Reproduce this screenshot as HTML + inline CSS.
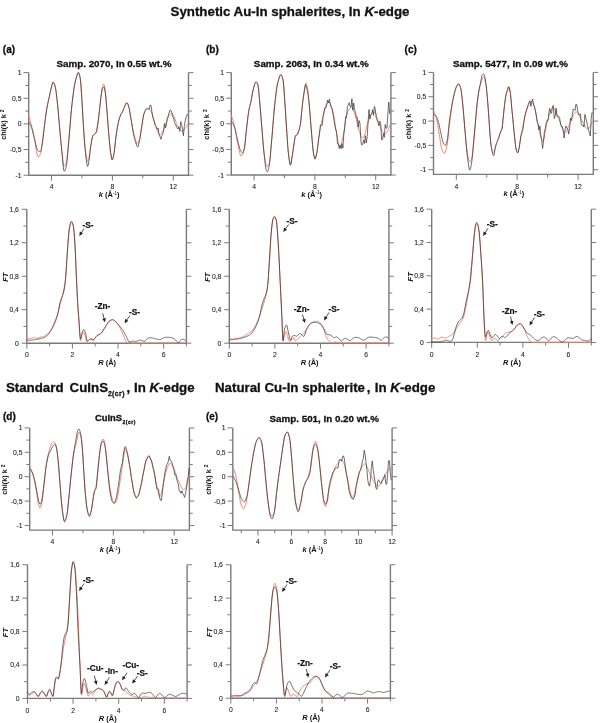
<!DOCTYPE html>
<html><head><meta charset="utf-8"><style>
html,body{margin:0;padding:0;background:#fff;}
svg{display:block;will-change:transform;font-family:'Liberation Sans', sans-serif;}
</style></head><body>
<svg width="600" height="723" viewBox="0 0 600 723">
<rect width="600" height="723" fill="#fff"/>
<line x1="28.70" y1="72.60" x2="28.70" y2="175.20" stroke="#7a7a7a" stroke-width="1.4"/>
<line x1="188.50" y1="72.60" x2="188.50" y2="175.20" stroke="#7a7a7a" stroke-width="1.4"/>
<line x1="28.10" y1="175.20" x2="189.10" y2="175.20" stroke="#7a7a7a" stroke-width="1.4"/>
<line x1="23.60" y1="175.20" x2="28.70" y2="175.20" stroke="#7a7a7a" stroke-width="1.0"/>
<text x="21.50" y="177.70" font-size="6.8" text-anchor="end" font-weight="normal" font-style="normal" fill="#222" stroke="#222" stroke-width="0.08" >-1</text>
<line x1="23.60" y1="149.55" x2="28.70" y2="149.55" stroke="#7a7a7a" stroke-width="1.0"/>
<text x="21.50" y="152.05" font-size="6.8" text-anchor="end" font-weight="normal" font-style="normal" fill="#222" stroke="#222" stroke-width="0.08" >-0,5</text>
<line x1="23.60" y1="123.90" x2="28.70" y2="123.90" stroke="#7a7a7a" stroke-width="1.0"/>
<text x="21.50" y="126.40" font-size="6.8" text-anchor="end" font-weight="normal" font-style="normal" fill="#222" stroke="#222" stroke-width="0.08" >0</text>
<line x1="23.60" y1="98.25" x2="28.70" y2="98.25" stroke="#7a7a7a" stroke-width="1.0"/>
<text x="21.50" y="100.75" font-size="6.8" text-anchor="end" font-weight="normal" font-style="normal" fill="#222" stroke="#222" stroke-width="0.08" >0,5</text>
<line x1="23.60" y1="72.60" x2="28.70" y2="72.60" stroke="#7a7a7a" stroke-width="1.0"/>
<text x="21.50" y="75.10" font-size="6.8" text-anchor="end" font-weight="normal" font-style="normal" fill="#222" stroke="#222" stroke-width="0.08" >1</text>
<line x1="25.30" y1="162.38" x2="28.70" y2="162.38" stroke="#7a7a7a" stroke-width="1.0"/>
<line x1="25.30" y1="136.72" x2="28.70" y2="136.72" stroke="#7a7a7a" stroke-width="1.0"/>
<line x1="25.30" y1="111.07" x2="28.70" y2="111.07" stroke="#7a7a7a" stroke-width="1.0"/>
<line x1="25.30" y1="85.42" x2="28.70" y2="85.42" stroke="#7a7a7a" stroke-width="1.0"/>
<line x1="188.50" y1="175.20" x2="193.40" y2="175.20" stroke="#7a7a7a" stroke-width="1.0"/>
<line x1="188.50" y1="149.55" x2="193.40" y2="149.55" stroke="#7a7a7a" stroke-width="1.0"/>
<line x1="188.50" y1="123.90" x2="193.40" y2="123.90" stroke="#7a7a7a" stroke-width="1.0"/>
<line x1="188.50" y1="98.25" x2="193.40" y2="98.25" stroke="#7a7a7a" stroke-width="1.0"/>
<line x1="188.50" y1="72.60" x2="193.40" y2="72.60" stroke="#7a7a7a" stroke-width="1.0"/>
<line x1="188.50" y1="162.38" x2="191.80" y2="162.38" stroke="#7a7a7a" stroke-width="1.0"/>
<line x1="188.50" y1="136.72" x2="191.80" y2="136.72" stroke="#7a7a7a" stroke-width="1.0"/>
<line x1="188.50" y1="111.07" x2="191.80" y2="111.07" stroke="#7a7a7a" stroke-width="1.0"/>
<line x1="188.50" y1="85.42" x2="191.80" y2="85.42" stroke="#7a7a7a" stroke-width="1.0"/>
<line x1="51.53" y1="175.20" x2="51.53" y2="180.60" stroke="#7a7a7a" stroke-width="1.0"/>
<text x="51.53" y="189.40" font-size="6.8" text-anchor="middle" font-weight="normal" font-style="normal" fill="#222" stroke="#222" stroke-width="0.08" >4</text>
<line x1="112.40" y1="175.20" x2="112.40" y2="180.60" stroke="#7a7a7a" stroke-width="1.0"/>
<text x="112.40" y="189.40" font-size="6.8" text-anchor="middle" font-weight="normal" font-style="normal" fill="#222" stroke="#222" stroke-width="0.08" >8</text>
<line x1="173.28" y1="175.20" x2="173.28" y2="180.60" stroke="#7a7a7a" stroke-width="1.0"/>
<text x="173.28" y="189.40" font-size="6.8" text-anchor="middle" font-weight="normal" font-style="normal" fill="#222" stroke="#222" stroke-width="0.08" >12</text>
<line x1="81.97" y1="175.20" x2="81.97" y2="178.40" stroke="#7a7a7a" stroke-width="1.0"/>
<line x1="142.84" y1="175.20" x2="142.84" y2="178.40" stroke="#7a7a7a" stroke-width="1.0"/>
<text transform="translate(6.40,124.60) rotate(-90)" font-size="7.3" font-weight="bold" text-anchor="middle" fill="#111">chi(k) k <tspan font-size="4.8" dy="-2.1">2</tspan></text>
<text x="109.10" y="197.00" font-size="7.5" font-weight="bold" text-anchor="middle" fill="#111"><tspan font-style="italic">k</tspan> (Å<tspan font-size="4.6" font-weight="normal" dy="-2.4">-1</tspan><tspan dy="2.4">)</tspan></text>
<line x1="26.80" y1="209.30" x2="26.80" y2="343.20" stroke="#7a7a7a" stroke-width="1.4"/>
<line x1="186.40" y1="209.30" x2="186.40" y2="343.20" stroke="#7a7a7a" stroke-width="1.4"/>
<line x1="26.20" y1="343.20" x2="187.00" y2="343.20" stroke="#7a7a7a" stroke-width="1.4"/>
<line x1="21.70" y1="343.20" x2="26.80" y2="343.20" stroke="#7a7a7a" stroke-width="1.0"/>
<text x="18.90" y="345.70" font-size="6.8" text-anchor="end" font-weight="normal" font-style="normal" fill="#222" stroke="#222" stroke-width="0.08" >0</text>
<line x1="21.70" y1="309.73" x2="26.80" y2="309.73" stroke="#7a7a7a" stroke-width="1.0"/>
<text x="18.90" y="312.23" font-size="6.8" text-anchor="end" font-weight="normal" font-style="normal" fill="#222" stroke="#222" stroke-width="0.08" >0,4</text>
<line x1="21.70" y1="276.25" x2="26.80" y2="276.25" stroke="#7a7a7a" stroke-width="1.0"/>
<text x="18.90" y="278.75" font-size="6.8" text-anchor="end" font-weight="normal" font-style="normal" fill="#222" stroke="#222" stroke-width="0.08" >0,8</text>
<line x1="21.70" y1="242.78" x2="26.80" y2="242.78" stroke="#7a7a7a" stroke-width="1.0"/>
<text x="18.90" y="245.28" font-size="6.8" text-anchor="end" font-weight="normal" font-style="normal" fill="#222" stroke="#222" stroke-width="0.08" >1,2</text>
<line x1="21.70" y1="209.30" x2="26.80" y2="209.30" stroke="#7a7a7a" stroke-width="1.0"/>
<text x="18.90" y="211.80" font-size="6.8" text-anchor="end" font-weight="normal" font-style="normal" fill="#222" stroke="#222" stroke-width="0.08" >1,6</text>
<line x1="23.40" y1="326.46" x2="26.80" y2="326.46" stroke="#7a7a7a" stroke-width="1.0"/>
<line x1="23.40" y1="292.99" x2="26.80" y2="292.99" stroke="#7a7a7a" stroke-width="1.0"/>
<line x1="23.40" y1="259.51" x2="26.80" y2="259.51" stroke="#7a7a7a" stroke-width="1.0"/>
<line x1="23.40" y1="226.04" x2="26.80" y2="226.04" stroke="#7a7a7a" stroke-width="1.0"/>
<line x1="186.40" y1="343.20" x2="191.30" y2="343.20" stroke="#7a7a7a" stroke-width="1.0"/>
<line x1="186.40" y1="309.73" x2="191.30" y2="309.73" stroke="#7a7a7a" stroke-width="1.0"/>
<line x1="186.40" y1="276.25" x2="191.30" y2="276.25" stroke="#7a7a7a" stroke-width="1.0"/>
<line x1="186.40" y1="242.78" x2="191.30" y2="242.78" stroke="#7a7a7a" stroke-width="1.0"/>
<line x1="186.40" y1="209.30" x2="191.30" y2="209.30" stroke="#7a7a7a" stroke-width="1.0"/>
<line x1="186.40" y1="326.46" x2="189.70" y2="326.46" stroke="#7a7a7a" stroke-width="1.0"/>
<line x1="186.40" y1="292.99" x2="189.70" y2="292.99" stroke="#7a7a7a" stroke-width="1.0"/>
<line x1="186.40" y1="259.51" x2="189.70" y2="259.51" stroke="#7a7a7a" stroke-width="1.0"/>
<line x1="186.40" y1="226.04" x2="189.70" y2="226.04" stroke="#7a7a7a" stroke-width="1.0"/>
<line x1="26.80" y1="343.20" x2="26.80" y2="348.60" stroke="#7a7a7a" stroke-width="1.0"/>
<text x="26.80" y="357.40" font-size="6.8" text-anchor="middle" font-weight="normal" font-style="normal" fill="#222" stroke="#222" stroke-width="0.08" >0</text>
<line x1="72.40" y1="343.20" x2="72.40" y2="348.60" stroke="#7a7a7a" stroke-width="1.0"/>
<text x="72.40" y="357.40" font-size="6.8" text-anchor="middle" font-weight="normal" font-style="normal" fill="#222" stroke="#222" stroke-width="0.08" >2</text>
<line x1="118.00" y1="343.20" x2="118.00" y2="348.60" stroke="#7a7a7a" stroke-width="1.0"/>
<text x="118.00" y="357.40" font-size="6.8" text-anchor="middle" font-weight="normal" font-style="normal" fill="#222" stroke="#222" stroke-width="0.08" >4</text>
<line x1="163.60" y1="343.20" x2="163.60" y2="348.60" stroke="#7a7a7a" stroke-width="1.0"/>
<text x="163.60" y="357.40" font-size="6.8" text-anchor="middle" font-weight="normal" font-style="normal" fill="#222" stroke="#222" stroke-width="0.08" >6</text>
<line x1="49.60" y1="343.20" x2="49.60" y2="346.40" stroke="#7a7a7a" stroke-width="1.0"/>
<line x1="95.20" y1="343.20" x2="95.20" y2="346.40" stroke="#7a7a7a" stroke-width="1.0"/>
<line x1="140.80" y1="343.20" x2="140.80" y2="346.40" stroke="#7a7a7a" stroke-width="1.0"/>
<line x1="186.40" y1="343.20" x2="186.40" y2="346.40" stroke="#7a7a7a" stroke-width="1.0"/>
<text transform="translate(7.60,277.25) rotate(-90)" font-size="7.5" font-weight="bold" font-style="italic" text-anchor="middle" fill="#111">FT</text>
<text x="107.10" y="365.40" font-size="7.5" font-weight="bold" text-anchor="middle" fill="#111"><tspan font-style="italic">R</tspan> (Å)</text>
<line x1="231.30" y1="72.60" x2="231.30" y2="175.00" stroke="#7a7a7a" stroke-width="1.4"/>
<line x1="390.90" y1="72.60" x2="390.90" y2="175.00" stroke="#7a7a7a" stroke-width="1.4"/>
<line x1="230.70" y1="175.00" x2="391.50" y2="175.00" stroke="#7a7a7a" stroke-width="1.4"/>
<line x1="226.20" y1="175.00" x2="231.30" y2="175.00" stroke="#7a7a7a" stroke-width="1.0"/>
<text x="224.10" y="177.50" font-size="6.8" text-anchor="end" font-weight="normal" font-style="normal" fill="#222" stroke="#222" stroke-width="0.08" >-1</text>
<line x1="226.20" y1="149.40" x2="231.30" y2="149.40" stroke="#7a7a7a" stroke-width="1.0"/>
<text x="224.10" y="151.90" font-size="6.8" text-anchor="end" font-weight="normal" font-style="normal" fill="#222" stroke="#222" stroke-width="0.08" >-0,5</text>
<line x1="226.20" y1="123.80" x2="231.30" y2="123.80" stroke="#7a7a7a" stroke-width="1.0"/>
<text x="224.10" y="126.30" font-size="6.8" text-anchor="end" font-weight="normal" font-style="normal" fill="#222" stroke="#222" stroke-width="0.08" >0</text>
<line x1="226.20" y1="98.20" x2="231.30" y2="98.20" stroke="#7a7a7a" stroke-width="1.0"/>
<text x="224.10" y="100.70" font-size="6.8" text-anchor="end" font-weight="normal" font-style="normal" fill="#222" stroke="#222" stroke-width="0.08" >0,5</text>
<line x1="226.20" y1="72.60" x2="231.30" y2="72.60" stroke="#7a7a7a" stroke-width="1.0"/>
<text x="224.10" y="75.10" font-size="6.8" text-anchor="end" font-weight="normal" font-style="normal" fill="#222" stroke="#222" stroke-width="0.08" >1</text>
<line x1="227.90" y1="162.20" x2="231.30" y2="162.20" stroke="#7a7a7a" stroke-width="1.0"/>
<line x1="227.90" y1="136.60" x2="231.30" y2="136.60" stroke="#7a7a7a" stroke-width="1.0"/>
<line x1="227.90" y1="111.00" x2="231.30" y2="111.00" stroke="#7a7a7a" stroke-width="1.0"/>
<line x1="227.90" y1="85.40" x2="231.30" y2="85.40" stroke="#7a7a7a" stroke-width="1.0"/>
<line x1="390.90" y1="175.00" x2="395.80" y2="175.00" stroke="#7a7a7a" stroke-width="1.0"/>
<line x1="390.90" y1="149.40" x2="395.80" y2="149.40" stroke="#7a7a7a" stroke-width="1.0"/>
<line x1="390.90" y1="123.80" x2="395.80" y2="123.80" stroke="#7a7a7a" stroke-width="1.0"/>
<line x1="390.90" y1="98.20" x2="395.80" y2="98.20" stroke="#7a7a7a" stroke-width="1.0"/>
<line x1="390.90" y1="72.60" x2="395.80" y2="72.60" stroke="#7a7a7a" stroke-width="1.0"/>
<line x1="390.90" y1="162.20" x2="394.20" y2="162.20" stroke="#7a7a7a" stroke-width="1.0"/>
<line x1="390.90" y1="136.60" x2="394.20" y2="136.60" stroke="#7a7a7a" stroke-width="1.0"/>
<line x1="390.90" y1="111.00" x2="394.20" y2="111.00" stroke="#7a7a7a" stroke-width="1.0"/>
<line x1="390.90" y1="85.40" x2="394.20" y2="85.40" stroke="#7a7a7a" stroke-width="1.0"/>
<line x1="254.10" y1="175.00" x2="254.10" y2="180.40" stroke="#7a7a7a" stroke-width="1.0"/>
<text x="254.10" y="189.20" font-size="6.8" text-anchor="middle" font-weight="normal" font-style="normal" fill="#222" stroke="#222" stroke-width="0.08" >4</text>
<line x1="314.90" y1="175.00" x2="314.90" y2="180.40" stroke="#7a7a7a" stroke-width="1.0"/>
<text x="314.90" y="189.20" font-size="6.8" text-anchor="middle" font-weight="normal" font-style="normal" fill="#222" stroke="#222" stroke-width="0.08" >8</text>
<line x1="375.70" y1="175.00" x2="375.70" y2="180.40" stroke="#7a7a7a" stroke-width="1.0"/>
<text x="375.70" y="189.20" font-size="6.8" text-anchor="middle" font-weight="normal" font-style="normal" fill="#222" stroke="#222" stroke-width="0.08" >12</text>
<line x1="284.50" y1="175.00" x2="284.50" y2="178.20" stroke="#7a7a7a" stroke-width="1.0"/>
<line x1="345.30" y1="175.00" x2="345.30" y2="178.20" stroke="#7a7a7a" stroke-width="1.0"/>
<text transform="translate(209.00,124.50) rotate(-90)" font-size="7.3" font-weight="bold" text-anchor="middle" fill="#111">chi(k) k <tspan font-size="4.8" dy="-2.1">2</tspan></text>
<text x="311.60" y="196.80" font-size="7.5" font-weight="bold" text-anchor="middle" fill="#111"><tspan font-style="italic">k</tspan> (Å<tspan font-size="4.6" font-weight="normal" dy="-2.4">-1</tspan><tspan dy="2.4">)</tspan></text>
<line x1="229.30" y1="209.30" x2="229.30" y2="343.20" stroke="#7a7a7a" stroke-width="1.4"/>
<line x1="388.90" y1="209.30" x2="388.90" y2="343.20" stroke="#7a7a7a" stroke-width="1.4"/>
<line x1="228.70" y1="343.20" x2="389.50" y2="343.20" stroke="#7a7a7a" stroke-width="1.4"/>
<line x1="224.20" y1="343.20" x2="229.30" y2="343.20" stroke="#7a7a7a" stroke-width="1.0"/>
<text x="221.40" y="345.70" font-size="6.8" text-anchor="end" font-weight="normal" font-style="normal" fill="#222" stroke="#222" stroke-width="0.08" >0</text>
<line x1="224.20" y1="309.73" x2="229.30" y2="309.73" stroke="#7a7a7a" stroke-width="1.0"/>
<text x="221.40" y="312.23" font-size="6.8" text-anchor="end" font-weight="normal" font-style="normal" fill="#222" stroke="#222" stroke-width="0.08" >0,4</text>
<line x1="224.20" y1="276.25" x2="229.30" y2="276.25" stroke="#7a7a7a" stroke-width="1.0"/>
<text x="221.40" y="278.75" font-size="6.8" text-anchor="end" font-weight="normal" font-style="normal" fill="#222" stroke="#222" stroke-width="0.08" >0,8</text>
<line x1="224.20" y1="242.78" x2="229.30" y2="242.78" stroke="#7a7a7a" stroke-width="1.0"/>
<text x="221.40" y="245.28" font-size="6.8" text-anchor="end" font-weight="normal" font-style="normal" fill="#222" stroke="#222" stroke-width="0.08" >1,2</text>
<line x1="224.20" y1="209.30" x2="229.30" y2="209.30" stroke="#7a7a7a" stroke-width="1.0"/>
<text x="221.40" y="211.80" font-size="6.8" text-anchor="end" font-weight="normal" font-style="normal" fill="#222" stroke="#222" stroke-width="0.08" >1,6</text>
<line x1="225.90" y1="326.46" x2="229.30" y2="326.46" stroke="#7a7a7a" stroke-width="1.0"/>
<line x1="225.90" y1="292.99" x2="229.30" y2="292.99" stroke="#7a7a7a" stroke-width="1.0"/>
<line x1="225.90" y1="259.51" x2="229.30" y2="259.51" stroke="#7a7a7a" stroke-width="1.0"/>
<line x1="225.90" y1="226.04" x2="229.30" y2="226.04" stroke="#7a7a7a" stroke-width="1.0"/>
<line x1="388.90" y1="343.20" x2="393.80" y2="343.20" stroke="#7a7a7a" stroke-width="1.0"/>
<line x1="388.90" y1="309.73" x2="393.80" y2="309.73" stroke="#7a7a7a" stroke-width="1.0"/>
<line x1="388.90" y1="276.25" x2="393.80" y2="276.25" stroke="#7a7a7a" stroke-width="1.0"/>
<line x1="388.90" y1="242.78" x2="393.80" y2="242.78" stroke="#7a7a7a" stroke-width="1.0"/>
<line x1="388.90" y1="209.30" x2="393.80" y2="209.30" stroke="#7a7a7a" stroke-width="1.0"/>
<line x1="388.90" y1="326.46" x2="392.20" y2="326.46" stroke="#7a7a7a" stroke-width="1.0"/>
<line x1="388.90" y1="292.99" x2="392.20" y2="292.99" stroke="#7a7a7a" stroke-width="1.0"/>
<line x1="388.90" y1="259.51" x2="392.20" y2="259.51" stroke="#7a7a7a" stroke-width="1.0"/>
<line x1="388.90" y1="226.04" x2="392.20" y2="226.04" stroke="#7a7a7a" stroke-width="1.0"/>
<line x1="229.30" y1="343.20" x2="229.30" y2="348.60" stroke="#7a7a7a" stroke-width="1.0"/>
<text x="229.30" y="357.40" font-size="6.8" text-anchor="middle" font-weight="normal" font-style="normal" fill="#222" stroke="#222" stroke-width="0.08" >0</text>
<line x1="274.90" y1="343.20" x2="274.90" y2="348.60" stroke="#7a7a7a" stroke-width="1.0"/>
<text x="274.90" y="357.40" font-size="6.8" text-anchor="middle" font-weight="normal" font-style="normal" fill="#222" stroke="#222" stroke-width="0.08" >2</text>
<line x1="320.50" y1="343.20" x2="320.50" y2="348.60" stroke="#7a7a7a" stroke-width="1.0"/>
<text x="320.50" y="357.40" font-size="6.8" text-anchor="middle" font-weight="normal" font-style="normal" fill="#222" stroke="#222" stroke-width="0.08" >4</text>
<line x1="366.10" y1="343.20" x2="366.10" y2="348.60" stroke="#7a7a7a" stroke-width="1.0"/>
<text x="366.10" y="357.40" font-size="6.8" text-anchor="middle" font-weight="normal" font-style="normal" fill="#222" stroke="#222" stroke-width="0.08" >6</text>
<line x1="252.10" y1="343.20" x2="252.10" y2="346.40" stroke="#7a7a7a" stroke-width="1.0"/>
<line x1="297.70" y1="343.20" x2="297.70" y2="346.40" stroke="#7a7a7a" stroke-width="1.0"/>
<line x1="343.30" y1="343.20" x2="343.30" y2="346.40" stroke="#7a7a7a" stroke-width="1.0"/>
<line x1="388.90" y1="343.20" x2="388.90" y2="346.40" stroke="#7a7a7a" stroke-width="1.0"/>
<text transform="translate(210.10,277.25) rotate(-90)" font-size="7.5" font-weight="bold" font-style="italic" text-anchor="middle" fill="#111">FT</text>
<text x="309.60" y="365.40" font-size="7.5" font-weight="bold" text-anchor="middle" fill="#111"><tspan font-style="italic">R</tspan> (Å)</text>
<line x1="433.50" y1="72.40" x2="433.50" y2="174.40" stroke="#7a7a7a" stroke-width="1.4"/>
<line x1="593.30" y1="72.40" x2="593.30" y2="174.40" stroke="#7a7a7a" stroke-width="1.4"/>
<line x1="432.90" y1="174.40" x2="593.90" y2="174.40" stroke="#7a7a7a" stroke-width="1.4"/>
<line x1="428.40" y1="169.70" x2="433.50" y2="169.70" stroke="#7a7a7a" stroke-width="1.0"/>
<text x="426.30" y="172.20" font-size="6.8" text-anchor="end" font-weight="normal" font-style="normal" fill="#222" stroke="#222" stroke-width="0.08" >-1</text>
<line x1="428.40" y1="145.38" x2="433.50" y2="145.38" stroke="#7a7a7a" stroke-width="1.0"/>
<text x="426.30" y="147.88" font-size="6.8" text-anchor="end" font-weight="normal" font-style="normal" fill="#222" stroke="#222" stroke-width="0.08" >-0,5</text>
<line x1="428.40" y1="121.05" x2="433.50" y2="121.05" stroke="#7a7a7a" stroke-width="1.0"/>
<text x="426.30" y="123.55" font-size="6.8" text-anchor="end" font-weight="normal" font-style="normal" fill="#222" stroke="#222" stroke-width="0.08" >0</text>
<line x1="428.40" y1="96.72" x2="433.50" y2="96.72" stroke="#7a7a7a" stroke-width="1.0"/>
<text x="426.30" y="99.22" font-size="6.8" text-anchor="end" font-weight="normal" font-style="normal" fill="#222" stroke="#222" stroke-width="0.08" >0,5</text>
<line x1="428.40" y1="72.40" x2="433.50" y2="72.40" stroke="#7a7a7a" stroke-width="1.0"/>
<text x="426.30" y="74.90" font-size="6.8" text-anchor="end" font-weight="normal" font-style="normal" fill="#222" stroke="#222" stroke-width="0.08" >1</text>
<line x1="430.10" y1="157.54" x2="433.50" y2="157.54" stroke="#7a7a7a" stroke-width="1.0"/>
<line x1="430.10" y1="133.21" x2="433.50" y2="133.21" stroke="#7a7a7a" stroke-width="1.0"/>
<line x1="430.10" y1="108.89" x2="433.50" y2="108.89" stroke="#7a7a7a" stroke-width="1.0"/>
<line x1="430.10" y1="84.56" x2="433.50" y2="84.56" stroke="#7a7a7a" stroke-width="1.0"/>
<line x1="593.30" y1="169.70" x2="598.20" y2="169.70" stroke="#7a7a7a" stroke-width="1.0"/>
<line x1="593.30" y1="145.38" x2="598.20" y2="145.38" stroke="#7a7a7a" stroke-width="1.0"/>
<line x1="593.30" y1="121.05" x2="598.20" y2="121.05" stroke="#7a7a7a" stroke-width="1.0"/>
<line x1="593.30" y1="96.72" x2="598.20" y2="96.72" stroke="#7a7a7a" stroke-width="1.0"/>
<line x1="593.30" y1="72.40" x2="598.20" y2="72.40" stroke="#7a7a7a" stroke-width="1.0"/>
<line x1="593.30" y1="157.54" x2="596.60" y2="157.54" stroke="#7a7a7a" stroke-width="1.0"/>
<line x1="593.30" y1="133.21" x2="596.60" y2="133.21" stroke="#7a7a7a" stroke-width="1.0"/>
<line x1="593.30" y1="108.89" x2="596.60" y2="108.89" stroke="#7a7a7a" stroke-width="1.0"/>
<line x1="593.30" y1="84.56" x2="596.60" y2="84.56" stroke="#7a7a7a" stroke-width="1.0"/>
<line x1="456.33" y1="174.40" x2="456.33" y2="179.80" stroke="#7a7a7a" stroke-width="1.0"/>
<text x="456.33" y="188.60" font-size="6.8" text-anchor="middle" font-weight="normal" font-style="normal" fill="#222" stroke="#222" stroke-width="0.08" >4</text>
<line x1="517.20" y1="174.40" x2="517.20" y2="179.80" stroke="#7a7a7a" stroke-width="1.0"/>
<text x="517.20" y="188.60" font-size="6.8" text-anchor="middle" font-weight="normal" font-style="normal" fill="#222" stroke="#222" stroke-width="0.08" >8</text>
<line x1="578.08" y1="174.40" x2="578.08" y2="179.80" stroke="#7a7a7a" stroke-width="1.0"/>
<text x="578.08" y="188.60" font-size="6.8" text-anchor="middle" font-weight="normal" font-style="normal" fill="#222" stroke="#222" stroke-width="0.08" >12</text>
<line x1="486.77" y1="174.40" x2="486.77" y2="177.60" stroke="#7a7a7a" stroke-width="1.0"/>
<line x1="547.64" y1="174.40" x2="547.64" y2="177.60" stroke="#7a7a7a" stroke-width="1.0"/>
<text transform="translate(411.20,124.10) rotate(-90)" font-size="7.3" font-weight="bold" text-anchor="middle" fill="#111">chi(k) k <tspan font-size="4.8" dy="-2.1">2</tspan></text>
<text x="513.90" y="196.20" font-size="7.5" font-weight="bold" text-anchor="middle" fill="#111"><tspan font-style="italic">k</tspan> (Å<tspan font-size="4.6" font-weight="normal" dy="-2.4">-1</tspan><tspan dy="2.4">)</tspan></text>
<line x1="431.70" y1="209.20" x2="431.70" y2="342.40" stroke="#7a7a7a" stroke-width="1.4"/>
<line x1="591.30" y1="209.20" x2="591.30" y2="342.40" stroke="#7a7a7a" stroke-width="1.4"/>
<line x1="431.10" y1="342.40" x2="591.90" y2="342.40" stroke="#7a7a7a" stroke-width="1.4"/>
<line x1="426.60" y1="342.40" x2="431.70" y2="342.40" stroke="#7a7a7a" stroke-width="1.0"/>
<text x="423.80" y="344.90" font-size="6.8" text-anchor="end" font-weight="normal" font-style="normal" fill="#222" stroke="#222" stroke-width="0.08" >0</text>
<line x1="426.60" y1="309.10" x2="431.70" y2="309.10" stroke="#7a7a7a" stroke-width="1.0"/>
<text x="423.80" y="311.60" font-size="6.8" text-anchor="end" font-weight="normal" font-style="normal" fill="#222" stroke="#222" stroke-width="0.08" >0,4</text>
<line x1="426.60" y1="275.80" x2="431.70" y2="275.80" stroke="#7a7a7a" stroke-width="1.0"/>
<text x="423.80" y="278.30" font-size="6.8" text-anchor="end" font-weight="normal" font-style="normal" fill="#222" stroke="#222" stroke-width="0.08" >0,8</text>
<line x1="426.60" y1="242.50" x2="431.70" y2="242.50" stroke="#7a7a7a" stroke-width="1.0"/>
<text x="423.80" y="245.00" font-size="6.8" text-anchor="end" font-weight="normal" font-style="normal" fill="#222" stroke="#222" stroke-width="0.08" >1,2</text>
<line x1="426.60" y1="209.20" x2="431.70" y2="209.20" stroke="#7a7a7a" stroke-width="1.0"/>
<text x="423.80" y="211.70" font-size="6.8" text-anchor="end" font-weight="normal" font-style="normal" fill="#222" stroke="#222" stroke-width="0.08" >1,6</text>
<line x1="428.30" y1="325.75" x2="431.70" y2="325.75" stroke="#7a7a7a" stroke-width="1.0"/>
<line x1="428.30" y1="292.45" x2="431.70" y2="292.45" stroke="#7a7a7a" stroke-width="1.0"/>
<line x1="428.30" y1="259.15" x2="431.70" y2="259.15" stroke="#7a7a7a" stroke-width="1.0"/>
<line x1="428.30" y1="225.85" x2="431.70" y2="225.85" stroke="#7a7a7a" stroke-width="1.0"/>
<line x1="591.30" y1="342.40" x2="596.20" y2="342.40" stroke="#7a7a7a" stroke-width="1.0"/>
<line x1="591.30" y1="309.10" x2="596.20" y2="309.10" stroke="#7a7a7a" stroke-width="1.0"/>
<line x1="591.30" y1="275.80" x2="596.20" y2="275.80" stroke="#7a7a7a" stroke-width="1.0"/>
<line x1="591.30" y1="242.50" x2="596.20" y2="242.50" stroke="#7a7a7a" stroke-width="1.0"/>
<line x1="591.30" y1="209.20" x2="596.20" y2="209.20" stroke="#7a7a7a" stroke-width="1.0"/>
<line x1="591.30" y1="325.75" x2="594.60" y2="325.75" stroke="#7a7a7a" stroke-width="1.0"/>
<line x1="591.30" y1="292.45" x2="594.60" y2="292.45" stroke="#7a7a7a" stroke-width="1.0"/>
<line x1="591.30" y1="259.15" x2="594.60" y2="259.15" stroke="#7a7a7a" stroke-width="1.0"/>
<line x1="591.30" y1="225.85" x2="594.60" y2="225.85" stroke="#7a7a7a" stroke-width="1.0"/>
<line x1="431.70" y1="342.40" x2="431.70" y2="347.80" stroke="#7a7a7a" stroke-width="1.0"/>
<text x="431.70" y="356.60" font-size="6.8" text-anchor="middle" font-weight="normal" font-style="normal" fill="#222" stroke="#222" stroke-width="0.08" >0</text>
<line x1="477.30" y1="342.40" x2="477.30" y2="347.80" stroke="#7a7a7a" stroke-width="1.0"/>
<text x="477.30" y="356.60" font-size="6.8" text-anchor="middle" font-weight="normal" font-style="normal" fill="#222" stroke="#222" stroke-width="0.08" >2</text>
<line x1="522.90" y1="342.40" x2="522.90" y2="347.80" stroke="#7a7a7a" stroke-width="1.0"/>
<text x="522.90" y="356.60" font-size="6.8" text-anchor="middle" font-weight="normal" font-style="normal" fill="#222" stroke="#222" stroke-width="0.08" >4</text>
<line x1="568.50" y1="342.40" x2="568.50" y2="347.80" stroke="#7a7a7a" stroke-width="1.0"/>
<text x="568.50" y="356.60" font-size="6.8" text-anchor="middle" font-weight="normal" font-style="normal" fill="#222" stroke="#222" stroke-width="0.08" >6</text>
<line x1="454.50" y1="342.40" x2="454.50" y2="345.60" stroke="#7a7a7a" stroke-width="1.0"/>
<line x1="500.10" y1="342.40" x2="500.10" y2="345.60" stroke="#7a7a7a" stroke-width="1.0"/>
<line x1="545.70" y1="342.40" x2="545.70" y2="345.60" stroke="#7a7a7a" stroke-width="1.0"/>
<line x1="591.30" y1="342.40" x2="591.30" y2="345.60" stroke="#7a7a7a" stroke-width="1.0"/>
<text transform="translate(412.50,276.80) rotate(-90)" font-size="7.5" font-weight="bold" font-style="italic" text-anchor="middle" fill="#111">FT</text>
<text x="512.00" y="364.60" font-size="7.5" font-weight="bold" text-anchor="middle" fill="#111"><tspan font-style="italic">R</tspan> (Å)</text>
<line x1="29.70" y1="427.90" x2="29.70" y2="530.10" stroke="#7a7a7a" stroke-width="1.4"/>
<line x1="189.40" y1="427.90" x2="189.40" y2="530.10" stroke="#7a7a7a" stroke-width="1.4"/>
<line x1="29.10" y1="530.10" x2="190.00" y2="530.10" stroke="#7a7a7a" stroke-width="1.4"/>
<line x1="24.60" y1="525.50" x2="29.70" y2="525.50" stroke="#7a7a7a" stroke-width="1.0"/>
<text x="22.50" y="528.00" font-size="6.8" text-anchor="end" font-weight="normal" font-style="normal" fill="#222" stroke="#222" stroke-width="0.08" >-1</text>
<line x1="24.60" y1="501.10" x2="29.70" y2="501.10" stroke="#7a7a7a" stroke-width="1.0"/>
<text x="22.50" y="503.60" font-size="6.8" text-anchor="end" font-weight="normal" font-style="normal" fill="#222" stroke="#222" stroke-width="0.08" >-0,5</text>
<line x1="24.60" y1="476.70" x2="29.70" y2="476.70" stroke="#7a7a7a" stroke-width="1.0"/>
<text x="22.50" y="479.20" font-size="6.8" text-anchor="end" font-weight="normal" font-style="normal" fill="#222" stroke="#222" stroke-width="0.08" >0</text>
<line x1="24.60" y1="452.30" x2="29.70" y2="452.30" stroke="#7a7a7a" stroke-width="1.0"/>
<text x="22.50" y="454.80" font-size="6.8" text-anchor="end" font-weight="normal" font-style="normal" fill="#222" stroke="#222" stroke-width="0.08" >0,5</text>
<line x1="24.60" y1="427.90" x2="29.70" y2="427.90" stroke="#7a7a7a" stroke-width="1.0"/>
<text x="22.50" y="430.40" font-size="6.8" text-anchor="end" font-weight="normal" font-style="normal" fill="#222" stroke="#222" stroke-width="0.08" >1</text>
<line x1="26.30" y1="513.30" x2="29.70" y2="513.30" stroke="#7a7a7a" stroke-width="1.0"/>
<line x1="26.30" y1="488.90" x2="29.70" y2="488.90" stroke="#7a7a7a" stroke-width="1.0"/>
<line x1="26.30" y1="464.50" x2="29.70" y2="464.50" stroke="#7a7a7a" stroke-width="1.0"/>
<line x1="26.30" y1="440.10" x2="29.70" y2="440.10" stroke="#7a7a7a" stroke-width="1.0"/>
<line x1="189.40" y1="525.50" x2="194.30" y2="525.50" stroke="#7a7a7a" stroke-width="1.0"/>
<line x1="189.40" y1="501.10" x2="194.30" y2="501.10" stroke="#7a7a7a" stroke-width="1.0"/>
<line x1="189.40" y1="476.70" x2="194.30" y2="476.70" stroke="#7a7a7a" stroke-width="1.0"/>
<line x1="189.40" y1="452.30" x2="194.30" y2="452.30" stroke="#7a7a7a" stroke-width="1.0"/>
<line x1="189.40" y1="427.90" x2="194.30" y2="427.90" stroke="#7a7a7a" stroke-width="1.0"/>
<line x1="189.40" y1="513.30" x2="192.70" y2="513.30" stroke="#7a7a7a" stroke-width="1.0"/>
<line x1="189.40" y1="488.90" x2="192.70" y2="488.90" stroke="#7a7a7a" stroke-width="1.0"/>
<line x1="189.40" y1="464.50" x2="192.70" y2="464.50" stroke="#7a7a7a" stroke-width="1.0"/>
<line x1="189.40" y1="440.10" x2="192.70" y2="440.10" stroke="#7a7a7a" stroke-width="1.0"/>
<line x1="52.51" y1="530.10" x2="52.51" y2="535.50" stroke="#7a7a7a" stroke-width="1.0"/>
<text x="52.51" y="544.30" font-size="6.8" text-anchor="middle" font-weight="normal" font-style="normal" fill="#222" stroke="#222" stroke-width="0.08" >4</text>
<line x1="113.35" y1="530.10" x2="113.35" y2="535.50" stroke="#7a7a7a" stroke-width="1.0"/>
<text x="113.35" y="544.30" font-size="6.8" text-anchor="middle" font-weight="normal" font-style="normal" fill="#222" stroke="#222" stroke-width="0.08" >8</text>
<line x1="174.19" y1="530.10" x2="174.19" y2="535.50" stroke="#7a7a7a" stroke-width="1.0"/>
<text x="174.19" y="544.30" font-size="6.8" text-anchor="middle" font-weight="normal" font-style="normal" fill="#222" stroke="#222" stroke-width="0.08" >12</text>
<line x1="82.93" y1="530.10" x2="82.93" y2="533.30" stroke="#7a7a7a" stroke-width="1.0"/>
<line x1="143.77" y1="530.10" x2="143.77" y2="533.30" stroke="#7a7a7a" stroke-width="1.0"/>
<text transform="translate(7.40,479.70) rotate(-90)" font-size="7.3" font-weight="bold" text-anchor="middle" fill="#111">chi(k) k <tspan font-size="4.8" dy="-2.1">2</tspan></text>
<text x="110.05" y="551.90" font-size="7.5" font-weight="bold" text-anchor="middle" fill="#111"><tspan font-style="italic">k</tspan> (Å<tspan font-size="4.6" font-weight="normal" dy="-2.4">-1</tspan><tspan dy="2.4">)</tspan></text>
<line x1="27.50" y1="564.75" x2="27.50" y2="698.40" stroke="#7a7a7a" stroke-width="1.4"/>
<line x1="187.10" y1="564.75" x2="187.10" y2="698.40" stroke="#7a7a7a" stroke-width="1.4"/>
<line x1="26.90" y1="698.40" x2="187.70" y2="698.40" stroke="#7a7a7a" stroke-width="1.4"/>
<line x1="22.40" y1="698.40" x2="27.50" y2="698.40" stroke="#7a7a7a" stroke-width="1.0"/>
<text x="19.60" y="700.90" font-size="6.8" text-anchor="end" font-weight="normal" font-style="normal" fill="#222" stroke="#222" stroke-width="0.08" >0</text>
<line x1="22.40" y1="664.99" x2="27.50" y2="664.99" stroke="#7a7a7a" stroke-width="1.0"/>
<text x="19.60" y="667.49" font-size="6.8" text-anchor="end" font-weight="normal" font-style="normal" fill="#222" stroke="#222" stroke-width="0.08" >0,4</text>
<line x1="22.40" y1="631.58" x2="27.50" y2="631.58" stroke="#7a7a7a" stroke-width="1.0"/>
<text x="19.60" y="634.08" font-size="6.8" text-anchor="end" font-weight="normal" font-style="normal" fill="#222" stroke="#222" stroke-width="0.08" >0,8</text>
<line x1="22.40" y1="598.16" x2="27.50" y2="598.16" stroke="#7a7a7a" stroke-width="1.0"/>
<text x="19.60" y="600.66" font-size="6.8" text-anchor="end" font-weight="normal" font-style="normal" fill="#222" stroke="#222" stroke-width="0.08" >1,2</text>
<line x1="22.40" y1="564.75" x2="27.50" y2="564.75" stroke="#7a7a7a" stroke-width="1.0"/>
<text x="19.60" y="567.25" font-size="6.8" text-anchor="end" font-weight="normal" font-style="normal" fill="#222" stroke="#222" stroke-width="0.08" >1,6</text>
<line x1="24.10" y1="681.69" x2="27.50" y2="681.69" stroke="#7a7a7a" stroke-width="1.0"/>
<line x1="24.10" y1="648.28" x2="27.50" y2="648.28" stroke="#7a7a7a" stroke-width="1.0"/>
<line x1="24.10" y1="614.87" x2="27.50" y2="614.87" stroke="#7a7a7a" stroke-width="1.0"/>
<line x1="24.10" y1="581.46" x2="27.50" y2="581.46" stroke="#7a7a7a" stroke-width="1.0"/>
<line x1="187.10" y1="698.40" x2="192.00" y2="698.40" stroke="#7a7a7a" stroke-width="1.0"/>
<line x1="187.10" y1="664.99" x2="192.00" y2="664.99" stroke="#7a7a7a" stroke-width="1.0"/>
<line x1="187.10" y1="631.58" x2="192.00" y2="631.58" stroke="#7a7a7a" stroke-width="1.0"/>
<line x1="187.10" y1="598.16" x2="192.00" y2="598.16" stroke="#7a7a7a" stroke-width="1.0"/>
<line x1="187.10" y1="564.75" x2="192.00" y2="564.75" stroke="#7a7a7a" stroke-width="1.0"/>
<line x1="187.10" y1="681.69" x2="190.40" y2="681.69" stroke="#7a7a7a" stroke-width="1.0"/>
<line x1="187.10" y1="648.28" x2="190.40" y2="648.28" stroke="#7a7a7a" stroke-width="1.0"/>
<line x1="187.10" y1="614.87" x2="190.40" y2="614.87" stroke="#7a7a7a" stroke-width="1.0"/>
<line x1="187.10" y1="581.46" x2="190.40" y2="581.46" stroke="#7a7a7a" stroke-width="1.0"/>
<line x1="27.50" y1="698.40" x2="27.50" y2="703.80" stroke="#7a7a7a" stroke-width="1.0"/>
<text x="27.50" y="712.60" font-size="6.8" text-anchor="middle" font-weight="normal" font-style="normal" fill="#222" stroke="#222" stroke-width="0.08" >0</text>
<line x1="73.10" y1="698.40" x2="73.10" y2="703.80" stroke="#7a7a7a" stroke-width="1.0"/>
<text x="73.10" y="712.60" font-size="6.8" text-anchor="middle" font-weight="normal" font-style="normal" fill="#222" stroke="#222" stroke-width="0.08" >2</text>
<line x1="118.70" y1="698.40" x2="118.70" y2="703.80" stroke="#7a7a7a" stroke-width="1.0"/>
<text x="118.70" y="712.60" font-size="6.8" text-anchor="middle" font-weight="normal" font-style="normal" fill="#222" stroke="#222" stroke-width="0.08" >4</text>
<line x1="164.30" y1="698.40" x2="164.30" y2="703.80" stroke="#7a7a7a" stroke-width="1.0"/>
<text x="164.30" y="712.60" font-size="6.8" text-anchor="middle" font-weight="normal" font-style="normal" fill="#222" stroke="#222" stroke-width="0.08" >6</text>
<line x1="50.30" y1="698.40" x2="50.30" y2="701.60" stroke="#7a7a7a" stroke-width="1.0"/>
<line x1="95.90" y1="698.40" x2="95.90" y2="701.60" stroke="#7a7a7a" stroke-width="1.0"/>
<line x1="141.50" y1="698.40" x2="141.50" y2="701.60" stroke="#7a7a7a" stroke-width="1.0"/>
<line x1="187.10" y1="698.40" x2="187.10" y2="701.60" stroke="#7a7a7a" stroke-width="1.0"/>
<text transform="translate(8.30,632.58) rotate(-90)" font-size="7.5" font-weight="bold" font-style="italic" text-anchor="middle" fill="#111">FT</text>
<text x="107.80" y="720.60" font-size="7.5" font-weight="bold" text-anchor="middle" fill="#111"><tspan font-style="italic">R</tspan> (Å)</text>
<line x1="232.80" y1="427.90" x2="232.80" y2="530.10" stroke="#7a7a7a" stroke-width="1.4"/>
<line x1="392.10" y1="427.90" x2="392.10" y2="530.10" stroke="#7a7a7a" stroke-width="1.4"/>
<line x1="232.20" y1="530.10" x2="392.70" y2="530.10" stroke="#7a7a7a" stroke-width="1.4"/>
<line x1="227.70" y1="525.50" x2="232.80" y2="525.50" stroke="#7a7a7a" stroke-width="1.0"/>
<text x="225.60" y="528.00" font-size="6.8" text-anchor="end" font-weight="normal" font-style="normal" fill="#222" stroke="#222" stroke-width="0.08" >-1</text>
<line x1="227.70" y1="501.10" x2="232.80" y2="501.10" stroke="#7a7a7a" stroke-width="1.0"/>
<text x="225.60" y="503.60" font-size="6.8" text-anchor="end" font-weight="normal" font-style="normal" fill="#222" stroke="#222" stroke-width="0.08" >-0,5</text>
<line x1="227.70" y1="476.70" x2="232.80" y2="476.70" stroke="#7a7a7a" stroke-width="1.0"/>
<text x="225.60" y="479.20" font-size="6.8" text-anchor="end" font-weight="normal" font-style="normal" fill="#222" stroke="#222" stroke-width="0.08" >0</text>
<line x1="227.70" y1="452.30" x2="232.80" y2="452.30" stroke="#7a7a7a" stroke-width="1.0"/>
<text x="225.60" y="454.80" font-size="6.8" text-anchor="end" font-weight="normal" font-style="normal" fill="#222" stroke="#222" stroke-width="0.08" >0,5</text>
<line x1="227.70" y1="427.90" x2="232.80" y2="427.90" stroke="#7a7a7a" stroke-width="1.0"/>
<text x="225.60" y="430.40" font-size="6.8" text-anchor="end" font-weight="normal" font-style="normal" fill="#222" stroke="#222" stroke-width="0.08" >1</text>
<line x1="229.40" y1="513.30" x2="232.80" y2="513.30" stroke="#7a7a7a" stroke-width="1.0"/>
<line x1="229.40" y1="488.90" x2="232.80" y2="488.90" stroke="#7a7a7a" stroke-width="1.0"/>
<line x1="229.40" y1="464.50" x2="232.80" y2="464.50" stroke="#7a7a7a" stroke-width="1.0"/>
<line x1="229.40" y1="440.10" x2="232.80" y2="440.10" stroke="#7a7a7a" stroke-width="1.0"/>
<line x1="392.10" y1="525.50" x2="397.00" y2="525.50" stroke="#7a7a7a" stroke-width="1.0"/>
<line x1="392.10" y1="501.10" x2="397.00" y2="501.10" stroke="#7a7a7a" stroke-width="1.0"/>
<line x1="392.10" y1="476.70" x2="397.00" y2="476.70" stroke="#7a7a7a" stroke-width="1.0"/>
<line x1="392.10" y1="452.30" x2="397.00" y2="452.30" stroke="#7a7a7a" stroke-width="1.0"/>
<line x1="392.10" y1="427.90" x2="397.00" y2="427.90" stroke="#7a7a7a" stroke-width="1.0"/>
<line x1="392.10" y1="513.30" x2="395.40" y2="513.30" stroke="#7a7a7a" stroke-width="1.0"/>
<line x1="392.10" y1="488.90" x2="395.40" y2="488.90" stroke="#7a7a7a" stroke-width="1.0"/>
<line x1="392.10" y1="464.50" x2="395.40" y2="464.50" stroke="#7a7a7a" stroke-width="1.0"/>
<line x1="392.10" y1="440.10" x2="395.40" y2="440.10" stroke="#7a7a7a" stroke-width="1.0"/>
<line x1="257.95" y1="530.10" x2="257.95" y2="535.50" stroke="#7a7a7a" stroke-width="1.0"/>
<text x="257.95" y="544.30" font-size="6.8" text-anchor="middle" font-weight="normal" font-style="normal" fill="#222" stroke="#222" stroke-width="0.08" >4</text>
<line x1="291.49" y1="530.10" x2="291.49" y2="535.50" stroke="#7a7a7a" stroke-width="1.0"/>
<text x="291.49" y="544.30" font-size="6.8" text-anchor="middle" font-weight="normal" font-style="normal" fill="#222" stroke="#222" stroke-width="0.08" >6</text>
<line x1="325.03" y1="530.10" x2="325.03" y2="535.50" stroke="#7a7a7a" stroke-width="1.0"/>
<text x="325.03" y="544.30" font-size="6.8" text-anchor="middle" font-weight="normal" font-style="normal" fill="#222" stroke="#222" stroke-width="0.08" >8</text>
<line x1="358.56" y1="530.10" x2="358.56" y2="535.50" stroke="#7a7a7a" stroke-width="1.0"/>
<text x="358.56" y="544.30" font-size="6.8" text-anchor="middle" font-weight="normal" font-style="normal" fill="#222" stroke="#222" stroke-width="0.08" >10</text>
<line x1="392.10" y1="530.10" x2="392.10" y2="535.50" stroke="#7a7a7a" stroke-width="1.0"/>
<text x="392.10" y="544.30" font-size="6.8" text-anchor="middle" font-weight="normal" font-style="normal" fill="#222" stroke="#222" stroke-width="0.08" >12</text>
<line x1="241.18" y1="530.10" x2="241.18" y2="533.30" stroke="#7a7a7a" stroke-width="1.0"/>
<line x1="274.72" y1="530.10" x2="274.72" y2="533.30" stroke="#7a7a7a" stroke-width="1.0"/>
<line x1="308.26" y1="530.10" x2="308.26" y2="533.30" stroke="#7a7a7a" stroke-width="1.0"/>
<line x1="341.79" y1="530.10" x2="341.79" y2="533.30" stroke="#7a7a7a" stroke-width="1.0"/>
<line x1="375.33" y1="530.10" x2="375.33" y2="533.30" stroke="#7a7a7a" stroke-width="1.0"/>
<text transform="translate(210.50,479.70) rotate(-90)" font-size="7.3" font-weight="bold" text-anchor="middle" fill="#111">chi(k) k <tspan font-size="4.8" dy="-2.1">2</tspan></text>
<text x="312.95" y="551.90" font-size="7.5" font-weight="bold" text-anchor="middle" fill="#111"><tspan font-style="italic">k</tspan> (Å<tspan font-size="4.6" font-weight="normal" dy="-2.4">-1</tspan><tspan dy="2.4">)</tspan></text>
<line x1="230.80" y1="564.75" x2="230.80" y2="698.20" stroke="#7a7a7a" stroke-width="1.4"/>
<line x1="390.40" y1="564.75" x2="390.40" y2="698.20" stroke="#7a7a7a" stroke-width="1.4"/>
<line x1="230.20" y1="698.20" x2="391.00" y2="698.20" stroke="#7a7a7a" stroke-width="1.4"/>
<line x1="225.70" y1="698.20" x2="230.80" y2="698.20" stroke="#7a7a7a" stroke-width="1.0"/>
<text x="222.90" y="700.70" font-size="6.8" text-anchor="end" font-weight="normal" font-style="normal" fill="#222" stroke="#222" stroke-width="0.08" >0</text>
<line x1="225.70" y1="664.84" x2="230.80" y2="664.84" stroke="#7a7a7a" stroke-width="1.0"/>
<text x="222.90" y="667.34" font-size="6.8" text-anchor="end" font-weight="normal" font-style="normal" fill="#222" stroke="#222" stroke-width="0.08" >0,4</text>
<line x1="225.70" y1="631.48" x2="230.80" y2="631.48" stroke="#7a7a7a" stroke-width="1.0"/>
<text x="222.90" y="633.98" font-size="6.8" text-anchor="end" font-weight="normal" font-style="normal" fill="#222" stroke="#222" stroke-width="0.08" >0,8</text>
<line x1="225.70" y1="598.11" x2="230.80" y2="598.11" stroke="#7a7a7a" stroke-width="1.0"/>
<text x="222.90" y="600.61" font-size="6.8" text-anchor="end" font-weight="normal" font-style="normal" fill="#222" stroke="#222" stroke-width="0.08" >1,2</text>
<line x1="225.70" y1="564.75" x2="230.80" y2="564.75" stroke="#7a7a7a" stroke-width="1.0"/>
<text x="222.90" y="567.25" font-size="6.8" text-anchor="end" font-weight="normal" font-style="normal" fill="#222" stroke="#222" stroke-width="0.08" >1,6</text>
<line x1="227.40" y1="681.52" x2="230.80" y2="681.52" stroke="#7a7a7a" stroke-width="1.0"/>
<line x1="227.40" y1="648.16" x2="230.80" y2="648.16" stroke="#7a7a7a" stroke-width="1.0"/>
<line x1="227.40" y1="614.79" x2="230.80" y2="614.79" stroke="#7a7a7a" stroke-width="1.0"/>
<line x1="227.40" y1="581.43" x2="230.80" y2="581.43" stroke="#7a7a7a" stroke-width="1.0"/>
<line x1="390.40" y1="698.20" x2="395.30" y2="698.20" stroke="#7a7a7a" stroke-width="1.0"/>
<line x1="390.40" y1="664.84" x2="395.30" y2="664.84" stroke="#7a7a7a" stroke-width="1.0"/>
<line x1="390.40" y1="631.48" x2="395.30" y2="631.48" stroke="#7a7a7a" stroke-width="1.0"/>
<line x1="390.40" y1="598.11" x2="395.30" y2="598.11" stroke="#7a7a7a" stroke-width="1.0"/>
<line x1="390.40" y1="564.75" x2="395.30" y2="564.75" stroke="#7a7a7a" stroke-width="1.0"/>
<line x1="390.40" y1="681.52" x2="393.70" y2="681.52" stroke="#7a7a7a" stroke-width="1.0"/>
<line x1="390.40" y1="648.16" x2="393.70" y2="648.16" stroke="#7a7a7a" stroke-width="1.0"/>
<line x1="390.40" y1="614.79" x2="393.70" y2="614.79" stroke="#7a7a7a" stroke-width="1.0"/>
<line x1="390.40" y1="581.43" x2="393.70" y2="581.43" stroke="#7a7a7a" stroke-width="1.0"/>
<line x1="230.80" y1="698.20" x2="230.80" y2="703.60" stroke="#7a7a7a" stroke-width="1.0"/>
<text x="230.80" y="712.40" font-size="6.8" text-anchor="middle" font-weight="normal" font-style="normal" fill="#222" stroke="#222" stroke-width="0.08" >0</text>
<line x1="276.40" y1="698.20" x2="276.40" y2="703.60" stroke="#7a7a7a" stroke-width="1.0"/>
<text x="276.40" y="712.40" font-size="6.8" text-anchor="middle" font-weight="normal" font-style="normal" fill="#222" stroke="#222" stroke-width="0.08" >2</text>
<line x1="322.00" y1="698.20" x2="322.00" y2="703.60" stroke="#7a7a7a" stroke-width="1.0"/>
<text x="322.00" y="712.40" font-size="6.8" text-anchor="middle" font-weight="normal" font-style="normal" fill="#222" stroke="#222" stroke-width="0.08" >4</text>
<line x1="367.60" y1="698.20" x2="367.60" y2="703.60" stroke="#7a7a7a" stroke-width="1.0"/>
<text x="367.60" y="712.40" font-size="6.8" text-anchor="middle" font-weight="normal" font-style="normal" fill="#222" stroke="#222" stroke-width="0.08" >6</text>
<line x1="253.60" y1="698.20" x2="253.60" y2="701.40" stroke="#7a7a7a" stroke-width="1.0"/>
<line x1="299.20" y1="698.20" x2="299.20" y2="701.40" stroke="#7a7a7a" stroke-width="1.0"/>
<line x1="344.80" y1="698.20" x2="344.80" y2="701.40" stroke="#7a7a7a" stroke-width="1.0"/>
<line x1="390.40" y1="698.20" x2="390.40" y2="701.40" stroke="#7a7a7a" stroke-width="1.0"/>
<text transform="translate(211.60,632.48) rotate(-90)" font-size="7.5" font-weight="bold" font-style="italic" text-anchor="middle" fill="#111">FT</text>
<text x="311.10" y="720.40" font-size="7.5" font-weight="bold" text-anchor="middle" fill="#111"><tspan font-style="italic">R</tspan> (Å)</text>
<text x="290.00" y="16.30" font-size="13.3" text-anchor="middle" font-weight="bold" font-style="normal" fill="#111" stroke="#111" stroke-width="0.3" >Synthetic Au-In sphalerites, In <tspan font-style="italic">K</tspan>-edge</text>
<text x="5.90" y="391.50" font-size="13.3" text-anchor="start" font-weight="bold" font-style="normal" fill="#111" stroke="#111" stroke-width="0.3" >Standard</text>
<text x="69.60" y="391.50" font-size="13.3" text-anchor="start" font-weight="bold" font-style="normal" fill="#111" stroke="#111" stroke-width="0.3" >CuInS</text>
<text x="107.90" y="396.40" font-size="6.8" text-anchor="start" font-weight="bold" font-style="normal" fill="#111" stroke="#111" stroke-width="0.3" letter-spacing="0.45">2(cr)</text>
<text x="126.60" y="391.50" font-size="13.3" text-anchor="start" font-weight="bold" font-style="normal" fill="#111" stroke="#111" stroke-width="0.3" >, In <tspan font-style="italic">K</tspan>-edge</text>
<text x="215.00" y="391.50" font-size="13.3" text-anchor="start" font-weight="bold" font-style="normal" fill="#111" stroke="#111" stroke-width="0.3" >Natural Cu-In sphalerite<tspan dx="1.8">,</tspan><tspan dx="0.6"> In </tspan><tspan font-style="italic">K</tspan>-edge</text>
<text x="2.80" y="52.80" font-size="10.0" text-anchor="start" font-weight="bold" font-style="normal" fill="#111" stroke="#111" stroke-width="0.3" >(a)</text>
<text x="206.00" y="52.60" font-size="10.0" text-anchor="start" font-weight="bold" font-style="normal" fill="#111" stroke="#111" stroke-width="0.3" >(b)</text>
<text x="404.60" y="52.60" font-size="10.0" text-anchor="start" font-weight="bold" font-style="normal" fill="#111" stroke="#111" stroke-width="0.3" >(c)</text>
<text x="3.00" y="420.00" font-size="10.0" text-anchor="start" font-weight="bold" font-style="normal" fill="#111" stroke="#111" stroke-width="0.3" >(d)</text>
<text x="205.90" y="420.20" font-size="10.0" text-anchor="start" font-weight="bold" font-style="normal" fill="#111" stroke="#111" stroke-width="0.3" >(e)</text>
<text x="114.00" y="67.30" font-size="9.8" text-anchor="middle" font-weight="bold" font-style="normal" fill="#111" stroke="#111" stroke-width="0.3" >Samp. 2070, In 0.55 wt.%</text>
<text x="311.30" y="67.30" font-size="9.8" text-anchor="middle" font-weight="bold" font-style="normal" fill="#111" stroke="#111" stroke-width="0.3" >Samp. 2063, In 0.34 wt.%</text>
<text x="510.50" y="67.30" font-size="9.8" text-anchor="middle" font-weight="bold" font-style="normal" fill="#111" stroke="#111" stroke-width="0.3" >Samp. 5477, In 0.09 wt.%</text>
<text x="324.30" y="421.80" font-size="9.8" text-anchor="middle" font-weight="bold" font-style="normal" fill="#111" stroke="#111" stroke-width="0.3" >Samp. 501, In 0.20 wt.%</text>
<text x="94.90" y="421.30" font-size="9.4" text-anchor="start" font-weight="bold" font-style="normal" fill="#111" stroke="#111" stroke-width="0.3" >CuInS</text>
<text x="122.60" y="424.00" font-size="5.0" text-anchor="start" font-weight="bold" font-style="normal" fill="#111" stroke="#111" stroke-width="0.3" letter-spacing="0.5">2(cr)</text>
<path d="M28.60,115.10 L29.00,116.36 L29.40,117.68 L29.80,119.05 L30.20,120.47 L30.60,121.94 L31.00,123.45 L31.40,125.01 L31.80,126.60 L32.20,128.25 L32.60,129.95 L33.00,131.71 L33.40,133.53 L33.80,135.41 L34.20,137.37 L34.60,139.40 L35.00,141.71 L35.40,144.35 L35.80,147.08 L36.20,149.66 L36.60,151.85 L37.00,153.45 L37.40,154.85 L37.80,156.06 L38.20,156.80 L38.60,156.86 L39.00,156.57 L39.40,156.03 L39.80,155.29 L40.20,154.39 L40.60,153.37 L41.00,151.96 L41.40,149.58 L41.80,146.51 L42.20,143.07 L42.60,139.59 L43.00,136.40 L43.40,133.38 L43.80,130.25 L44.20,127.04 L44.60,123.82 L45.00,120.63 L45.40,117.52 L45.80,114.54 L46.20,111.74 L46.60,109.18 L47.00,106.89 L47.40,104.81 L47.80,102.89 L48.20,101.07 L48.60,99.29 L49.00,97.50 L49.40,95.66 L49.80,93.81 L50.20,91.99 L50.60,90.25 L51.00,88.62 L51.40,87.13 L51.80,85.53 L52.20,83.95 L52.60,82.68 L53.00,82.03 L53.40,82.13 L53.80,82.67 L54.20,83.54 L54.60,84.64 L55.00,85.88 L55.40,87.41 L55.80,89.70 L56.20,92.59 L56.60,95.89 L57.00,99.42 L57.40,103.00 L57.80,106.87 L58.20,111.28 L58.60,115.99 L59.00,120.80 L59.40,125.49 L59.80,129.86 L60.20,134.13 L60.60,138.36 L61.00,142.50 L61.40,146.48 L61.80,150.23 L62.20,153.83 L62.60,157.85 L63.00,161.76 L63.40,164.85 L63.80,166.43 L64.20,166.42 L64.60,166.10 L65.00,165.57 L65.40,164.85 L65.80,163.98 L66.20,163.00 L66.60,161.32 L67.00,158.51 L67.40,154.89 L67.80,150.74 L68.20,146.35 L68.60,142.04 L69.00,137.95 L69.40,133.52 L69.80,128.77 L70.20,123.86 L70.60,118.97 L71.00,114.26 L71.40,109.88 L71.80,106.00 L72.20,102.48 L72.60,99.06 L73.00,95.80 L73.40,92.71 L73.80,89.83 L74.20,87.18 L74.60,84.79 L75.00,82.70 L75.40,80.86 L75.80,79.23 L76.20,77.78 L76.60,76.48 L77.00,75.12 L77.40,73.80 L77.80,72.75 L78.20,72.22 L78.60,72.39 L79.00,73.16 L79.40,74.43 L79.80,76.11 L80.20,78.07 L80.60,80.96 L81.00,85.97 L81.40,92.14 L81.80,98.40 L82.20,104.93 L82.60,112.15 L83.00,119.34 L83.40,125.80 L83.80,131.54 L84.20,136.95 L84.60,141.81 L85.00,145.98 L85.40,149.74 L85.80,153.11 L86.20,155.89 L86.60,158.03 L87.00,160.01 L87.40,161.31 L87.80,161.39 L88.20,160.64 L88.60,159.41 L89.00,158.00 L89.40,156.10 L89.80,153.46 L90.20,150.48 L90.60,147.53 L91.00,145.00 L91.40,142.74 L91.80,140.49 L92.20,138.45 L92.60,136.82 L93.00,135.80 L93.40,135.16 L93.80,134.67 L94.20,134.24 L94.60,133.78 L95.00,133.22 L95.40,132.67 L95.80,132.05 L96.20,131.24 L96.60,129.98 L97.00,127.99 L97.40,125.56 L97.80,123.00 L98.20,120.28 L98.60,117.23 L99.00,113.98 L99.40,110.65 L99.80,106.98 L100.20,103.16 L100.60,99.57 L101.00,96.53 L101.40,93.71 L101.80,91.13 L102.20,88.92 L102.60,87.11 L103.00,85.36 L103.40,84.18 L103.80,84.14 L104.20,85.17 L104.60,86.97 L105.00,89.27 L105.40,91.80 L105.80,95.23 L106.20,99.92 L106.60,105.16 L107.00,110.25 L107.40,115.59 L107.80,121.19 L108.20,126.72 L108.60,131.83 L109.00,136.47 L109.40,141.08 L109.80,145.43 L110.20,149.28 L110.60,152.37 L111.00,154.82 L111.40,157.11 L111.80,158.82 L112.20,159.50 L112.60,159.06 L113.00,157.92 L113.40,156.35 L113.80,154.60 L114.20,152.26 L114.60,149.00 L115.00,145.24 L115.40,141.40 L115.80,137.90 L116.20,135.02 L116.60,132.31 L117.00,129.71 L117.40,127.28 L117.80,125.07 L118.20,123.14 L118.60,121.47 L119.00,119.95 L119.40,118.56 L119.80,117.30 L120.20,116.15 L120.60,115.10 L121.00,114.16 L121.40,113.33 L121.80,112.56 L122.20,111.82 L122.60,111.08 L123.00,110.30 L123.40,109.41 L123.80,108.42 L124.20,107.39 L124.60,106.36 L125.00,105.37 L125.40,104.47 L125.80,103.71 L126.20,103.13 L126.60,102.78 L127.00,102.72 L127.40,103.10 L127.80,103.90 L128.20,104.97 L128.60,106.18 L129.00,107.50 L129.40,109.35 L129.80,111.63 L130.20,114.15 L130.60,116.72 L131.00,119.14 L131.40,121.37 L131.80,123.63 L132.20,125.89 L132.60,128.08 L133.00,130.13 L133.40,132.00 L133.80,133.71 L134.20,135.35 L134.60,136.88 L135.00,138.31 L135.40,139.61 L135.80,140.79 L136.20,142.03 L136.60,143.17 L137.00,143.90 L137.40,143.95 L137.80,143.58 L138.20,142.91 L138.60,142.01 L139.00,140.95 L139.40,139.79 L139.80,138.39 L140.20,136.30 L140.60,133.76 L141.00,131.00 L141.40,128.27 L141.80,125.80 L142.20,123.43 L142.60,120.96 L143.00,118.55 L143.40,116.40 L143.80,114.66 L144.20,113.44 L144.60,112.38 L145.00,111.45 L145.40,110.66 L145.80,110.03 L146.20,109.58 L146.60,109.28 L147.00,109.03 L147.40,108.83 L147.80,108.72 L148.20,108.71 L148.60,108.82 L149.00,109.02 L149.40,109.30 L149.80,109.65 L150.20,110.06 L150.60,110.52 L151.00,111.00 L151.40,111.70 L151.80,112.75 L152.20,114.06 L152.60,115.55 L153.00,117.13 L153.40,118.70 L153.80,120.19 L154.20,121.52 L154.60,122.82 L155.00,124.15 L155.40,125.47 L155.80,126.75 L156.20,127.95 L156.60,129.05 L157.00,130.00 L157.40,130.90 L157.80,131.82 L158.20,132.72 L158.60,133.53 L159.00,134.20 L159.40,134.67 L159.80,134.89 L160.20,134.84 L160.60,134.60 L161.00,134.20 L161.40,133.67 L161.80,133.05 L162.20,132.38 L162.60,131.69 L163.00,131.00 L163.40,130.26 L163.80,129.39 L164.20,128.41 L164.60,127.36 L165.00,126.27 L165.40,125.15 L165.80,124.04 L166.20,122.96 L166.60,121.88 L167.00,120.70 L167.40,119.48 L167.80,118.29 L168.20,117.18 L168.60,116.23 L169.00,115.50 L169.40,114.90 L169.80,114.32 L170.20,113.79 L170.60,113.34 L171.00,113.01 L171.40,112.82 L171.80,112.84 L172.20,113.16 L172.60,113.72 L173.00,114.45 L173.40,115.27 L173.80,116.10 L174.20,116.91 L174.60,117.87 L175.00,118.96 L175.40,120.12 L175.80,121.30 L176.20,122.44 L176.60,123.50 L177.00,124.42 L177.40,125.29 L177.80,126.14 L178.20,126.95 L178.60,127.69 L179.00,128.35 L179.40,128.89 L179.80,129.33 L180.20,129.77 L180.60,130.19 L181.00,130.55 L181.40,130.84 L181.80,131.03 L182.20,131.10 L182.60,131.01 L183.00,130.77 L183.40,130.41 L183.80,129.97 L184.20,129.48 L184.60,128.98 L185.00,128.50 L185.40,128.02 L185.80,127.50 L186.20,126.95 L186.60,126.36 L187.00,125.74 L187.40,125.08 L187.80,124.40 L188.20,123.68" fill="none" stroke="#f08670" stroke-width="1.0" stroke-linejoin="round" stroke-opacity="1"/>
<path d="M28.60,122.00 L29.00,122.50 L29.40,123.12 L29.80,123.83 L30.20,124.64 L30.60,125.52 L31.00,126.48 L31.40,127.48 L31.80,128.56 L32.20,129.84 L32.60,131.30 L33.00,132.89 L33.40,134.55 L33.80,136.23 L34.20,137.86 L34.60,139.40 L35.00,140.96 L35.40,142.64 L35.80,144.35 L36.20,146.01 L36.60,147.52 L37.00,148.80 L37.40,149.77 L37.80,150.38 L38.20,150.90 L38.60,151.32 L39.00,151.57 L39.40,151.59 L39.80,151.54 L40.20,151.44 L40.60,151.30 L41.00,150.50 L41.40,148.71 L41.80,146.39 L42.20,144.00 L42.60,141.42 L43.00,138.37 L43.40,135.02 L43.80,131.56 L44.20,128.18 L44.60,125.04 L45.00,121.93 L45.40,118.81 L45.80,115.75 L46.20,112.85 L46.60,110.20 L47.00,107.87 L47.40,105.79 L47.80,103.86 L48.20,102.04 L48.60,100.24 L49.00,98.40 L49.40,96.47 L49.80,94.50 L50.20,92.54 L50.60,90.67 L51.00,88.95 L51.40,87.43 L51.80,85.84 L52.20,84.29 L52.60,83.06 L53.00,82.43 L53.40,82.52 L53.80,83.00 L54.20,83.77 L54.60,84.77 L55.00,85.90 L55.40,87.36 L55.80,89.62 L56.20,92.51 L56.60,95.85 L57.00,99.41 L57.40,103.00 L57.80,106.86 L58.20,111.23 L58.60,115.91 L59.00,120.71 L59.40,125.43 L59.80,129.89 L60.20,134.29 L60.60,138.69 L61.00,143.03 L61.40,147.22 L61.80,151.21 L62.20,155.06 L62.60,159.37 L63.00,163.72 L63.40,167.55 L63.80,170.27 L64.20,171.30 L64.60,171.06 L65.00,170.40 L65.40,169.41 L65.80,168.18 L66.20,166.80 L66.60,164.69 L67.00,161.43 L67.40,157.34 L67.80,152.72 L68.20,147.91 L68.60,143.21 L69.00,138.80 L69.40,134.12 L69.80,129.18 L70.20,124.13 L70.60,119.14 L71.00,114.35 L71.40,109.92 L71.80,106.00 L72.20,102.44 L72.60,98.99 L73.00,95.71 L73.40,92.61 L73.80,89.72 L74.20,87.10 L74.60,84.75 L75.00,82.72 L75.40,80.96 L75.80,79.42 L76.20,78.04 L76.60,76.79 L77.00,75.46 L77.40,74.17 L77.80,73.14 L78.20,72.62 L78.60,72.77 L79.00,73.49 L79.40,74.68 L79.80,76.24 L80.20,78.10 L80.60,80.91 L81.00,85.92 L81.40,92.12 L81.80,98.40 L82.20,104.87 L82.60,111.98 L83.00,119.15 L83.40,125.80 L83.80,131.98 L84.20,137.94 L84.60,143.41 L85.00,148.10 L85.40,152.32 L85.80,156.13 L86.20,159.35 L86.60,162.00 L87.00,164.54 L87.40,166.24 L87.80,166.31 L88.20,165.02 L88.60,162.96 L89.00,160.70 L89.40,157.94 L89.80,154.36 L90.20,150.50 L90.60,146.87 L91.00,144.00 L91.40,141.69 L91.80,139.50 L92.20,137.62 L92.60,136.22 L93.00,135.47 L93.40,135.07 L93.80,134.77 L94.20,134.53 L94.60,134.26 L95.00,133.93 L95.40,133.62 L95.80,133.27 L96.20,132.76 L96.60,131.72 L97.00,129.63 L97.40,126.96 L97.80,124.20 L98.20,121.33 L98.60,118.10 L99.00,114.69 L99.40,111.23 L99.80,107.47 L100.20,103.59 L100.60,99.98 L101.00,96.88 L101.40,93.78 L101.80,90.99 L102.20,89.03 L102.60,88.17 L103.00,87.60 L103.40,87.20 L103.80,87.01 L104.20,87.40 L104.60,88.94 L105.00,91.22 L105.40,93.80 L105.80,97.21 L106.20,101.81 L106.60,106.89 L107.00,111.80 L107.40,116.86 L107.80,122.11 L108.20,127.31 L108.60,132.17 L109.00,136.68 L109.40,141.18 L109.80,145.48 L110.20,149.31 L110.60,152.45 L111.00,155.00 L111.40,157.43 L111.80,159.27 L112.20,160.00 L112.60,159.51 L113.00,158.24 L113.40,156.50 L113.80,154.60 L114.20,152.17 L114.60,148.89 L115.00,145.16 L115.40,141.37 L115.80,137.89 L116.20,135.02 L116.60,132.31 L117.00,129.71 L117.40,127.28 L117.80,125.07 L118.20,123.14 L118.60,121.46 L119.00,119.90 L119.40,118.48 L119.80,117.20 L120.20,116.07 L120.60,115.10 L121.00,114.31 L121.40,113.67 L121.80,113.10 L122.20,112.53 L122.60,111.88 L123.00,111.08 L123.40,110.02 L123.80,108.83 L124.20,107.73 L124.60,106.80 L125.00,105.81 L125.40,104.83 L125.80,103.95 L126.20,103.25 L126.60,102.81 L127.00,102.72 L127.40,103.10 L127.80,103.90 L128.20,104.97 L128.60,106.18 L129.00,107.50 L129.40,109.32 L129.80,111.56 L130.20,114.06 L130.60,116.63 L131.00,119.12 L131.40,121.48 L131.80,123.96 L132.20,126.47 L132.60,128.93 L133.00,131.24 L133.40,133.30 L133.80,135.18 L134.20,136.97 L134.60,138.65 L135.00,140.20 L135.40,141.58 L135.80,142.79 L136.20,144.01 L136.60,145.19 L137.00,146.19 L137.40,146.84 L137.80,146.97 L138.20,146.31 L138.60,144.98 L139.00,143.27 L139.40,141.44 L139.80,139.50 L140.20,137.01 L141.10,130.66 L142.00,124.74 L142.90,118.90 L143.80,113.88 L144.70,111.97 L145.60,109.49 L146.50,108.89 L147.40,108.39 L148.30,109.37 L149.20,109.26 L150.10,105.07 L151.00,105.24 L151.90,111.93 L152.80,117.25 L153.70,119.32 L154.60,123.04 L155.50,125.68 L156.40,126.54 L157.30,129.40 L158.20,128.06 L159.10,134.88 L160.00,136.61 L160.90,139.33 L161.80,135.63 L162.70,134.22 L163.60,130.29 L164.50,123.40 L165.40,127.94 L166.30,125.24 L167.20,118.81 L168.10,116.30 L169.00,112.97 L169.90,110.12 L170.80,110.44 L171.70,112.25 L172.60,116.88 L173.50,117.40 L174.40,122.31 L175.30,123.95 L176.20,125.69 L177.10,127.76 L178.00,128.99 L178.90,126.88 L179.80,131.34 L180.70,121.53 L181.60,124.39 L182.50,129.16 L183.40,135.77 L184.30,126.36 L185.20,121.09 L186.10,117.16 L187.00,114.52 L187.90,115.16" fill="none" stroke="#333333" stroke-width="0.9" stroke-linejoin="round" stroke-opacity="0.8"/>
<path d="M231.30,115.10 L231.70,116.16 L232.10,117.33 L232.50,118.60 L232.90,119.97 L233.30,121.42 L233.70,122.94 L234.10,124.54 L234.50,126.21 L234.90,127.92 L235.30,129.73 L235.70,131.82 L236.10,134.15 L236.50,136.60 L236.90,139.06 L237.30,141.44 L237.70,143.62 L238.10,145.50 L238.50,147.27 L238.90,149.12 L239.30,150.95 L239.70,152.65 L240.10,154.11 L240.50,155.24 L240.90,155.93 L241.30,156.09 L241.70,155.88 L242.10,155.42 L242.50,154.74 L242.90,153.86 L243.30,152.81 L243.70,151.63 L244.10,150.34 L244.50,148.59 L244.90,145.68 L245.30,141.96 L245.70,137.84 L246.10,133.72 L246.50,130.00 L246.90,126.50 L247.30,122.88 L247.70,119.31 L248.10,115.94 L248.50,112.92 L248.90,110.43 L249.30,108.36 L249.70,106.57 L250.10,104.90 L250.50,103.25 L250.90,101.48 L251.30,99.47 L251.70,97.25 L252.10,94.95 L252.50,92.72 L252.90,90.69 L253.30,89.00 L253.70,87.46 L254.10,85.90 L254.50,84.47 L254.90,83.31 L255.30,82.58 L255.70,82.41 L256.10,82.53 L256.50,82.83 L256.90,83.27 L257.30,83.87 L257.70,84.59 L258.10,85.74 L258.50,88.72 L258.90,92.92 L259.30,97.36 L259.70,101.57 L260.10,106.17 L260.50,111.04 L260.90,116.03 L261.30,121.00 L261.70,125.80 L262.10,130.68 L262.50,135.80 L262.90,140.85 L263.30,145.55 L263.70,149.59 L264.10,152.70 L264.50,155.53 L264.90,158.29 L265.30,160.85 L265.70,163.11 L266.10,164.93 L266.50,166.19 L266.90,166.77 L267.30,166.72 L267.70,166.38 L268.10,165.80 L268.50,165.02 L268.90,164.07 L269.30,163.00 L269.70,161.07 L270.10,157.81 L270.50,153.64 L270.90,149.00 L271.30,144.30 L271.70,139.94 L272.10,135.41 L272.50,130.56 L272.90,125.55 L273.30,120.52 L273.70,115.64 L274.10,111.06 L274.50,106.94 L274.90,103.23 L275.30,99.57 L275.70,96.02 L276.10,92.66 L276.50,89.57 L276.90,86.85 L277.30,84.57 L277.70,82.80 L278.10,81.20 L278.50,79.65 L278.90,78.21 L279.30,76.94 L279.70,75.88 L280.10,75.09 L280.50,74.61 L280.90,74.51 L281.30,74.82 L281.70,75.51 L282.10,76.53 L282.50,77.82 L282.90,79.36 L283.30,81.42 L283.70,85.60 L284.10,91.17 L284.50,97.02 L284.90,102.63 L285.30,108.73 L285.70,115.06 L286.10,121.33 L286.50,127.26 L286.90,133.36 L287.30,139.54 L287.70,145.32 L288.10,150.25 L288.50,153.91 L288.90,157.14 L289.30,160.14 L289.70,162.57 L290.10,164.12 L290.50,164.45 L290.90,163.47 L291.30,161.54 L291.70,159.12 L292.10,156.67 L292.50,154.30 L292.90,151.58 L293.30,148.70 L293.70,145.90 L294.10,143.39 L294.50,140.84 L294.90,138.40 L295.30,136.56 L295.70,135.64 L296.10,135.11 L296.50,134.71 L296.90,134.28 L297.30,133.68 L297.70,133.00 L298.10,132.22 L298.50,131.32 L298.90,130.29 L299.30,129.04 L299.70,127.47 L300.10,125.57 L300.50,123.32 L300.90,120.33 L301.30,116.12 L301.70,111.55 L302.10,107.50 L302.50,104.07 L302.90,100.79 L303.30,97.71 L303.70,94.87 L304.10,92.30 L304.50,89.69 L304.90,87.01 L305.30,84.75 L305.70,83.39 L306.10,83.31 L306.50,84.08 L306.90,85.41 L307.30,87.06 L307.70,89.29 L308.10,92.83 L308.50,97.08 L308.90,101.40 L309.30,105.78 L309.70,110.52 L310.10,115.48 L310.50,120.47 L310.90,125.33 L311.30,129.94 L311.70,134.73 L312.10,139.67 L312.50,144.41 L312.90,148.60 L313.30,151.89 L313.70,154.14 L314.10,156.12 L314.50,157.68 L314.90,158.46 L315.30,158.28 L315.70,157.40 L316.10,156.03 L316.50,154.39 L316.90,152.64 L317.30,150.15 L317.70,146.97 L318.10,143.48 L318.50,140.11 L318.90,137.23 L319.30,134.61 L319.70,132.08 L320.10,129.66 L320.50,127.37 L320.90,125.22 L321.30,123.23 L321.70,121.42 L322.10,119.73 L322.50,118.08 L322.90,116.43 L323.30,114.65 L323.70,112.71 L324.10,110.80 L324.50,109.09 L324.90,107.75 L325.30,106.80 L325.70,105.88 L326.10,105.01 L326.50,104.20 L326.90,103.48 L327.30,102.85 L327.70,102.34 L328.10,101.97 L328.50,101.75 L328.90,101.71 L329.30,101.93 L329.70,102.42 L330.10,103.15 L330.50,104.06 L330.90,105.14 L331.30,106.33 L331.70,107.61 L332.10,108.93 L332.50,110.27 L332.90,111.71 L333.30,113.52 L333.70,115.63 L334.10,117.97 L334.50,120.45 L334.90,123.00 L335.30,125.54 L335.70,127.98 L336.10,130.26 L336.50,132.30 L336.90,134.43 L337.30,136.72 L337.70,139.04 L338.10,141.27 L338.50,143.29 L338.90,144.98 L339.30,146.23 L339.70,146.91 L340.10,146.93 L340.50,146.38 L340.90,145.38 L341.30,144.01 L341.70,142.36 L342.10,140.54 L342.50,138.62 L342.90,136.71 L343.30,134.90 L343.70,132.95 L344.10,130.63 L344.50,128.07 L344.90,125.38 L345.30,122.68 L345.70,120.09 L346.10,117.73 L346.50,115.72 L346.90,114.17 L347.30,113.12 L347.70,112.17 L348.10,111.26 L348.50,110.40 L348.90,109.62 L349.30,108.91 L349.70,108.29 L350.10,107.78 L350.50,107.38 L350.90,107.12 L351.30,107.01 L351.70,107.08 L352.10,107.43 L352.50,108.01 L352.90,108.79 L353.30,109.74 L353.70,110.82 L354.10,111.99 L354.50,113.22 L354.90,114.47 L355.30,115.70 L355.70,116.90 L356.10,118.28 L356.50,119.88 L356.90,121.63 L357.30,123.47 L357.70,125.33 L358.10,127.13 L358.50,128.81 L358.90,130.31 L359.30,131.54 L359.70,132.56 L360.10,133.58 L360.50,134.59 L360.90,135.54 L361.30,136.40 L361.70,137.13 L362.10,137.70 L362.50,138.07 L362.90,138.20 L363.30,138.00 L363.70,137.42 L364.10,136.52 L364.50,135.35 L364.90,133.98 L365.30,132.45 L365.70,130.81 L366.10,129.13 L366.50,127.45 L366.90,125.84 L367.30,124.33 L367.70,123.00 L368.10,121.78 L368.50,120.47 L368.90,119.14 L369.30,117.83 L369.70,116.63 L370.10,115.60 L370.50,114.80 L370.90,114.30 L371.30,113.91 L371.70,113.54 L372.10,113.20 L372.50,112.90 L372.90,112.64 L373.30,112.43 L373.70,112.26 L374.10,112.15 L374.50,112.10 L374.90,112.21 L375.30,112.66 L375.70,113.40 L376.10,114.39 L376.50,115.57 L376.90,116.88 L377.30,118.26 L377.70,119.67 L378.10,121.05 L378.50,122.33 L378.90,123.47 L379.30,124.42 L379.70,125.36 L380.10,126.35 L380.50,127.37 L380.90,128.39 L381.30,129.38 L381.70,130.33 L382.10,131.21 L382.50,132.00 L382.90,132.66 L383.30,133.18 L383.70,133.53 L384.10,133.69 L384.50,133.68 L384.90,133.60 L385.30,133.45 L385.70,133.22 L386.10,132.92 L386.50,132.53 L386.90,132.07 L387.30,131.51 L387.70,130.87 L388.10,130.12 L388.50,129.29 L388.90,128.35 L389.30,127.30 L389.70,126.14 L390.10,124.88" fill="none" stroke="#f08670" stroke-width="1.0" stroke-linejoin="round" stroke-opacity="1"/>
<path d="M231.30,121.20 L231.70,121.52 L232.10,122.00 L232.50,122.61 L232.90,123.33 L233.30,124.16 L233.70,125.05 L234.10,126.01 L234.50,127.04 L234.90,128.37 L235.30,129.96 L235.70,131.73 L236.10,133.60 L236.50,135.49 L236.90,137.32 L237.30,139.01 L237.70,140.58 L238.10,142.22 L238.50,143.87 L238.90,145.48 L239.30,146.98 L239.70,148.32 L240.10,149.44 L240.50,150.29 L240.90,151.06 L241.30,151.77 L241.70,152.34 L242.10,152.71 L242.50,152.78 L242.90,152.36 L243.30,151.47 L243.70,150.26 L244.10,148.86 L244.50,147.03 L244.90,144.12 L245.30,140.46 L245.70,136.43 L246.10,132.42 L246.50,128.80 L246.90,125.41 L247.30,121.92 L247.70,118.48 L248.10,115.26 L248.50,112.41 L248.90,110.07 L249.30,108.17 L249.70,106.54 L250.10,105.03 L250.50,103.52 L250.90,101.86 L251.30,99.90 L251.70,97.68 L252.10,95.34 L252.50,93.06 L252.90,90.99 L253.30,89.30 L253.70,87.82 L254.10,86.32 L254.50,84.89 L254.90,83.63 L255.30,82.62 L255.70,81.94 L256.10,81.70 L256.50,81.88 L256.90,82.38 L257.30,83.15 L257.70,84.14 L258.10,85.56 L258.50,88.67 L258.90,92.89 L259.30,97.35 L259.70,101.60 L260.10,106.18 L260.50,111.01 L260.90,115.97 L261.30,120.94 L261.70,125.80 L262.10,130.70 L262.50,135.78 L262.90,140.84 L263.30,145.68 L263.70,150.14 L264.10,154.03 L264.50,157.83 L264.90,161.54 L265.30,164.91 L265.70,167.65 L266.10,169.51 L266.50,170.55 L266.90,171.36 L267.30,171.78 L267.70,171.57 L268.10,170.63 L268.50,169.15 L268.90,167.31 L269.30,165.30 L269.70,162.60 L270.10,158.80 L270.50,154.28 L270.90,149.38 L271.30,144.47 L271.70,139.88 L272.10,135.20 L272.50,130.30 L272.90,125.30 L273.30,120.33 L273.70,115.53 L274.10,111.02 L274.50,106.94 L274.90,103.24 L275.30,99.61 L275.70,96.10 L276.10,92.77 L276.50,89.71 L276.90,86.97 L277.30,84.64 L277.70,82.78 L278.10,81.37 L278.50,80.20 L278.90,79.00 L279.30,77.73 L279.70,76.55 L280.10,75.58 L280.50,74.96 L280.90,74.81 L281.30,75.10 L281.70,75.75 L282.10,76.71 L282.50,77.94 L282.90,79.40 L283.30,81.39 L283.70,85.56 L284.10,91.15 L284.50,97.02 L284.90,102.63 L285.30,108.73 L285.70,115.06 L286.10,121.33 L286.50,127.26 L286.90,133.33 L287.30,139.45 L287.70,145.21 L288.10,150.16 L288.50,153.95 L288.90,157.38 L289.30,160.58 L289.70,163.21 L290.10,164.88 L290.50,165.25 L290.90,164.15 L291.30,162.01 L291.70,159.35 L292.10,156.70 L292.50,154.25 L292.90,151.53 L293.30,148.69 L293.70,145.92 L294.10,143.37 L294.50,140.56 L294.90,137.86 L295.30,135.99 L295.70,135.46 L296.10,135.29 L296.50,135.18 L296.90,135.02 L297.30,134.70 L297.70,134.03 L298.10,133.06 L298.50,131.90 L298.90,130.62 L299.30,129.25 L299.70,127.61 L300.10,125.65 L300.50,123.34 L300.90,120.29 L301.30,116.09 L301.70,111.54 L302.10,107.50 L302.50,104.07 L302.90,100.81 L303.30,97.73 L303.70,94.89 L304.10,92.30 L304.50,89.62 L304.90,86.94 L305.30,85.02 L305.70,84.58 L306.10,86.08 L306.50,88.12 L306.90,89.34 L307.30,90.44 L307.70,92.24 L308.10,94.83 L308.50,97.97 L308.90,101.40 L309.30,105.33 L309.70,109.97 L310.10,115.03 L310.50,120.23 L310.90,125.28 L311.30,129.93 L311.70,134.69 L312.10,139.56 L312.50,144.25 L312.90,148.43 L313.30,151.81 L313.70,154.25 L314.10,156.48 L314.50,158.25 L314.90,159.16 L315.00,159.20 L315.90,157.05 L316.80,153.27 L317.70,146.89 L318.60,139.18 L319.50,133.15 L320.40,125.17 L321.30,125.11 L322.20,125.47 L323.10,116.54 L324.00,112.79 L324.90,107.91 L325.80,108.07 L326.70,104.94 L327.60,100.17 L328.50,102.98 L329.40,99.22 L330.30,104.68 L331.20,107.31 L332.10,108.98 L333.00,113.94 L333.90,119.61 L334.80,124.87 L335.70,129.35 L336.60,132.31 L337.50,144.01 L338.40,144.06 L339.30,148.50 L340.20,145.19 L341.10,148.80 L342.00,143.62 L342.90,148.16 L343.80,134.51 L344.70,127.71 L345.60,116.77 L346.50,117.59 L347.40,106.38 L348.30,104.88 L349.20,102.69 L350.10,106.40 L351.00,107.26 L351.90,98.69 L352.80,110.20 L353.70,103.07 L354.60,109.51 L355.50,112.60 L356.40,117.88 L357.30,117.34 L358.20,127.16 L359.10,120.55 L360.00,123.50 L360.90,141.26 L361.80,145.05 L362.70,144.39 L363.60,139.91 L364.50,143.41 L365.40,135.71 L366.30,143.05 L367.20,136.60 L368.10,121.95 L369.00,109.50 L369.90,119.09 L370.80,114.96 L371.70,113.97 L372.60,109.68 L373.50,115.35 L374.40,106.38 L375.30,109.12 L376.20,117.93 L377.10,119.88 L378.00,122.50 L378.90,125.84 L379.80,121.22 L380.70,123.71 L381.60,139.73 L382.50,139.57 L383.40,133.46 L384.30,137.41 L385.20,124.52 L386.10,128.19 L387.00,128.09 L387.90,113.16 L388.80,102.09 L389.70,113.99" fill="none" stroke="#333333" stroke-width="0.9" stroke-linejoin="round" stroke-opacity="0.8"/>
<path d="M433.70,111.30 L434.10,111.96 L434.50,112.80 L434.90,113.79 L435.30,114.92 L435.70,116.17 L436.10,117.50 L436.50,118.95 L436.90,120.67 L437.30,122.64 L437.70,124.82 L438.10,127.13 L438.50,129.53 L438.90,131.94 L439.30,134.32 L439.70,136.78 L440.10,139.61 L440.50,142.52 L440.90,145.22 L441.30,147.39 L441.70,148.78 L442.10,149.85 L442.50,150.85 L442.90,151.73 L443.30,152.46 L443.70,153.00 L444.10,153.32 L444.50,153.38 L444.90,152.99 L445.30,152.13 L445.70,150.91 L446.10,149.42 L446.50,147.73 L446.90,145.95 L447.30,143.85 L447.70,140.90 L448.10,137.38 L448.50,133.59 L448.90,129.87 L449.30,126.49 L449.70,123.16 L450.10,119.76 L450.50,116.35 L450.90,113.02 L451.30,109.84 L451.70,106.87 L452.10,104.20 L452.50,101.85 L452.90,99.61 L453.30,97.46 L453.70,95.44 L454.10,93.58 L454.50,91.92 L454.90,90.48 L455.30,89.30 L455.70,88.26 L456.10,87.23 L456.50,86.26 L456.90,85.39 L457.30,84.66 L457.70,84.11 L458.10,83.78 L458.50,83.71 L458.90,83.98 L459.30,84.54 L459.70,85.36 L460.10,86.36 L460.50,87.50 L460.90,89.01 L461.30,91.45 L461.70,94.61 L462.10,98.25 L462.50,102.13 L462.90,106.00 L463.30,110.16 L463.70,114.88 L464.10,119.90 L464.50,124.94 L464.90,129.73 L465.30,134.03 L465.70,138.26 L466.10,142.46 L466.50,146.43 L466.90,149.97 L467.30,152.86 L467.70,155.03 L468.10,157.06 L468.50,158.94 L468.90,160.52 L469.30,161.64 L469.70,162.18 L470.10,162.06 L470.50,161.47 L470.90,160.53 L471.30,159.34 L471.70,158.00 L472.10,156.05 L472.50,153.13 L472.90,149.49 L473.30,145.39 L473.70,141.11 L474.10,136.90 L474.50,132.89 L474.90,128.52 L475.30,123.84 L475.70,119.04 L476.10,114.29 L476.50,109.78 L476.90,105.67 L477.30,102.16 L477.70,99.22 L478.10,96.43 L478.50,93.80 L478.90,91.36 L479.30,89.14 L479.70,87.15 L480.10,85.43 L480.50,84.00 L480.90,82.72 L481.30,81.45 L481.70,80.26 L482.10,79.19 L482.50,78.29 L482.90,77.61 L483.30,77.20 L483.70,77.12 L484.10,77.51 L484.50,78.37 L484.90,79.58 L485.30,81.08 L485.70,82.76 L486.10,84.97 L486.50,88.45 L486.90,92.73 L487.30,97.28 L487.70,101.93 L488.10,107.14 L488.50,112.66 L488.90,118.20 L489.30,124.14 L489.70,130.42 L490.10,136.10 L490.50,140.30 L490.90,143.65 L491.30,146.49 L491.70,148.69 L492.10,150.21 L492.50,151.53 L492.90,152.56 L493.30,153.08 L493.70,152.85 L494.10,151.86 L494.50,150.42 L494.90,148.80 L495.30,147.32 L495.70,146.09 L496.10,144.89 L496.50,143.69 L496.90,142.50 L497.30,141.33 L497.70,140.17 L498.10,139.02 L498.50,137.87 L498.90,136.71 L499.30,135.57 L499.70,134.43 L500.10,133.28 L500.50,132.10 L500.90,130.95 L501.30,129.86 L501.70,128.63 L502.10,127.00 L502.50,124.25 L502.90,120.45 L503.30,116.60 L503.70,112.89 L504.10,109.05 L504.50,105.40 L504.90,102.27 L505.30,99.42 L505.70,96.80 L506.10,94.52 L506.50,92.67 L506.90,90.93 L507.30,89.25 L507.70,87.80 L508.10,86.74 L508.50,86.22 L508.90,86.46 L509.30,87.48 L509.70,89.07 L510.10,90.99 L510.50,93.64 L510.90,97.90 L511.30,102.86 L511.70,107.50 L512.10,111.61 L512.50,115.65 L512.90,119.67 L513.30,123.72 L513.70,127.92 L514.10,132.11 L514.50,136.08 L514.90,139.71 L515.30,143.44 L515.70,146.79 L516.10,149.14 L516.50,150.38 L516.90,151.39 L517.30,152.13 L517.70,152.48 L518.10,152.16 L518.50,150.87 L518.90,149.00 L519.30,147.00 L519.70,144.56 L520.10,141.49 L520.50,138.39 L520.90,135.83 L521.30,133.72 L521.70,131.80 L522.10,129.94 L522.50,128.04 L522.90,126.12 L523.30,124.20 L523.70,122.31 L524.10,120.46 L524.50,118.69 L524.90,117.00 L525.30,115.38 L525.70,113.72 L526.10,112.07 L526.50,110.49 L526.90,109.02 L527.30,107.72 L527.70,106.64 L528.10,105.82 L528.50,105.09 L528.90,104.38 L529.30,103.72 L529.70,103.11 L530.10,102.57 L530.50,102.11 L530.90,101.75 L531.30,101.51 L531.70,101.40 L532.10,101.51 L532.50,101.97 L532.90,102.75 L533.30,103.78 L533.70,105.02 L534.10,106.41 L534.50,107.90 L534.90,109.44 L535.30,110.98 L535.70,112.48 L536.10,114.21 L536.50,116.24 L536.90,118.48 L537.30,120.84 L537.70,123.23 L538.10,125.57 L538.50,127.78 L538.90,129.77 L539.30,131.44 L539.70,132.86 L540.10,134.31 L540.50,135.75 L540.90,137.12 L541.30,138.37 L541.70,139.44 L542.10,140.27 L542.50,140.81 L542.90,141.00 L543.30,140.62 L543.70,139.58 L544.10,138.01 L544.50,136.03 L544.90,133.78 L545.30,131.39 L545.70,128.99 L546.10,126.71 L546.50,124.68 L546.90,123.04 L547.30,121.73 L547.70,120.42 L548.10,119.09 L548.50,117.76 L548.90,116.44 L549.30,115.17 L549.70,113.94 L550.10,112.78 L550.50,111.70 L550.90,110.72 L551.30,109.85 L551.70,109.12 L552.10,108.53 L552.50,108.10 L552.90,107.86 L553.30,107.81 L553.70,107.97 L554.10,108.33 L554.50,108.87 L554.90,109.55 L555.30,110.35 L555.70,111.26 L556.10,112.23 L556.50,113.25 L556.90,114.30 L557.30,115.34 L557.70,116.35 L558.10,117.32 L558.50,118.20 L558.90,119.10 L559.30,120.10 L559.70,121.19 L560.10,122.33 L560.50,123.52 L560.90,124.72 L561.30,125.91 L561.70,127.07 L562.10,128.18 L562.50,129.22 L562.90,130.16 L563.30,130.98 L563.70,131.65 L564.10,132.16 L564.50,132.49 L564.90,132.60 L565.30,132.49 L565.70,132.18 L566.10,131.70 L566.50,131.07 L566.90,130.30 L567.30,129.43 L567.70,128.48 L568.10,127.48 L568.50,126.44 L568.90,125.39 L569.30,124.36 L569.70,123.36 L570.10,122.43 L570.50,121.58 L570.90,120.82 L571.30,120.00 L571.70,119.13 L572.10,118.21 L572.50,117.29 L572.90,116.37 L573.30,115.47 L573.70,114.63 L574.10,113.85 L574.50,113.17 L574.90,112.60 L575.30,112.17 L575.70,111.90 L576.10,111.80 L576.50,111.89 L576.90,112.14 L577.30,112.52 L577.70,113.03 L578.10,113.64 L578.50,114.32 L578.90,115.06 L579.30,115.84 L579.70,116.63 L580.10,117.42 L580.50,118.18 L580.90,118.90 L581.30,119.55 L581.70,120.16 L582.10,120.83 L582.50,121.54 L582.90,122.29 L583.30,123.05 L583.70,123.82 L584.10,124.58 L584.50,125.31 L584.90,126.00 L585.30,126.64 L585.70,127.20 L586.10,127.69 L586.50,128.07 L586.90,128.34 L587.30,128.48 L587.70,128.49 L588.10,128.39 L588.50,128.20 L588.90,127.92 L589.30,127.54 L589.70,127.08 L590.10,126.52 L590.50,125.88 L590.90,125.16 L591.30,124.36 L591.70,123.47 L592.10,122.51 L592.50,121.47" fill="none" stroke="#f08670" stroke-width="1.0" stroke-linejoin="round" stroke-opacity="1"/>
<path d="M433.70,114.40 L434.10,114.47 L434.50,114.68 L434.90,114.99 L435.30,115.38 L435.70,115.84 L436.10,116.34 L436.50,116.89 L436.90,117.66 L437.30,118.64 L437.70,119.78 L438.10,121.04 L438.50,122.36 L438.90,123.81 L439.30,125.55 L439.70,127.49 L440.10,129.50 L440.50,131.47 L440.90,133.30 L441.30,135.09 L441.70,136.95 L442.10,138.77 L442.50,140.41 L442.90,141.76 L443.30,142.70 L443.70,143.50 L444.10,144.23 L444.50,144.85 L444.90,145.28 L445.30,145.49 L445.70,145.31 L446.10,144.52 L446.50,143.26 L446.90,141.66 L447.30,139.86 L447.70,137.52 L448.10,133.87 L448.50,129.57 L448.90,125.36 L449.30,121.93 L449.70,118.96 L450.10,116.16 L450.50,113.52 L450.90,111.02 L451.30,108.65 L451.70,106.38 L452.10,104.20 L452.50,102.13 L452.90,100.15 L453.30,98.28 L453.70,96.52 L454.10,94.84 L454.50,93.16 L454.90,91.55 L455.30,90.07 L455.70,88.80 L456.10,87.80 L456.50,86.96 L456.90,86.14 L457.30,85.39 L457.70,84.76 L458.10,84.29 L458.50,84.03 L458.90,84.06 L459.30,84.49 L459.70,85.27 L460.10,86.30 L460.50,87.49 L460.90,89.04 L461.30,91.49 L461.70,94.64 L462.10,98.26 L462.50,102.13 L462.90,106.00 L463.30,110.14 L463.70,114.81 L464.10,119.79 L464.50,124.87 L464.90,129.81 L465.30,134.43 L465.70,139.08 L466.10,143.79 L466.50,148.34 L466.90,152.54 L467.30,156.16 L467.70,159.16 L468.10,162.13 L468.50,164.98 L468.90,167.42 L469.30,169.20 L469.70,170.06 L470.10,169.80 L470.50,168.62 L470.90,166.78 L471.30,164.56 L471.70,162.20 L472.10,159.35 L472.50,155.62 L472.90,151.27 L473.30,146.56 L473.70,141.75 L474.10,137.09 L474.50,132.74 L474.90,128.25 L475.30,123.64 L475.70,119.01 L476.10,114.45 L476.50,110.07 L476.90,105.97 L477.30,102.26 L477.70,98.94 L478.10,95.85 L478.50,93.05 L478.90,90.56 L479.30,88.45 L479.70,86.64 L480.10,84.95 L480.50,83.20 L480.90,81.08 L481.30,78.72 L481.70,76.57 L482.10,75.12 L482.50,74.65 L482.90,74.39 L483.30,74.21 L483.70,74.11 L484.10,74.26 L484.50,75.42 L484.90,77.41 L485.30,79.90 L485.70,82.55 L486.10,85.37 L486.50,88.90 L486.90,92.95 L487.30,97.29 L487.70,101.93 L488.10,107.14 L488.50,112.66 L488.90,118.20 L489.30,124.08 L489.70,130.27 L490.10,135.95 L490.50,140.38 L490.90,144.09 L491.30,147.32 L491.70,149.85 L492.10,151.62 L492.50,153.20 L492.90,154.53 L493.30,155.45 L493.70,155.80 L494.10,154.84 L494.50,152.54 L494.90,149.78 L495.30,147.42 L495.70,145.94 L496.10,144.69 L496.50,143.57 L496.90,142.50 L497.30,141.49 L497.70,140.57 L498.10,139.66 L498.50,138.70 L498.90,137.61 L499.30,136.26 L499.70,134.78 L500.10,133.32 L500.50,132.06 L500.90,131.17 L501.30,130.55 L501.70,129.87 L502.10,128.80 L502.50,125.88 L502.90,121.17 L503.30,116.60 L503.70,112.72 L504.10,108.92 L504.50,105.37 L504.90,102.26 L505.30,99.27 L505.70,96.49 L506.10,94.24 L506.50,92.83 L506.90,92.04 L507.30,91.40 L507.70,90.52 L508.10,88.96 L508.50,87.46 L508.90,87.04 L509.30,87.92 L509.70,89.62 L510.10,91.75 L510.50,94.45 L510.90,98.47 L511.30,103.08 L511.70,107.50 L512.10,111.55 L512.50,115.61 L512.90,119.66 L513.30,123.72 L513.70,127.89 L514.10,132.06 L514.50,136.04 L514.90,139.78 L515.60,146.44 L516.50,150.89 L517.40,152.99 L518.30,151.95 L519.20,147.49 L520.10,141.44 L521.00,135.24 L521.90,132.85 L522.80,130.26 L523.70,123.69 L524.60,116.85 L525.50,113.26 L526.40,110.33 L527.30,108.14 L528.20,104.71 L529.10,102.12 L530.00,100.72 L530.90,106.47 L531.80,101.58 L532.70,99.02 L533.60,104.88 L534.50,106.13 L535.40,110.85 L536.30,115.95 L537.20,122.34 L538.10,123.66 L539.00,130.02 L539.90,125.89 L540.80,135.11 L541.70,139.99 L542.60,148.33 L543.50,141.07 L544.40,131.67 L545.30,128.53 L546.20,122.83 L547.10,120.26 L548.00,120.64 L548.90,112.60 L549.80,108.43 L550.70,112.73 L551.60,113.32 L552.50,106.16 L553.40,105.53 L554.30,118.55 L555.20,116.07 L556.10,108.15 L557.00,116.05 L557.90,116.66 L558.80,116.38 L559.70,118.42 L560.60,124.24 L561.50,126.47 L562.40,126.56 L563.30,131.02 L564.20,138.02 L565.10,129.28 L566.00,125.90 L566.90,127.96 L567.80,128.98 L568.70,134.10 L569.60,128.19 L570.50,118.03 L571.40,120.48 L572.30,114.76 L573.20,109.46 L574.10,109.51 L575.00,110.44 L575.90,104.18 L576.80,104.76 L577.70,110.69 L578.60,114.03 L579.50,115.14 L580.40,113.81 L581.30,124.47 L582.20,125.61 L583.10,124.94 L584.00,127.13 L584.90,114.45 L585.80,117.95 L586.70,121.64 L587.60,125.66 L588.50,130.12 L589.40,132.67 L590.30,136.01 L591.20,118.70 L592.10,112.19" fill="none" stroke="#333333" stroke-width="0.9" stroke-linejoin="round" stroke-opacity="0.8"/>
<path d="M29.80,467.80 L30.20,468.31 L30.60,468.97 L31.00,469.76 L31.40,470.68 L31.80,471.70 L32.20,472.81 L32.60,473.99 L33.00,475.24 L33.40,476.53 L33.80,478.02 L34.20,479.73 L34.60,481.63 L35.00,483.67 L35.40,485.82 L35.80,488.03 L36.20,490.28 L36.60,492.60 L37.00,495.32 L37.40,498.21 L37.80,500.91 L38.20,503.08 L38.60,504.70 L39.00,506.24 L39.40,507.45 L39.80,508.07 L40.20,507.92 L40.60,507.18 L41.00,506.04 L41.40,504.63 L41.80,503.09 L42.20,500.85 L42.60,497.86 L43.00,494.38 L43.40,490.69 L43.80,487.03 L44.20,483.56 L44.60,479.80 L45.00,475.89 L45.40,472.05 L45.80,468.54 L46.20,465.60 L46.60,463.10 L47.00,460.76 L47.40,458.58 L47.80,456.55 L48.20,454.69 L48.60,452.99 L49.00,451.45 L49.40,450.07 L49.80,448.73 L50.20,447.42 L50.60,446.19 L51.00,445.08 L51.40,444.13 L51.80,443.38 L52.20,442.88 L52.60,442.59 L53.00,442.34 L53.40,442.15 L53.80,442.03 L54.20,442.01 L54.60,442.32 L55.00,442.95 L55.40,443.85 L55.80,444.93 L56.20,446.12 L56.60,447.93 L57.00,450.44 L57.40,453.49 L57.80,456.93 L58.20,460.62 L58.60,464.56 L59.00,469.50 L59.40,475.08 L59.80,480.76 L60.20,486.00 L60.60,490.97 L61.00,495.99 L61.40,500.78 L61.80,505.04 L62.20,508.50 L62.60,511.52 L63.00,514.50 L63.40,517.19 L63.80,519.33 L64.20,520.67 L64.60,520.98 L65.00,520.61 L65.40,519.83 L65.80,518.70 L66.20,517.33 L66.60,515.80 L67.00,514.05 L67.40,511.35 L67.80,507.88 L68.20,503.95 L68.60,499.89 L69.00,496.00 L69.40,492.17 L69.80,488.15 L70.20,484.04 L70.60,479.95 L71.00,476.00 L71.40,472.29 L71.80,468.56 L72.20,464.83 L72.60,461.25 L73.00,457.98 L73.40,455.18 L73.80,452.95 L74.20,451.10 L74.60,449.48 L75.00,448.00 L75.40,446.57 L75.80,445.09 L76.20,443.44 L76.60,441.47 L77.00,439.34 L77.40,437.19 L77.80,435.23 L78.20,433.61 L78.60,432.51 L79.00,432.10 L79.40,432.35 L79.80,433.05 L80.20,434.10 L80.60,435.41 L81.00,436.92 L81.40,439.46 L81.80,443.04 L82.20,447.27 L82.60,451.99 L83.00,458.11 L83.40,464.98 L83.80,471.67 L84.20,477.78 L84.60,483.94 L85.00,489.66 L85.40,494.40 L85.80,498.39 L86.20,502.10 L86.60,505.38 L87.00,508.06 L87.40,510.00 L87.80,511.49 L88.20,512.85 L88.60,513.97 L89.00,514.72 L89.40,515.00 L89.80,514.67 L90.20,513.81 L90.60,512.60 L91.00,511.21 L91.40,509.70 L91.80,507.59 L92.20,505.06 L92.60,502.43 L93.00,500.00 L93.40,497.74 L93.80,495.51 L94.20,493.41 L94.60,491.58 L95.00,490.13 L95.40,488.84 L95.80,487.39 L96.20,485.44 L96.60,482.52 L97.00,478.96 L97.40,475.28 L97.80,471.30 L98.20,467.07 L98.60,462.93 L99.00,459.10 L99.40,455.24 L99.80,451.62 L100.20,448.61 L100.60,446.34 L101.00,444.38 L101.40,442.76 L101.80,441.50 L102.20,440.43 L102.60,439.51 L103.00,439.02 L103.40,439.17 L103.80,439.86 L104.20,440.97 L104.60,442.35 L105.00,443.94 L105.40,446.58 L105.80,450.16 L106.20,454.09 L106.60,457.95 L107.00,462.28 L107.40,466.84 L107.80,471.21 L108.20,475.00 L108.60,478.31 L109.00,481.51 L109.40,484.54 L109.80,487.35 L110.20,489.90 L110.60,492.13 L111.00,494.00 L111.40,495.69 L111.80,497.38 L112.20,498.97 L112.60,500.41 L113.00,501.60 L113.40,502.47 L113.80,502.94 L114.20,502.98 L114.60,502.81 L115.00,502.49 L115.40,502.05 L115.80,501.50 L116.20,500.87 L116.60,500.18 L117.00,499.27 L117.40,497.79 L117.80,495.83 L118.20,493.49 L118.60,490.90 L119.00,488.16 L119.40,485.39 L119.80,482.70 L120.20,480.19 L120.60,477.63 L121.00,474.97 L121.40,472.24 L121.80,469.49 L122.20,466.77 L122.60,464.13 L123.00,461.61 L123.40,459.04 L123.80,456.13 L124.20,453.25 L124.60,450.81 L125.00,449.21 L125.40,448.82 L125.80,449.17 L126.20,449.92 L126.60,450.93 L127.00,452.09 L127.40,453.32 L127.80,454.94 L128.20,457.00 L128.60,459.35 L129.00,461.86 L129.40,464.38 L129.80,466.83 L130.20,469.45 L130.60,472.20 L131.00,474.97 L131.40,477.67 L131.80,480.21 L132.20,482.58 L132.60,484.98 L133.00,487.31 L133.40,489.47 L133.80,491.37 L134.20,492.90 L134.60,494.24 L135.00,495.56 L135.40,496.73 L135.80,497.62 L136.20,498.13 L136.60,498.16 L137.00,497.83 L137.40,497.24 L137.80,496.47 L138.20,495.57 L138.60,494.63 L139.00,493.60 L139.40,492.26 L139.80,490.69 L140.20,488.95 L140.60,487.13 L141.00,485.30 L141.40,483.38 L141.80,481.29 L142.20,479.09 L142.60,476.88 L143.00,474.73 L143.40,472.70 L143.80,470.63 L144.20,468.53 L144.60,466.51 L145.00,464.67 L145.40,463.13 L145.80,461.93 L146.20,460.78 L146.60,459.66 L147.00,458.63 L147.40,457.72 L147.80,456.97 L148.20,456.43 L148.60,456.14 L149.00,456.14 L149.40,456.47 L149.80,457.09 L150.20,457.95 L150.60,459.00 L151.00,460.20 L151.40,461.51 L151.80,462.88 L152.20,464.25 L152.60,465.60 L153.00,467.06 L153.40,468.77 L153.80,470.67 L154.20,472.70 L154.60,474.82 L155.00,476.96 L155.40,479.06 L155.80,481.07 L156.20,482.94 L156.60,484.66 L157.00,486.52 L157.40,488.48 L157.80,490.44 L158.20,492.29 L158.60,493.95 L159.00,495.29 L159.40,496.24 L159.80,496.68 L160.20,496.54 L160.60,495.86 L161.00,494.74 L161.40,493.26 L161.80,491.50 L162.20,489.55 L162.60,487.51 L163.00,485.45 L163.40,483.46 L163.80,481.63 L164.20,479.98 L164.60,478.24 L165.00,476.41 L165.40,474.57 L165.80,472.79 L166.20,471.16 L166.60,469.73 L167.00,468.60 L167.40,467.63 L167.80,466.66 L168.20,465.74 L168.60,464.92 L169.00,464.22 L169.40,463.69 L169.80,463.38 L170.20,463.31 L170.60,463.45 L171.00,463.75 L171.40,464.20 L171.80,464.77 L172.20,465.42 L172.60,466.14 L173.00,466.89 L173.40,467.66 L173.80,468.42 L174.20,469.19 L174.60,470.12 L175.00,471.16 L175.40,472.30 L175.80,473.50 L176.20,474.73 L176.60,475.97 L177.00,477.18 L177.40,478.34 L177.80,479.41 L178.20,480.37 L178.60,481.22 L179.00,482.07 L179.40,482.96 L179.80,483.84 L180.20,484.72 L180.60,485.58 L181.00,486.39 L181.40,487.15 L181.80,487.83 L182.20,488.42 L182.60,488.91 L183.00,489.28 L183.40,489.52 L183.80,489.60 L184.20,489.49 L184.60,489.18 L185.00,488.70 L185.40,488.09 L185.80,487.37 L186.20,486.57 L186.60,485.73 L187.00,484.83 L187.40,483.67 L187.80,482.25 L188.20,480.60 L188.60,478.76 L189.00,476.78 L189.40,474.70" fill="none" stroke="#f08670" stroke-width="1.0" stroke-linejoin="round" stroke-opacity="1"/>
<path d="M29.80,468.60 L30.20,468.93 L30.60,469.40 L31.00,469.99 L31.40,470.69 L31.80,471.47 L32.20,472.31 L32.60,473.20 L33.00,474.22 L33.40,475.44 L33.80,476.84 L34.20,478.36 L34.60,479.97 L35.00,481.67 L35.40,483.61 L35.80,485.74 L36.20,487.97 L36.60,490.21 L37.00,492.38 L37.40,494.54 L37.80,496.88 L38.20,499.13 L38.60,501.01 L39.00,502.26 L39.40,503.24 L39.80,504.00 L40.20,504.30 L40.60,503.92 L41.00,502.93 L41.40,501.59 L41.80,500.11 L42.20,498.02 L42.60,495.28 L43.00,492.10 L43.40,488.73 L43.80,485.39 L44.20,482.20 L44.60,478.73 L45.00,475.12 L45.40,471.57 L45.80,468.32 L46.20,465.60 L46.60,463.27 L47.00,461.09 L47.40,459.09 L47.80,457.32 L48.20,455.82 L48.60,454.63 L49.00,453.68 L49.40,452.88 L49.80,452.17 L50.20,451.49 L50.60,450.78 L51.00,449.99 L51.40,449.10 L51.80,448.18 L52.20,447.30 L52.60,446.52 L53.00,445.92 L53.40,445.47 L53.80,445.06 L54.20,444.70 L54.60,444.43 L55.00,444.31 L55.40,444.54 L55.80,445.52 L56.20,447.04 L56.60,448.91 L57.00,450.94 L57.40,453.87 L57.80,457.66 L58.20,461.88 L58.60,466.21 L59.00,471.11 L59.40,476.40 L59.80,481.74 L60.20,486.80 L60.60,491.78 L61.00,496.88 L61.40,501.78 L61.80,506.13 L62.20,509.60 L62.60,512.57 L63.00,515.49 L63.40,518.10 L63.80,520.18 L64.20,521.48 L64.60,521.78 L65.00,521.41 L65.40,520.61 L65.80,519.47 L66.20,518.08 L66.60,516.52 L67.00,514.72 L67.40,511.92 L67.80,508.30 L68.20,504.21 L68.60,499.99 L69.00,496.00 L69.40,492.13 L69.80,488.12 L70.20,484.03 L70.60,479.98 L71.00,476.03 L71.40,472.28 L71.80,468.58 L72.20,464.91 L72.60,461.36 L73.00,457.98 L73.40,454.85 L73.80,452.02 L74.20,449.42 L74.60,446.99 L75.00,444.68 L75.40,442.45 L75.80,440.25 L76.20,437.95 L76.60,435.51 L77.00,433.29 L77.40,431.67 L77.80,430.71 L78.20,429.90 L78.60,429.32 L79.00,429.10 L79.40,429.48 L79.80,430.49 L80.20,431.98 L80.60,433.76 L81.00,435.72 L81.40,438.51 L81.80,442.19 L82.20,446.50 L82.60,451.39 L83.00,457.73 L83.40,464.81 L83.80,471.64 L84.20,477.80 L84.60,483.90 L85.00,489.58 L85.40,494.40 L85.80,498.60 L86.20,502.56 L86.60,506.09 L87.00,509.00 L87.40,511.10 L87.80,512.71 L88.20,514.18 L88.60,515.38 L89.00,516.20 L89.40,516.50 L89.80,516.11 L90.20,515.07 L90.60,513.61 L91.00,511.94 L91.40,510.15 L91.80,507.67 L92.20,504.73 L92.60,501.71 L93.00,499.00 L93.40,496.40 L93.80,493.78 L94.20,491.62 L94.60,490.39 L95.00,489.80 L95.40,489.42 L95.80,488.92 L96.20,487.92 L96.60,484.53 L97.00,479.65 L97.40,475.18 L97.80,471.02 L98.20,466.84 L98.60,462.86 L99.00,459.19 L99.40,455.59 L99.80,452.25 L100.20,449.41 L100.60,447.03 L101.00,444.77 L101.40,442.97 L101.80,442.00 L102.20,441.62 L102.60,441.34 L103.00,441.21 L103.40,441.38 L103.80,442.09 L104.20,443.22 L104.60,444.64 L105.00,446.24 L105.40,448.84 L105.80,452.33 L106.20,456.15 L106.60,459.86 L107.00,463.89 L107.40,468.12 L107.80,472.31 L108.20,476.20 L108.60,479.94 L109.00,483.68 L109.40,487.22 L109.80,490.36 L110.20,492.90 L110.60,495.04 L111.00,497.08 L111.40,498.90 L111.80,500.41 L112.20,501.51 L112.60,502.11 L113.00,502.52 L113.40,502.85 L113.80,503.08 L114.20,503.20 L114.60,503.00 L115.00,502.20 L115.40,500.97 L115.80,499.47 L116.20,497.89 L116.60,496.21 L117.00,494.12 L117.40,491.71 L117.80,489.10 L118.20,486.43 L118.60,483.80 L119.00,481.05 L119.40,478.05 L119.80,475.02 L120.20,472.15 L120.60,469.65 L121.00,467.71 L121.40,466.29 L121.80,465.00 L122.20,463.47 L122.60,461.15 L123.00,457.46 L123.40,454.01 L123.80,451.78 L124.20,449.72 L124.60,448.00 L125.00,446.88 L125.40,446.63 L125.80,447.28 L126.20,448.57 L126.60,450.26 L127.00,452.09 L127.40,453.82 L127.80,455.64 L128.20,457.66 L128.60,459.82 L129.00,462.09 L129.40,464.42 L129.80,466.81 L130.60,472.12 L131.50,478.34 L132.40,483.66 L133.30,489.17 L134.20,493.11 L135.10,495.32 L136.00,497.46 L136.90,497.17 L137.80,496.13 L138.70,495.00 L139.60,491.43 L140.50,487.06 L141.40,483.79 L142.30,478.62 L143.20,473.85 L144.10,469.79 L145.00,464.68 L145.90,460.04 L146.80,459.30 L147.70,456.85 L148.60,456.11 L149.50,456.15 L150.40,459.37 L151.30,459.78 L152.20,463.07 L153.10,468.06 L154.00,471.04 L154.90,476.04 L155.80,482.83 L156.70,488.76 L157.60,488.30 L158.50,489.05 L159.40,496.38 L160.30,500.11 L161.20,500.67 L162.10,495.62 L163.00,486.52 L163.90,479.24 L164.80,472.72 L165.70,469.23 L166.60,464.79 L167.50,464.11 L168.40,460.79 L169.30,456.25 L170.20,460.50 L171.10,460.83 L172.00,462.88 L172.90,466.11 L173.80,469.30 L174.70,474.63 L175.60,474.38 L176.50,478.29 L177.40,481.55 L178.30,484.19 L179.20,490.90 L180.10,491.12 L181.00,493.33 L181.90,490.71 L182.80,493.66 L183.70,494.83 L184.60,497.37 L185.50,493.47 L186.40,489.02 L187.30,479.91 L188.20,476.38 L189.10,467.98" fill="none" stroke="#333333" stroke-width="0.9" stroke-linejoin="round" stroke-opacity="0.8"/>
<path d="M232.80,467.10 L233.20,467.74 L233.60,468.56 L234.00,469.55 L234.40,470.68 L234.80,471.93 L235.20,473.28 L235.60,474.70 L236.00,476.36 L236.40,478.36 L236.80,480.62 L237.20,483.04 L237.60,485.52 L238.00,487.98 L238.40,490.31 L238.80,492.49 L239.20,494.79 L239.60,497.16 L240.00,499.47 L240.40,501.60 L240.80,503.42 L241.20,504.83 L241.60,505.86 L242.00,506.83 L242.40,507.70 L242.80,508.38 L243.20,508.80 L243.60,508.89 L244.00,508.57 L244.40,507.89 L244.80,506.93 L245.20,505.77 L245.60,504.49 L246.00,503.15 L246.40,501.33 L246.80,498.98 L247.20,496.26 L247.60,493.33 L248.00,490.35 L248.40,487.48 L248.80,484.75 L249.20,481.92 L249.60,479.02 L250.00,476.09 L250.40,473.18 L250.80,470.33 L251.20,467.58 L251.60,464.96 L252.00,462.39 L252.40,459.87 L252.80,457.43 L253.20,455.10 L253.60,452.92 L254.00,450.89 L254.40,448.82 L254.80,446.81 L255.20,444.96 L255.60,443.39 L256.00,442.22 L256.40,441.41 L256.80,440.65 L257.20,439.96 L257.60,439.35 L258.00,438.85 L258.40,438.47 L258.80,438.25 L259.20,438.21 L259.60,438.43 L260.00,438.92 L260.40,439.62 L260.80,440.48 L261.20,441.47 L261.60,442.65 L262.00,444.60 L262.40,447.24 L262.80,450.34 L263.20,453.72 L263.60,457.16 L264.00,460.70 L264.40,464.77 L264.80,469.17 L265.20,473.71 L265.60,478.15 L266.00,482.30 L266.40,486.28 L266.80,490.28 L267.20,494.17 L267.60,497.81 L268.00,501.06 L268.40,503.87 L268.80,506.57 L269.20,509.08 L269.60,511.24 L270.00,512.90 L270.40,514.00 L270.80,514.95 L271.20,515.75 L271.60,516.30 L272.00,516.50 L272.40,516.27 L272.80,515.63 L273.20,514.67 L273.60,513.46 L274.00,512.09 L274.40,510.60 L274.80,508.35 L275.20,505.32 L275.60,501.81 L276.00,498.11 L276.40,494.54 L276.80,491.31 L277.20,488.10 L277.60,484.87 L278.00,481.66 L278.40,478.51 L278.80,475.45 L279.20,472.51 L279.60,469.67 L280.00,466.90 L280.40,464.16 L280.80,461.40 L281.20,458.57 L281.60,455.64 L282.00,452.70 L282.40,449.88 L282.80,447.30 L283.20,444.80 L283.60,442.25 L284.00,439.83 L284.40,437.71 L284.80,436.04 L285.20,434.99 L285.60,434.17 L286.00,433.43 L286.40,432.82 L286.80,432.37 L287.20,432.13 L287.60,432.17 L288.00,432.69 L288.40,433.65 L288.80,434.95 L289.20,436.50 L289.60,438.20 L290.00,440.64 L290.40,444.19 L290.80,448.46 L291.20,453.02 L291.60,457.53 L292.00,462.50 L292.40,467.92 L292.80,473.39 L293.20,478.50 L293.60,483.02 L294.00,487.55 L294.40,491.98 L294.80,496.05 L295.20,499.49 L295.60,502.03 L296.00,503.77 L296.40,505.37 L296.80,506.81 L297.20,508.01 L297.60,508.92 L298.00,509.47 L298.40,509.58 L298.80,509.17 L299.20,508.30 L299.60,507.11 L300.00,505.71 L300.40,504.23 L300.80,502.69 L301.20,500.63 L301.60,498.17 L302.00,495.56 L302.40,493.05 L302.80,490.88 L303.20,489.22 L303.60,487.77 L304.00,486.44 L304.40,485.22 L304.80,484.09 L305.20,483.02 L305.60,482.00 L306.00,481.07 L306.40,480.26 L306.80,479.51 L307.20,478.76 L307.60,477.95 L308.00,477.02 L308.40,475.94 L308.80,474.73 L309.20,473.36 L309.60,471.80 L310.00,470.00 L310.40,467.80 L310.80,464.65 L311.20,461.07 L311.60,457.72 L312.00,454.89 L312.40,452.04 L312.80,449.36 L313.20,447.05 L313.60,445.32 L314.00,444.13 L314.40,443.06 L314.80,442.19 L315.20,441.64 L315.60,441.52 L316.00,442.00 L316.40,443.02 L316.80,444.46 L317.20,446.17 L317.60,448.04 L318.00,450.09 L318.40,452.94 L318.80,456.43 L319.20,460.25 L319.60,464.08 L320.00,467.84 L320.40,471.89 L320.80,476.03 L321.20,480.07 L321.60,483.80 L322.00,487.36 L322.40,490.93 L322.80,494.33 L323.20,497.40 L323.60,499.96 L324.00,501.97 L324.40,503.88 L324.80,505.49 L325.20,506.46 L325.60,506.46 L326.00,505.43 L326.40,503.65 L326.80,501.38 L327.20,498.89 L327.60,496.48 L328.00,494.40 L328.40,492.58 L328.80,490.75 L329.20,488.94 L329.60,487.14 L330.00,485.38 L330.40,483.66 L330.80,482.00 L331.20,480.41 L331.60,478.81 L332.00,477.21 L332.40,475.64 L332.80,474.14 L333.20,472.73 L333.60,471.46 L334.00,470.35 L334.40,469.39 L334.80,468.49 L335.20,467.63 L335.60,466.83 L336.00,466.09 L336.40,465.39 L336.80,464.76 L337.20,464.18 L337.60,463.65 L338.00,463.19 L338.40,462.73 L338.80,462.27 L339.20,461.83 L339.60,461.41 L340.00,461.04 L340.40,460.71 L340.80,460.46 L341.20,460.28 L341.60,460.20 L342.00,460.27 L342.40,460.58 L342.80,461.10 L343.20,461.80 L343.60,462.63 L344.00,463.56 L344.40,464.56 L344.80,465.60 L345.20,466.92 L345.60,468.72 L346.00,470.84 L346.40,473.16 L346.80,475.53 L347.20,477.83 L347.60,479.89 L348.00,481.68 L348.40,483.52 L348.80,485.45 L349.20,487.40 L349.60,489.32 L350.00,491.17 L350.40,492.88 L350.80,494.40 L351.20,495.67 L351.60,496.65 L352.00,497.28 L352.40,497.50 L352.80,497.31 L353.20,496.76 L353.60,495.91 L354.00,494.81 L354.40,493.50 L354.80,492.04 L355.20,490.47 L355.60,488.85 L356.00,487.22 L356.40,485.64 L356.80,484.15 L357.20,482.69 L357.60,481.02 L358.00,479.22 L358.40,477.33 L358.80,475.45 L359.20,473.63 L359.60,471.95 L360.00,470.47 L360.40,469.27 L360.80,468.41 L361.20,467.67 L361.60,466.95 L362.00,466.27 L362.40,465.64 L362.80,465.08 L363.20,464.60 L363.60,464.23 L364.00,463.96 L364.40,463.82 L364.80,463.83 L365.20,464.03 L365.60,464.41 L366.00,464.95 L366.40,465.62 L366.80,466.40 L367.20,467.26 L367.60,468.18 L368.00,469.13 L368.40,470.09 L368.80,471.04 L369.20,471.96 L369.60,472.81 L370.00,473.59 L370.40,474.41 L370.80,475.28 L371.20,476.17 L371.60,477.07 L372.00,477.97 L372.40,478.85 L372.80,479.69 L373.20,480.49 L373.60,481.22 L374.00,481.87 L374.40,482.43 L374.80,482.98 L375.20,483.53 L375.60,484.08 L376.00,484.59 L376.40,485.06 L376.80,485.46 L377.20,485.78 L377.60,486.00 L378.00,486.10 L378.40,486.06 L378.80,485.90 L379.20,485.63 L379.60,485.26 L380.00,484.81 L380.40,484.30 L380.80,483.73 L381.20,483.13 L381.60,482.50 L382.00,481.87 L382.40,481.25 L382.80,480.65 L383.20,479.96 L383.60,479.17 L384.00,478.30 L384.40,477.37 L384.80,476.42 L385.20,475.47 L385.60,474.54 L386.00,473.66 L386.40,472.86 L386.80,472.17 L387.20,471.60 L387.60,471.11 L388.00,470.64 L388.40,470.19 L388.80,469.76 L389.20,469.35 L389.60,468.98 L390.00,468.65 L390.40,468.35 L390.80,468.11 L391.20,467.91" fill="none" stroke="#f08670" stroke-width="1.0" stroke-linejoin="round" stroke-opacity="1"/>
<path d="M232.80,476.20 L233.20,476.64 L233.60,477.16 L234.00,477.77 L234.40,478.44 L234.80,479.18 L235.20,479.97 L235.60,480.80 L236.00,481.74 L236.40,482.84 L236.80,484.05 L237.20,485.34 L237.60,486.66 L238.00,487.99 L238.40,489.28 L238.80,490.53 L239.20,491.87 L239.60,493.28 L240.00,494.70 L240.40,496.04 L240.80,497.25 L241.20,498.26 L241.60,499.00 L242.00,499.58 L242.40,500.13 L242.80,500.63 L243.20,501.06 L243.60,501.40 L244.00,501.62 L244.40,501.70 L244.80,501.51 L245.20,500.97 L245.60,500.16 L246.00,499.13 L246.40,497.94 L246.80,496.66 L247.20,495.25 L247.60,493.25 L248.00,490.76 L248.40,487.98 L248.80,485.09 L249.20,482.30 L249.60,479.51 L250.00,476.55 L250.40,473.53 L250.80,470.52 L251.20,467.63 L251.60,464.95 L252.00,462.36 L252.40,459.84 L252.80,457.41 L253.20,455.09 L253.60,452.92 L254.00,450.89 L254.40,448.86 L254.80,446.88 L255.20,445.06 L255.60,443.48 L256.00,442.25 L256.40,441.31 L256.80,440.42 L257.20,439.58 L257.60,438.83 L258.00,438.21 L258.40,437.75 L258.80,437.47 L259.20,437.41 L259.60,437.63 L260.00,438.11 L260.40,438.81 L260.80,439.68 L261.20,440.67 L261.60,441.87 L262.00,443.92 L262.40,446.70 L262.80,449.99 L263.20,453.55 L263.60,457.13 L264.00,460.75 L264.40,464.82 L264.80,469.18 L265.20,473.66 L265.60,478.10 L266.00,482.30 L266.40,486.40 L266.80,490.56 L267.20,494.62 L267.60,498.47 L268.00,501.94 L268.40,505.00 L268.80,507.97 L269.20,510.76 L269.60,513.18 L270.00,515.04 L270.40,516.25 L270.80,517.30 L271.20,518.18 L271.60,518.78 L272.00,519.00 L272.40,518.73 L272.80,518.00 L273.20,516.89 L273.60,515.50 L274.00,513.94 L274.40,512.25 L274.80,509.73 L275.20,506.36 L275.60,502.49 L276.00,498.46 L276.40,494.63 L276.80,491.25 L277.20,487.99 L277.60,484.76 L278.00,481.59 L278.40,478.48 L278.80,475.44 L279.20,472.51 L279.60,469.67 L280.00,466.90 L280.40,464.16 L280.80,461.40 L281.20,458.57 L281.60,455.64 L282.00,452.70 L282.40,449.88 L282.80,447.30 L283.20,444.80 L283.60,442.25 L284.00,439.83 L284.40,437.71 L284.80,436.04 L285.20,434.99 L285.60,434.17 L286.00,433.43 L286.40,432.82 L286.80,432.37 L287.20,432.13 L287.60,432.17 L288.00,432.69 L288.40,433.65 L288.80,434.95 L289.20,436.50 L289.60,438.20 L290.00,440.64 L290.40,444.19 L290.80,448.46 L291.20,453.02 L291.60,457.52 L292.00,462.47 L292.40,467.86 L292.80,473.31 L293.20,478.46 L293.60,483.08 L294.00,487.73 L294.40,492.31 L294.80,496.56 L295.20,500.20 L295.60,502.97 L296.00,504.96 L296.40,506.84 L296.80,508.54 L297.20,509.98 L297.60,511.08 L298.00,511.74 L298.40,511.87 L298.80,511.26 L299.20,510.00 L299.60,508.30 L300.00,506.37 L300.40,504.42 L300.80,502.55 L301.20,500.31 L301.60,497.82 L302.00,495.26 L302.40,492.83 L302.80,490.75 L303.20,489.14 L303.60,487.73 L304.00,486.45 L304.40,485.27 L304.80,484.20 L305.20,483.21 L305.60,482.30 L306.00,481.49 L306.40,480.80 L306.80,480.17 L307.20,479.55 L307.60,478.89 L308.00,478.13 L308.40,477.24 L308.80,476.29 L309.20,475.21 L309.60,473.96 L310.00,472.46 L310.40,470.49 L310.80,467.37 L311.20,463.69 L311.60,460.24 L312.00,457.35 L312.40,454.44 L312.80,451.69 L313.20,449.34 L313.60,447.61 L314.00,446.47 L314.40,445.46 L314.80,444.64 L315.20,444.13 L315.60,444.02 L316.00,444.42 L316.40,445.27 L316.80,446.48 L317.20,447.95 L317.60,449.56 L318.00,451.38 L318.40,454.04 L318.80,457.37 L319.20,461.04 L319.60,464.72 L320.00,468.33 L320.40,472.24 L320.80,476.26 L321.20,480.18 L321.60,483.80 L322.00,487.36 L322.40,491.05 L322.80,494.55 L323.20,497.57 L323.60,499.79 L324.00,501.05 L324.40,502.08 L324.80,502.95 L325.20,503.60 L325.60,503.95 L326.00,503.94 L326.40,503.47 L326.80,502.60 L327.20,501.42 L327.60,500.00 L328.00,496.87 L328.40,492.15 L328.80,488.30 L329.20,485.87 L329.60,483.74 L330.00,481.88 L330.90,478.43 L331.80,475.47 L332.70,472.96 L333.60,471.44 L334.50,469.87 L335.40,468.23 L336.30,467.92 L337.20,467.78 L338.10,467.68 L339.00,460.80 L339.90,459.24 L340.80,459.79 L341.70,461.21 L342.60,456.42 L343.50,455.92 L344.40,459.09 L345.30,467.00 L346.20,473.35 L347.10,476.88 L348.00,482.80 L348.90,490.25 L349.80,493.21 L350.70,496.05 L351.60,498.26 L352.50,498.12 L353.40,499.51 L354.30,497.14 L355.20,494.17 L356.10,486.52 L357.00,481.51 L357.90,477.51 L358.80,473.78 L359.70,471.43 L360.60,470.51 L361.50,466.14 L362.40,460.82 L363.30,458.74 L364.20,450.16 L365.10,454.52 L366.00,462.24 L366.90,469.88 L367.80,480.34 L368.70,484.85 L369.60,486.18 L370.50,479.21 L371.40,467.47 L372.30,460.94 L373.20,469.70 L374.10,475.66 L375.00,481.48 L375.90,487.96 L376.80,489.38 L377.70,481.60 L378.60,479.72 L379.50,482.13 L380.40,482.82 L381.30,483.61 L382.20,479.84 L383.10,479.21 L384.00,476.67 L384.90,474.68 L385.80,483.73 L386.70,484.45 L387.60,474.85 L388.50,460.96 L389.40,460.49 L390.30,472.82 L391.20,480.26" fill="none" stroke="#333333" stroke-width="0.9" stroke-linejoin="round" stroke-opacity="0.8"/>
<path d="M26.90,339.40 L27.30,339.18 L27.70,338.97 L28.10,338.80 L28.50,338.67 L28.90,338.58 L29.30,338.54 L29.70,338.50 L30.10,338.48 L30.50,338.44 L30.90,338.38 L31.30,338.28 L31.70,338.13 L32.10,337.98 L32.50,337.85 L32.90,337.76 L33.30,337.68 L33.70,337.60 L34.10,337.54 L34.50,337.50 L34.90,337.53 L35.30,337.72 L35.70,337.97 L36.10,338.17 L36.50,338.26 L36.90,338.34 L37.30,338.39 L37.70,338.39 L38.10,338.22 L38.50,337.92 L38.90,337.65 L39.30,337.48 L39.70,337.34 L40.10,337.21 L40.50,337.10 L40.90,337.01 L41.30,336.93 L41.70,336.85 L42.10,336.79 L42.50,336.71 L42.90,336.63 L43.30,336.53 L43.70,336.40 L44.10,336.24 L44.50,336.05 L44.90,335.84 L45.30,335.61 L45.70,335.37 L46.10,335.12 L46.50,334.88 L46.90,334.62 L47.30,334.34 L47.70,334.03 L48.10,333.69 L48.50,333.30 L48.90,332.86 L49.30,332.38 L49.70,331.84 L50.10,331.27 L50.50,330.67 L50.90,330.03 L51.30,329.36 L51.70,328.62 L52.10,327.82 L52.50,326.97 L52.90,326.07 L53.30,325.14 L53.70,324.18 L54.10,323.21 L54.50,322.22 L54.90,321.24 L55.30,320.27 L55.70,319.30 L56.10,318.31 L56.50,317.30 L56.90,316.24 L57.30,315.12 L57.70,313.93 L58.10,312.64 L58.50,311.21 L58.90,309.65 L59.30,308.00 L59.70,306.31 L60.10,304.60 L60.50,302.92 L60.90,301.30 L61.30,299.76 L61.70,298.27 L62.10,296.79 L62.50,295.27 L62.90,293.68 L63.30,291.97 L63.70,290.10 L64.10,288.13 L64.50,286.04 L64.90,283.69 L65.30,280.93 L65.70,277.56 L66.10,272.54 L66.50,266.17 L66.90,259.31 L67.30,252.83 L67.70,247.29 L68.10,241.64 L68.50,236.12 L68.90,231.29 L69.30,227.68 L69.70,225.58 L70.10,223.86 L70.50,222.43 L70.90,221.40 L71.30,220.92 L71.70,221.05 L72.10,221.66 L72.50,222.66 L72.90,223.97 L73.30,225.50 L73.70,228.02 L74.10,232.06 L74.50,237.20 L74.90,243.00 L75.30,250.72 L75.70,260.55 L76.10,270.45 L76.50,279.26 L76.90,287.93 L77.30,296.12 L77.70,303.43 L78.10,309.99 L78.50,316.03 L78.90,321.65 L79.30,327.45 L79.70,333.78 L80.10,338.89 L80.50,341.00 L80.90,340.18 L81.30,338.25 L81.70,336.01 L82.10,334.26 L82.50,333.34 L82.90,332.56 L83.30,332.07 L83.70,332.13 L84.10,333.00 L84.50,334.34 L84.90,335.70 L85.30,336.97 L85.70,338.52 L86.10,340.08 L86.50,341.33 L86.90,341.97 L87.30,341.91 L87.70,341.57 L88.10,341.08 L88.50,340.55 L88.90,340.09 L89.30,339.72 L89.70,339.32 L90.10,338.95 L90.50,338.65 L90.90,338.51 L91.30,338.65 L91.70,339.20 L92.10,339.94 L92.50,340.61 L92.90,340.98 L93.30,340.86 L93.70,340.35 L94.10,339.61 L94.50,338.81 L94.90,338.13 L95.30,337.64 L95.70,337.19 L96.10,336.75 L96.50,336.34 L96.90,335.96 L97.30,335.59 L97.70,335.25 L98.10,334.92 L98.50,334.64 L98.90,334.38 L99.30,334.15 L99.70,333.92 L100.10,333.67 L100.50,333.40 L100.90,333.09 L101.30,332.71 L101.70,332.27 L102.10,331.76 L102.50,331.21 L102.90,330.64 L103.30,330.04 L103.70,329.44 L104.10,328.85 L104.50,328.23 L104.90,327.58 L105.30,326.92 L105.70,326.25 L106.10,325.61 L106.50,325.00 L106.90,324.40 L107.30,323.78 L107.70,323.17 L108.10,322.58 L108.50,322.04 L108.90,321.56 L109.30,321.16 L109.70,320.85 L110.10,320.56 L110.50,320.29 L110.90,320.04 L111.30,319.82 L111.70,319.65 L112.10,319.54 L112.50,319.50 L112.90,319.56 L113.30,319.71 L113.70,319.95 L114.10,320.25 L114.50,320.59 L114.90,320.96 L115.30,321.32 L115.70,321.68 L116.10,322.08 L116.50,322.52 L116.90,322.99 L117.30,323.51 L117.70,324.05 L118.10,324.63 L118.50,325.23 L118.90,325.84 L119.30,326.49 L119.70,327.20 L120.10,327.96 L120.50,328.77 L120.90,329.61 L121.30,330.47 L121.70,331.34 L122.10,332.22 L122.50,333.16 L122.90,334.15 L123.30,335.17 L123.70,336.17 L124.10,337.13 L124.50,338.00 L124.90,338.87 L125.30,339.79 L125.70,340.67 L126.10,341.46 L126.50,342.08 L126.90,342.45 L127.30,342.60 L127.70,342.73 L128.10,342.83 L128.50,342.91 L128.90,342.97 L129.30,343.00 L129.70,343.00 L130.10,343.00 L130.50,343.00 L130.90,343.00 L131.30,343.00 L131.70,343.00 L132.10,343.00 L132.50,343.00 L132.90,343.00 L133.30,343.00 L133.70,343.00 L134.10,343.00 L134.50,343.00 L134.90,343.00 L135.30,343.00 L135.70,343.00 L136.10,343.00 L136.50,343.00 L136.90,343.00 L137.30,343.00 L137.70,343.00 L138.10,343.00 L138.50,343.00 L138.90,343.00 L139.30,343.00 L139.70,343.00 L140.10,343.00 L140.50,343.00 L140.90,343.00 L141.30,343.00 L141.70,343.00 L142.10,343.00 L142.50,343.00 L142.90,343.00 L143.30,343.00 L143.70,343.00 L144.10,343.00 L144.50,343.00 L144.90,343.00 L145.30,343.00 L145.70,343.00 L146.10,343.00 L146.50,343.00 L146.90,343.00 L147.30,343.00 L147.70,343.00 L148.10,343.00 L148.50,343.00 L148.90,343.00 L149.30,343.00 L149.70,343.00 L150.10,343.00 L150.50,343.00 L150.90,343.00 L151.30,343.00 L151.70,343.00 L152.10,343.00 L152.50,343.00 L152.90,343.00 L153.30,343.00 L153.70,343.00 L154.10,343.00 L154.50,343.00 L154.90,343.00 L155.30,343.00 L155.70,343.00 L156.10,343.00 L156.50,343.00 L156.90,343.00 L157.30,343.00 L157.70,343.00 L158.10,343.00 L158.50,343.00 L158.90,343.00 L159.30,343.00 L159.70,343.00 L160.10,343.00 L160.50,343.00 L160.90,343.00 L161.30,343.00 L161.70,343.00 L162.10,343.00 L162.50,343.00 L162.90,343.00 L163.30,343.00 L163.70,343.00 L164.10,343.00 L164.50,343.00 L164.90,343.00 L165.30,343.00 L165.70,343.00 L166.10,343.00 L166.50,343.00 L166.90,343.00 L167.30,343.00 L167.70,343.00 L168.10,343.00 L168.50,343.00 L168.90,343.00 L169.30,343.00 L169.70,343.00 L170.10,343.00 L170.50,343.00 L170.90,343.00 L171.30,343.00 L171.70,343.00 L172.10,343.00 L172.50,343.00 L172.90,343.00 L173.30,343.00 L173.70,343.00 L174.10,343.00 L174.50,343.00 L174.90,343.00 L175.30,343.00 L175.70,343.00 L176.10,343.00 L176.50,343.00 L176.90,343.00 L177.30,343.00 L177.70,343.00 L178.10,343.00 L178.50,343.00 L178.90,343.00 L179.30,343.00 L179.70,343.00 L180.10,343.00 L180.50,343.00 L180.90,343.00 L181.30,343.00 L181.70,343.00 L182.10,343.00 L182.50,343.00 L182.90,343.00 L183.30,343.00 L183.70,343.00 L184.10,343.00 L184.50,343.00 L184.90,343.00 L185.30,343.00 L185.70,343.00" fill="none" stroke="#f08670" stroke-width="1.0" stroke-linejoin="round" stroke-opacity="1"/>
<path d="M26.90,340.40 L27.30,340.39 L27.70,340.38 L28.10,340.36 L28.50,340.34 L28.90,340.32 L29.30,340.29 L29.70,340.27 L30.10,340.24 L30.50,340.20 L30.90,340.17 L31.30,340.13 L31.70,340.10 L32.10,340.06 L32.50,340.02 L32.90,339.98 L33.30,339.93 L33.70,339.88 L34.10,339.83 L34.50,339.77 L34.90,339.70 L35.30,339.63 L35.70,339.56 L36.10,339.49 L36.50,339.41 L36.90,339.33 L37.30,339.25 L37.70,339.17 L38.10,339.08 L38.50,339.00 L38.90,338.92 L39.30,338.84 L39.70,338.76 L40.10,338.67 L40.50,338.59 L40.90,338.50 L41.30,338.41 L41.70,338.31 L42.10,338.21 L42.50,338.10 L42.90,337.99 L43.30,337.86 L43.70,337.72 L44.10,337.58 L44.50,337.42 L44.90,337.22 L45.30,336.98 L45.70,336.72 L46.10,336.43 L46.50,336.11 L46.90,335.77 L47.30,335.41 L47.70,335.00 L48.10,334.53 L48.50,334.01 L48.90,333.46 L49.30,332.88 L49.70,332.29 L50.10,331.70 L50.50,331.10 L50.90,330.48 L51.30,329.84 L51.70,329.17 L52.10,328.47 L52.50,327.75 L52.90,326.99 L53.30,326.21 L53.70,325.40 L54.10,324.55 L54.50,323.66 L54.90,322.72 L55.30,321.72 L55.70,320.66 L56.10,319.52 L56.50,318.27 L56.90,316.91 L57.30,315.46 L57.70,313.90 L58.10,312.26 L58.50,310.46 L58.90,308.28 L59.30,306.00 L59.70,304.01 L60.10,302.50 L60.50,301.22 L60.90,300.06 L61.30,298.95 L61.70,297.80 L62.10,296.70 L62.50,295.68 L62.90,294.64 L63.30,293.45 L63.70,292.00 L64.10,290.13 L64.50,287.76 L64.90,284.89 L65.30,281.45 L65.70,276.57 L66.10,270.61 L66.50,264.46 L66.90,258.47 L67.30,252.15 L67.70,246.25 L68.10,241.33 L68.50,236.72 L68.90,232.60 L69.30,229.37 L69.70,227.22 L70.10,225.34 L70.50,223.74 L70.90,222.58 L71.30,222.03 L71.70,222.14 L72.10,222.70 L72.50,223.63 L72.90,224.86 L73.30,226.30 L73.70,228.77 L74.10,232.80 L74.50,237.94 L74.90,243.70 L75.30,251.25 L75.70,260.81 L76.10,270.49 L76.50,279.29 L76.90,288.16 L77.30,296.39 L77.70,303.26 L78.10,308.87 L78.50,313.85 L78.90,318.73 L79.30,324.45 L79.70,331.11 L80.10,336.67 L80.50,339.00 L80.90,338.15 L81.30,336.23 L81.70,334.13 L82.10,332.73 L82.50,331.65 L82.90,330.65 L83.30,329.89 L83.70,329.52 L84.10,329.67 L84.50,330.33 L84.90,331.32 L85.30,332.45 L85.70,333.66 L86.10,335.52 L86.50,337.67 L86.90,339.61 L87.30,340.82 L87.70,340.96 L88.10,340.72 L88.50,340.34 L88.90,339.93 L89.30,339.60 L89.70,339.43 L90.10,339.28 L90.50,339.16 L90.90,339.06 L91.30,339.01 L91.70,339.01 L92.10,339.11 L92.50,339.25 L92.90,339.39 L93.30,339.49 L93.70,339.45 L94.10,339.13 L94.50,338.63 L94.90,338.12 L95.30,337.63 L95.70,337.07 L96.10,336.49 L96.50,335.96 L96.90,335.57 L97.30,335.33 L97.70,335.16 L98.10,335.02 L98.50,334.89 L98.90,334.76 L99.30,334.60 L99.70,334.39 L100.10,334.15 L100.50,333.87 L100.90,333.55 L101.30,333.20 L101.70,332.78 L102.10,332.25 L102.50,331.61 L102.90,330.92 L103.30,330.20 L103.70,329.50 L104.10,328.84 L104.50,328.19 L104.90,327.53 L105.30,326.87 L105.70,326.23 L106.10,325.60 L106.50,325.00 L106.90,324.40 L107.30,323.77 L107.70,323.14 L108.10,322.54 L108.50,321.99 L108.90,321.51 L109.30,321.14 L109.70,320.88 L110.10,320.64 L110.50,320.42 L110.90,320.21 L111.30,320.05 L111.70,319.91 L112.10,319.83 L112.50,319.80 L112.90,319.85 L113.30,319.98 L113.70,320.18 L114.10,320.44 L114.50,320.73 L114.90,321.03 L115.30,321.35 L115.70,321.66 L116.10,322.02 L116.50,322.44 L116.90,322.90 L117.30,323.39 L117.70,323.89 L118.10,324.40 L118.50,324.90 L118.90,325.38 L119.30,325.84 L119.70,326.29 L120.10,326.73 L120.50,327.17 L120.90,327.62 L121.30,328.10 L121.70,328.60 L122.10,329.14 L122.50,329.72 L122.90,330.34 L123.30,330.99 L123.70,331.67 L124.10,332.38 L124.50,333.09 L124.90,333.82 L125.30,334.56 L125.70,335.36 L126.10,336.19 L126.50,337.03 L126.90,337.85 L127.30,338.63 L127.70,339.39 L128.10,340.26 L128.50,341.11 L128.90,341.75 L129.30,342.00 L129.70,341.97 L130.10,341.89 L130.50,341.78 L130.90,341.66 L131.30,341.55 L131.70,341.46 L132.10,341.36 L132.50,341.27 L132.90,341.18 L133.30,341.12 L133.70,341.10 L134.10,341.14 L134.50,341.23 L134.90,341.34 L135.30,341.44 L135.70,341.50 L136.10,341.47 L136.50,341.36 L136.90,341.19 L137.30,340.99 L137.70,340.81 L138.10,340.67 L138.50,340.53 L138.90,340.38 L139.30,340.25 L139.70,340.15 L140.10,340.10 L140.50,340.13 L140.90,340.22 L141.30,340.36 L141.70,340.51 L142.10,340.65 L142.50,340.75 L142.90,340.84 L143.30,340.94 L143.70,341.02 L144.10,341.08 L144.50,341.10 L144.90,340.99 L145.30,340.69 L145.70,340.29 L146.10,339.85 L146.50,339.46 L146.90,339.16 L147.30,338.85 L147.70,338.56 L148.10,338.30 L148.50,338.10 L148.90,337.98 L149.30,337.89 L149.70,337.82 L150.10,337.76 L150.50,337.72 L150.90,337.70 L151.30,337.72 L151.70,337.78 L152.10,337.88 L152.50,338.00 L152.90,338.12 L153.30,338.22 L153.70,338.32 L154.10,338.43 L154.50,338.53 L154.90,338.64 L155.30,338.74 L155.70,338.84 L156.10,338.93 L156.50,339.02 L156.90,339.11 L157.30,339.21 L157.70,339.31 L158.10,339.40 L158.50,339.48 L158.90,339.54 L159.30,339.58 L159.70,339.60 L160.10,339.56 L160.50,339.44 L160.90,339.27 L161.30,339.06 L161.70,338.85 L162.10,338.64 L162.50,338.46 L162.90,338.25 L163.30,338.02 L163.70,337.78 L164.10,337.57 L164.50,337.41 L164.90,337.31 L165.30,337.30 L165.70,337.30 L166.10,337.30 L166.50,337.30 L166.90,337.30 L167.30,337.30 L167.70,337.30 L168.10,337.30 L168.50,337.30 L168.90,337.32 L169.30,337.35 L169.70,337.39 L170.10,337.44 L170.50,337.50 L170.90,337.57 L171.30,337.64 L171.70,337.72 L172.10,337.83 L172.50,337.97 L172.90,338.15 L173.30,338.35 L173.70,338.58 L174.10,338.82 L174.50,339.09 L174.90,339.38 L175.30,339.76 L175.70,340.23 L176.10,340.74 L176.50,341.21 L176.90,341.59 L177.30,341.97 L177.70,342.35 L178.10,342.64 L178.50,342.79 L178.90,342.64 L179.30,342.07 L179.70,341.32 L180.10,340.64 L180.50,340.21 L180.90,339.84 L181.30,339.52 L181.70,339.33 L182.10,339.30 L182.50,339.33 L182.90,339.38 L183.30,339.45 L183.70,339.53 L184.10,339.62 L184.50,339.76 L184.90,339.94 L185.30,340.16 L185.70,340.40" fill="none" stroke="#333333" stroke-width="0.9" stroke-linejoin="round" stroke-opacity="0.8"/>
<text x="88.00" y="227.79" font-size="8.3" font-weight="bold" text-anchor="middle" fill="#111" stroke="#111" stroke-width="0.2">-S-</text>
<line x1="84.00" y1="228.50" x2="81.16" y2="233.03" stroke="#222" stroke-width="0.8"/>
<path d="M79.30,236.00 L79.81,231.60 L83.03,233.62 Z" fill="#222"/>
<text x="102.50" y="308.99" font-size="8.3" font-weight="bold" text-anchor="middle" fill="#111" stroke="#111" stroke-width="0.2">-Zn-</text>
<line x1="102.70" y1="313.30" x2="104.13" y2="318.91" stroke="#222" stroke-width="0.8"/>
<path d="M105.00,322.30 L102.17,318.89 L105.85,317.95 Z" fill="#222"/>
<text x="134.50" y="314.99" font-size="8.3" font-weight="bold" text-anchor="middle" fill="#111" stroke="#111" stroke-width="0.2">-S-</text>
<line x1="130.00" y1="315.50" x2="126.53" y2="320.35" stroke="#222" stroke-width="0.8"/>
<path d="M124.50,323.20 L125.28,318.84 L128.37,321.05 Z" fill="#222"/>
<path d="M229.30,339.40 L229.70,339.21 L230.10,339.05 L230.50,338.93 L230.90,338.85 L231.30,338.81 L231.70,338.81 L232.10,338.89 L232.50,339.00 L232.90,339.11 L233.30,339.19 L233.70,339.17 L234.10,338.98 L234.50,338.70 L234.90,338.42 L235.30,338.23 L235.70,338.21 L236.10,338.29 L236.50,338.40 L236.90,338.51 L237.30,338.59 L237.70,338.59 L238.10,338.49 L238.50,338.33 L238.90,338.12 L239.30,337.91 L239.70,337.71 L240.10,337.57 L240.50,337.46 L240.90,337.36 L241.30,337.27 L241.70,337.18 L242.10,337.08 L242.50,336.97 L242.90,336.84 L243.30,336.67 L243.70,336.45 L244.10,336.20 L244.50,335.91 L244.90,335.61 L245.30,335.31 L245.70,335.01 L246.10,334.73 L246.50,334.48 L246.90,334.24 L247.30,334.01 L247.70,333.78 L248.10,333.55 L248.50,333.32 L248.90,333.07 L249.30,332.80 L249.70,332.55 L250.10,332.28 L250.50,332.01 L250.90,331.72 L251.30,331.41 L251.70,331.07 L252.10,330.70 L252.50,330.27 L252.90,329.78 L253.30,329.23 L253.70,328.64 L254.10,328.01 L254.50,327.35 L254.90,326.67 L255.30,325.97 L255.70,325.21 L256.10,324.41 L256.50,323.57 L256.90,322.69 L257.30,321.77 L257.70,320.83 L258.10,319.85 L258.50,318.81 L258.90,317.69 L259.30,316.52 L259.70,315.34 L260.10,314.16 L260.50,313.00 L260.90,311.89 L261.30,310.79 L261.70,309.70 L262.10,308.58 L262.50,307.42 L262.90,306.18 L263.30,304.86 L263.70,303.46 L264.10,302.02 L264.50,300.58 L264.90,299.15 L265.30,297.85 L265.70,296.58 L266.10,295.18 L266.50,293.49 L266.90,291.27 L267.30,288.35 L267.70,284.87 L268.10,280.98 L268.50,276.30 L268.90,270.88 L269.30,265.01 L269.70,258.73 L270.10,251.18 L270.50,243.37 L270.90,236.59 L271.30,231.77 L271.70,227.52 L272.10,223.78 L272.50,220.78 L272.90,218.81 L273.30,217.74 L273.70,216.89 L274.10,216.34 L274.50,216.21 L274.90,216.50 L275.30,217.12 L275.70,218.03 L276.10,219.16 L276.50,220.76 L276.90,224.26 L277.30,229.31 L277.70,235.27 L278.10,241.49 L278.50,247.85 L278.90,255.21 L279.30,263.26 L279.70,271.63 L280.10,279.97 L280.50,288.15 L280.90,296.55 L281.30,305.00 L281.70,313.30 L282.10,323.02 L282.50,333.28 L282.90,340.25 L283.30,340.96 L283.70,338.84 L284.10,336.02 L284.50,334.00 L284.90,332.90 L285.30,331.99 L285.70,331.52 L286.10,331.75 L286.50,332.70 L286.90,334.04 L287.30,335.41 L287.70,336.59 L288.10,337.98 L288.50,339.42 L288.90,340.65 L289.30,341.39 L289.70,341.46 L290.10,341.21 L290.50,340.78 L290.90,340.25 L291.30,339.72 L291.70,339.25 L292.10,338.93 L292.50,338.66 L292.90,338.40 L293.30,338.18 L293.70,338.04 L294.10,338.04 L294.50,338.78 L294.90,339.94 L295.30,340.85 L295.70,340.98 L296.10,340.81 L296.50,340.51 L296.90,340.13 L297.30,339.70 L297.70,339.29 L298.10,338.91 L298.50,338.54 L298.90,338.15 L299.30,337.75 L299.70,337.34 L300.10,336.92 L300.50,336.51 L300.90,336.10 L301.30,335.71 L301.70,335.33 L302.10,334.96 L302.50,334.59 L302.90,334.21 L303.30,333.80 L303.70,333.36 L304.10,332.87 L304.50,332.30 L304.90,331.64 L305.30,330.93 L305.70,330.20 L306.10,329.48 L306.50,328.78 L306.90,328.15 L307.30,327.56 L307.70,326.96 L308.10,326.36 L308.50,325.76 L308.90,325.19 L309.30,324.64 L309.70,324.15 L310.10,323.71 L310.50,323.34 L310.90,323.06 L311.30,322.85 L311.70,322.67 L312.10,322.50 L312.50,322.36 L312.90,322.23 L313.30,322.11 L313.70,322.00 L314.10,321.90 L314.50,321.80 L314.90,321.70 L315.30,321.59 L315.70,321.48 L316.10,321.38 L316.50,321.30 L316.90,321.24 L317.30,321.20 L317.70,321.22 L318.10,321.34 L318.50,321.56 L318.90,321.86 L319.30,322.22 L319.70,322.63 L320.10,323.06 L320.50,323.50 L320.90,323.99 L321.30,324.58 L321.70,325.26 L322.10,326.01 L322.50,326.82 L322.90,327.68 L323.30,328.55 L323.70,329.47 L324.10,330.55 L324.50,331.74 L324.90,332.98 L325.30,334.18 L325.70,335.28 L326.10,336.22 L326.50,337.08 L326.90,337.91 L327.30,338.68 L327.70,339.38 L328.10,340.00 L328.50,340.50 L328.90,340.93 L329.30,341.34 L329.70,341.71 L330.10,342.02 L330.50,342.28 L330.90,342.47 L331.30,342.59 L331.70,342.71 L332.10,342.80 L332.50,342.87 L332.90,342.90 L333.30,342.84 L333.70,342.63 L334.10,342.33 L334.50,341.99 L334.90,341.70 L335.30,341.53 L335.70,341.52 L336.10,341.64 L336.50,341.83 L336.90,342.07 L337.30,342.31 L337.70,342.51 L338.10,342.62 L338.50,342.71 L338.90,342.79 L339.30,342.85 L339.70,342.89 L340.10,342.90 L340.50,342.90 L340.90,342.90 L341.30,342.90 L341.70,342.90 L342.10,342.90 L342.50,342.90 L342.90,342.90 L343.30,342.90 L343.70,342.90 L344.10,342.90 L344.50,342.90 L344.90,342.90 L345.30,342.90 L345.70,342.90 L346.10,342.90 L346.50,342.90 L346.90,342.90 L347.30,342.90 L347.70,342.90 L348.10,342.90 L348.50,342.90 L348.90,342.90 L349.30,342.90 L349.70,342.90 L350.10,342.90 L350.50,342.90 L350.90,342.90 L351.30,342.90 L351.70,342.90 L352.10,342.90 L352.50,342.90 L352.90,342.90 L353.30,342.90 L353.70,342.90 L354.10,342.90 L354.50,342.90 L354.90,342.90 L355.30,342.90 L355.70,342.90 L356.10,342.90 L356.50,342.90 L356.90,342.90 L357.30,342.90 L357.70,342.90 L358.10,342.90 L358.50,342.90 L358.90,342.90 L359.30,342.90 L359.70,342.90 L360.10,342.90 L360.50,342.90 L360.90,342.90 L361.30,342.90 L361.70,342.90 L362.10,342.90 L362.50,342.90 L362.90,342.90 L363.30,342.90 L363.70,342.90 L364.10,342.90 L364.50,342.90 L364.90,342.90 L365.30,342.90 L365.70,342.90 L366.10,342.90 L366.50,342.90 L366.90,342.90 L367.30,342.90 L367.70,342.90 L368.10,342.90 L368.50,342.90 L368.90,342.90 L369.30,342.90 L369.70,342.90 L370.10,342.90 L370.50,342.90 L370.90,342.90 L371.30,342.90 L371.70,342.90 L372.10,342.90 L372.50,342.90 L372.90,342.90 L373.30,342.90 L373.70,342.90 L374.10,342.90 L374.50,342.90 L374.90,342.90 L375.30,342.90 L375.70,342.90 L376.10,342.90 L376.50,342.90 L376.90,342.90 L377.30,342.90 L377.70,342.90 L378.10,342.90 L378.50,342.90 L378.90,342.90 L379.30,342.90 L379.70,342.90 L380.10,342.90 L380.50,342.90 L380.90,342.90 L381.30,342.90 L381.70,342.90 L382.10,342.90 L382.50,342.90 L382.90,342.90 L383.30,342.90 L383.70,342.90 L384.10,342.90 L384.50,342.90 L384.90,342.90 L385.30,342.90 L385.70,342.90 L386.10,342.90 L386.50,342.90 L386.90,342.90 L387.30,342.90 L387.70,342.90 L388.10,342.90 L388.50,342.90 L388.90,342.90" fill="none" stroke="#f08670" stroke-width="1.0" stroke-linejoin="round" stroke-opacity="1"/>
<path d="M229.30,340.00 L229.70,339.97 L230.10,339.93 L230.50,339.89 L230.90,339.85 L231.30,339.81 L231.70,339.77 L232.10,339.72 L232.50,339.68 L232.90,339.63 L233.30,339.58 L233.70,339.53 L234.10,339.48 L234.50,339.43 L234.90,339.37 L235.30,339.32 L235.70,339.26 L236.10,339.20 L236.50,339.14 L236.90,339.08 L237.30,339.02 L237.70,338.95 L238.10,338.88 L238.50,338.81 L238.90,338.73 L239.30,338.65 L239.70,338.57 L240.10,338.49 L240.50,338.40 L240.90,338.31 L241.30,338.20 L241.70,338.10 L242.10,337.98 L242.50,337.86 L242.90,337.74 L243.30,337.61 L243.70,337.47 L244.10,337.33 L244.50,337.19 L244.90,337.04 L245.30,336.89 L245.70,336.74 L246.10,336.58 L246.50,336.42 L246.90,336.26 L247.30,336.10 L247.70,335.94 L248.10,335.77 L248.50,335.58 L248.90,335.38 L249.30,335.17 L249.70,334.93 L250.10,334.67 L250.50,334.37 L250.90,334.01 L251.30,333.60 L251.70,333.14 L252.10,332.63 L252.50,332.09 L252.90,331.52 L253.30,330.93 L253.70,330.32 L254.10,329.70 L254.50,329.05 L254.90,328.35 L255.30,327.60 L255.70,326.80 L256.10,325.96 L256.50,325.07 L256.90,324.14 L257.30,323.17 L257.70,322.15 L258.10,321.07 L258.50,319.92 L258.90,318.69 L259.30,317.37 L259.70,315.95 L260.10,314.36 L260.50,312.35 L260.90,310.11 L261.30,307.91 L261.70,306.00 L262.10,304.51 L262.50,303.20 L262.90,302.01 L263.30,300.89 L263.70,299.80 L264.10,298.80 L264.50,297.91 L264.90,297.02 L265.30,296.05 L265.70,294.90 L266.10,293.58 L266.50,292.09 L266.90,290.32 L267.30,288.16 L267.70,285.41 L268.10,280.75 L268.50,274.51 L268.90,267.76 L269.30,261.48 L269.70,254.98 L270.10,248.22 L270.50,241.78 L270.90,236.25 L271.30,231.98 L271.70,228.08 L272.10,224.59 L272.50,221.76 L272.90,219.82 L273.30,218.69 L273.70,217.76 L274.10,217.15 L274.50,217.01 L274.90,217.29 L275.30,217.89 L275.70,218.77 L276.10,219.88 L276.50,221.45 L276.90,224.94 L277.30,230.01 L277.70,235.98 L278.10,242.19 L278.50,248.53 L278.90,255.84 L279.30,263.83 L279.70,272.13 L280.10,280.39 L280.50,288.44 L280.90,296.64 L281.30,304.94 L281.70,313.30 L282.10,323.57 L282.50,334.34 L282.90,340.68 L283.30,339.91 L283.70,336.17 L284.10,331.81 L284.50,329.00 L284.90,327.74 L285.30,326.64 L285.70,325.78 L286.10,325.21 L286.50,325.00 L286.90,325.58 L287.30,327.07 L287.70,329.07 L288.10,331.18 L288.50,333.00 L288.90,334.77 L289.30,336.75 L289.70,338.60 L290.10,339.97 L290.50,340.50 L290.90,340.06 L291.30,339.00 L291.70,337.71 L292.10,336.58 L292.50,336.00 L292.90,335.83 L293.30,335.69 L293.70,335.59 L294.10,335.52 L294.50,335.50 L294.90,335.57 L295.30,335.75 L295.70,335.95 L296.10,336.13 L296.50,336.20 L296.90,336.07 L297.30,335.73 L297.70,335.30 L298.10,334.85 L298.50,334.50 L298.90,334.20 L299.30,333.89 L299.70,333.64 L300.10,333.51 L300.50,333.58 L300.90,333.87 L301.30,334.28 L301.70,334.72 L302.10,335.09 L302.50,335.50 L302.90,335.94 L303.30,336.30 L303.70,336.49 L304.10,336.30 L304.50,335.52 L304.90,334.36 L305.30,333.04 L305.70,331.78 L306.10,330.78 L306.50,329.87 L306.90,328.98 L307.30,328.12 L307.70,327.32 L308.10,326.60 L308.50,326.00 L308.90,325.47 L309.30,324.96 L309.70,324.48 L310.10,324.05 L310.50,323.67 L310.90,323.34 L311.30,323.09 L311.70,322.92 L312.10,322.76 L312.50,322.61 L312.90,322.47 L313.30,322.36 L313.70,322.27 L314.10,322.22 L314.50,322.20 L314.90,322.22 L315.30,322.26 L315.70,322.33 L316.10,322.42 L316.50,322.53 L316.90,322.64 L317.30,322.75 L317.70,322.85 L318.10,322.97 L318.50,323.09 L318.90,323.23 L319.30,323.39 L319.70,323.57 L320.10,323.77 L320.50,324.00 L320.90,324.30 L321.30,324.69 L321.70,325.15 L322.10,325.68 L322.50,326.25 L322.90,326.85 L323.30,327.50 L323.70,328.28 L324.10,329.13 L324.50,329.99 L324.90,330.81 L325.30,331.61 L325.70,332.50 L326.10,333.36 L326.50,334.06 L326.90,334.46 L327.30,334.56 L327.70,334.61 L328.10,334.65 L328.50,334.68 L328.90,334.72 L329.30,334.77 L329.70,334.84 L330.10,334.97 L330.50,335.14 L330.90,335.34 L331.30,335.57 L331.70,335.81 L332.10,336.07 L332.50,336.46 L332.90,336.94 L333.30,337.39 L333.70,337.71 L334.10,337.79 L334.50,337.67 L334.90,337.45 L335.30,337.19 L335.70,336.99 L336.10,336.90 L336.50,336.94 L336.90,337.06 L337.30,337.24 L337.70,337.47 L338.10,337.74 L338.50,338.03 L338.90,338.33 L339.30,338.70 L339.70,339.29 L340.10,339.98 L340.50,340.63 L340.90,341.11 L341.30,341.30 L341.70,341.16 L342.10,340.79 L342.50,340.30 L342.90,339.78 L343.30,339.31 L343.70,339.00 L344.10,338.80 L344.50,338.61 L344.90,338.47 L345.30,338.40 L345.70,338.43 L346.10,338.57 L346.50,338.79 L346.90,339.04 L347.30,339.31 L347.70,339.55 L348.10,339.77 L348.50,340.04 L348.90,340.31 L349.30,340.56 L349.70,340.73 L350.10,340.80 L350.50,340.68 L350.90,340.36 L351.30,339.93 L351.70,339.46 L352.10,339.04 L352.50,338.73 L352.90,338.46 L353.30,338.18 L353.70,337.91 L354.10,337.67 L354.50,337.47 L354.90,337.35 L355.30,337.30 L355.70,337.31 L356.10,337.33 L356.50,337.37 L356.90,337.42 L357.30,337.49 L357.70,337.56 L358.10,337.64 L358.50,337.73 L358.90,337.83 L359.30,337.99 L359.70,338.22 L360.10,338.50 L360.50,338.80 L360.90,339.10 L361.30,339.36 L361.70,339.56 L362.10,339.71 L362.50,339.85 L362.90,339.99 L363.30,340.10 L363.70,340.17 L364.10,340.20 L364.50,340.11 L364.90,339.89 L365.30,339.56 L365.70,339.18 L366.10,338.79 L366.50,338.44 L366.90,338.15 L367.30,337.95 L367.70,337.74 L368.10,337.53 L368.50,337.35 L368.90,337.19 L369.30,337.07 L369.70,337.01 L370.10,337.00 L370.50,337.02 L370.90,337.06 L371.30,337.11 L371.70,337.16 L372.10,337.22 L372.50,337.27 L372.90,337.31 L373.30,337.34 L373.70,337.37 L374.10,337.40 L374.50,337.42 L374.90,337.45 L375.30,337.48 L375.70,337.52 L376.10,337.57 L376.50,337.64 L376.90,337.74 L377.30,337.89 L377.70,338.08 L378.10,338.29 L378.50,338.51 L378.90,338.76 L379.30,339.00 L379.70,339.34 L380.10,339.78 L380.50,340.17 L380.90,340.39 L381.30,340.33 L381.70,340.06 L382.10,339.67 L382.50,339.21 L382.90,338.76 L383.30,338.40 L383.70,338.09 L384.10,337.75 L384.50,337.43 L384.90,337.16 L385.30,336.97 L385.70,336.90 L386.10,336.93 L386.50,337.00 L386.90,337.12 L387.30,337.26 L387.70,337.48 L388.10,337.87 L388.50,338.40 L388.90,339.00" fill="none" stroke="#333333" stroke-width="0.9" stroke-linejoin="round" stroke-opacity="0.8"/>
<text x="292.00" y="224.49" font-size="8.3" font-weight="bold" text-anchor="middle" fill="#111" stroke="#111" stroke-width="0.2">-S-</text>
<line x1="288.50" y1="224.50" x2="285.29" y2="229.12" stroke="#222" stroke-width="0.8"/>
<path d="M283.30,232.00 L284.02,227.63 L287.14,229.80 Z" fill="#222"/>
<text x="301.70" y="311.99" font-size="8.3" font-weight="bold" text-anchor="middle" fill="#111" stroke="#111" stroke-width="0.2">-Zn-</text>
<line x1="302.50" y1="314.50" x2="304.01" y2="319.64" stroke="#222" stroke-width="0.8"/>
<path d="M305.00,323.00 L302.05,319.70 L305.69,318.63 Z" fill="#222"/>
<text x="334.00" y="312.29" font-size="8.3" font-weight="bold" text-anchor="middle" fill="#111" stroke="#111" stroke-width="0.2">-S-</text>
<line x1="329.00" y1="312.50" x2="325.85" y2="317.53" stroke="#222" stroke-width="0.8"/>
<path d="M324.00,320.50 L324.51,316.10 L327.73,318.12 Z" fill="#222"/>
<path d="M431.30,338.40 L431.70,338.35 L432.10,338.30 L432.50,338.26 L432.90,338.21 L433.30,338.16 L433.70,338.10 L434.10,338.05 L434.50,338.01 L434.90,338.01 L435.30,338.14 L435.70,338.38 L436.10,338.65 L436.50,338.85 L436.90,338.90 L437.30,338.89 L437.70,338.88 L438.10,338.85 L438.50,338.82 L438.90,338.75 L439.30,338.54 L439.70,338.22 L440.10,337.90 L440.50,337.64 L440.90,337.49 L441.30,337.34 L441.70,337.22 L442.10,337.13 L442.50,337.10 L442.90,337.21 L443.30,337.49 L443.70,337.81 L444.10,338.09 L444.50,338.20 L444.90,338.19 L445.30,338.16 L445.70,338.11 L446.10,338.05 L446.50,337.98 L446.90,337.79 L447.30,337.50 L447.70,337.15 L448.10,336.82 L448.50,336.54 L448.90,336.30 L449.30,336.07 L449.70,335.85 L450.10,335.62 L450.50,335.38 L450.90,335.15 L451.30,334.93 L451.70,334.70 L452.10,334.45 L452.50,334.18 L452.90,333.87 L453.30,333.50 L453.70,333.01 L454.10,332.40 L454.50,331.71 L454.90,330.97 L455.30,330.21 L455.70,329.48 L456.10,328.80 L456.50,328.16 L456.90,327.53 L457.30,326.91 L457.70,326.28 L458.10,325.67 L458.50,325.06 L458.90,324.46 L459.30,323.87 L459.70,323.29 L460.10,322.73 L460.50,322.23 L460.90,321.77 L461.30,321.32 L461.70,320.84 L462.10,320.30 L462.50,319.66 L462.90,318.89 L463.30,317.82 L463.70,316.46 L464.10,314.87 L464.50,313.12 L464.90,311.26 L465.30,309.37 L465.70,307.50 L466.10,305.59 L466.50,303.53 L466.90,301.39 L467.30,299.20 L467.70,297.00 L468.10,294.90 L468.50,292.87 L468.90,290.73 L469.30,288.31 L469.70,285.41 L470.10,281.60 L470.50,277.04 L470.90,272.14 L471.30,267.29 L471.70,262.78 L472.10,258.31 L472.50,253.84 L472.90,249.43 L473.30,245.11 L473.70,240.84 L474.10,236.32 L474.50,232.05 L474.90,228.65 L475.30,226.19 L475.70,223.95 L476.10,222.41 L476.50,222.02 L476.90,222.37 L477.30,223.11 L477.70,224.13 L478.10,225.34 L478.50,227.46 L478.90,230.50 L479.30,234.10 L479.70,238.09 L480.10,243.13 L480.50,248.88 L480.90,254.76 L481.30,260.69 L481.70,266.85 L482.10,273.39 L482.50,280.46 L482.90,288.28 L483.30,297.95 L483.70,308.20 L484.10,317.10 L484.50,326.24 L484.90,334.76 L485.30,340.20 L485.70,340.72 L486.10,338.93 L486.50,336.42 L486.90,334.33 L487.30,333.17 L487.70,332.26 L488.10,332.03 L488.50,332.59 L488.90,333.67 L489.30,334.98 L489.70,336.25 L490.10,337.21 L490.50,338.13 L490.90,339.05 L491.30,339.84 L491.70,340.37 L492.10,340.49 L492.50,340.19 L492.90,339.65 L493.30,339.06 L493.70,338.62 L494.10,338.50 L494.50,338.54 L494.90,338.62 L495.30,338.74 L495.70,338.88 L496.10,339.05 L496.50,339.42 L496.90,339.96 L497.30,340.50 L497.70,340.89 L498.10,340.98 L498.50,340.63 L498.90,339.97 L499.30,339.17 L499.70,338.42 L500.10,337.89 L500.50,337.49 L500.90,337.14 L501.30,336.81 L501.70,336.50 L502.10,336.20 L502.50,335.90 L502.90,335.58 L503.30,335.24 L503.70,334.87 L504.10,334.49 L504.50,334.12 L504.90,333.76 L505.30,333.44 L505.70,333.16 L506.10,332.95 L506.50,332.78 L506.90,332.64 L507.30,332.51 L507.70,332.39 L508.10,332.27 L508.50,332.16 L508.90,332.03 L509.30,331.90 L509.70,331.79 L510.10,331.68 L510.50,331.56 L510.90,331.44 L511.30,331.30 L511.70,331.14 L512.10,330.95 L512.50,330.68 L512.90,330.33 L513.30,329.92 L513.70,329.47 L514.10,329.01 L514.50,328.55 L514.90,328.10 L515.30,327.67 L515.70,327.19 L516.10,326.69 L516.50,326.20 L516.90,325.75 L517.30,325.36 L517.70,325.06 L518.10,324.84 L518.50,324.64 L518.90,324.45 L519.30,324.31 L519.70,324.22 L520.10,324.20 L520.50,324.30 L520.90,324.51 L521.30,324.81 L521.70,325.17 L522.10,325.58 L522.50,326.00 L522.90,326.52 L523.30,327.22 L523.70,328.04 L524.10,328.94 L524.50,329.87 L524.90,330.78 L525.30,331.68 L525.70,332.67 L526.10,333.69 L526.50,334.72 L526.90,335.70 L527.30,336.60 L527.70,337.39 L528.10,338.16 L528.50,338.90 L528.90,339.59 L529.30,340.20 L529.70,340.71 L530.10,341.08 L530.50,341.41 L530.90,341.72 L531.30,341.99 L531.70,342.21 L532.10,342.35 L532.50,342.40 L532.90,342.40 L533.30,342.40 L533.70,342.40 L534.10,342.40 L534.50,342.40 L534.90,342.40 L535.30,342.40 L535.70,342.40 L536.10,342.40 L536.50,342.40 L536.90,342.40 L537.30,342.40 L537.70,342.40 L538.10,342.40 L538.50,342.40 L538.90,342.40 L539.30,342.40 L539.70,342.40 L540.10,342.40 L540.50,342.40 L540.90,342.40 L541.30,342.40 L541.70,342.40 L542.10,342.40 L542.50,342.40 L542.90,342.40 L543.30,342.40 L543.70,342.40 L544.10,342.40 L544.50,342.40 L544.90,342.40 L545.30,342.40 L545.70,342.40 L546.10,342.40 L546.50,342.40 L546.90,342.40 L547.30,342.40 L547.70,342.40 L548.10,342.40 L548.50,342.40 L548.90,342.40 L549.30,342.40 L549.70,342.40 L550.10,342.40 L550.50,342.40 L550.90,342.40 L551.30,342.40 L551.70,342.40 L552.10,342.40 L552.50,342.40 L552.90,342.40 L553.30,342.40 L553.70,342.40 L554.10,342.40 L554.50,342.40 L554.90,342.40 L555.30,342.40 L555.70,342.40 L556.10,342.40 L556.50,342.40 L556.90,342.40 L557.30,342.40 L557.70,342.40 L558.10,342.40 L558.50,342.40 L558.90,342.40 L559.30,342.40 L559.70,342.40 L560.10,342.40 L560.50,342.40 L560.90,342.40 L561.30,342.40 L561.70,342.40 L562.10,342.40 L562.50,342.40 L562.90,342.40 L563.30,342.40 L563.70,342.40 L564.10,342.40 L564.50,342.40 L564.90,342.40 L565.30,342.40 L565.70,342.40 L566.10,342.40 L566.50,342.40 L566.90,342.40 L567.30,342.40 L567.70,342.40 L568.10,342.40 L568.50,342.40 L568.90,342.40 L569.30,342.40 L569.70,342.40 L570.10,342.40 L570.50,342.40 L570.90,342.40 L571.30,342.40 L571.70,342.40 L572.10,342.40 L572.50,342.40 L572.90,342.40 L573.30,342.40 L573.70,342.40 L574.10,342.40 L574.50,342.40 L574.90,342.40 L575.30,342.40 L575.70,342.40 L576.10,342.40 L576.50,342.40 L576.90,342.40 L577.30,342.40 L577.70,342.40 L578.10,342.40 L578.50,342.40 L578.90,342.40 L579.30,342.40 L579.70,342.40 L580.10,342.40 L580.50,342.40 L580.90,342.40 L581.30,342.40 L581.70,342.40 L582.10,342.40 L582.50,342.40 L582.90,342.40 L583.30,342.40 L583.70,342.40 L584.10,342.40 L584.50,342.40 L584.90,342.40 L585.30,342.40 L585.70,342.40 L586.10,342.40 L586.50,342.40 L586.90,342.40 L587.30,342.40 L587.70,342.40 L588.10,342.40 L588.50,342.40 L588.90,342.40 L589.30,342.40 L589.70,342.40 L590.10,342.40 L590.50,342.40 L590.90,342.40" fill="none" stroke="#f08670" stroke-width="1.0" stroke-linejoin="round" stroke-opacity="1"/>
<path d="M431.30,341.90 L431.70,341.90 L432.10,341.90 L432.50,341.90 L432.90,341.90 L433.30,341.90 L433.70,341.90 L434.10,341.90 L434.50,341.90 L434.90,341.90 L435.30,341.90 L435.70,341.90 L436.10,341.90 L436.50,341.90 L436.90,341.90 L437.30,341.89 L437.70,341.87 L438.10,341.85 L438.50,341.82 L438.90,341.78 L439.30,341.74 L439.70,341.69 L440.10,341.64 L440.50,341.59 L440.90,341.53 L441.30,341.48 L441.70,341.42 L442.10,341.36 L442.50,341.30 L442.90,341.23 L443.30,341.13 L443.70,341.01 L444.10,340.89 L444.50,340.76 L444.90,340.64 L445.30,340.54 L445.70,340.46 L446.10,340.41 L446.50,340.40 L446.90,340.44 L447.30,340.52 L447.70,340.63 L448.10,340.76 L448.50,340.90 L448.90,341.04 L449.30,341.15 L449.70,341.24 L450.10,341.29 L450.50,341.29 L450.90,341.19 L451.30,341.02 L451.70,340.78 L452.10,340.48 L452.50,339.97 L452.90,338.93 L453.30,337.54 L453.70,336.03 L454.10,334.60 L454.50,333.18 L454.90,331.62 L455.30,330.02 L455.70,328.47 L456.10,327.07 L456.50,325.90 L456.90,324.92 L457.30,324.01 L457.70,323.17 L458.10,322.41 L458.50,321.73 L458.90,321.14 L459.30,320.63 L459.70,320.23 L460.10,319.88 L460.50,319.56 L460.90,319.23 L461.30,318.85 L461.70,318.38 L462.10,317.78 L462.50,316.98 L462.90,316.01 L463.30,314.88 L463.70,313.63 L464.10,312.17 L464.50,310.32 L464.90,308.21 L465.30,305.97 L465.70,303.76 L466.10,301.70 L466.50,299.82 L466.90,298.01 L467.30,296.23 L467.70,294.43 L468.10,292.58 L468.50,290.61 L468.90,288.57 L469.30,286.52 L469.70,284.37 L470.10,281.98 L470.50,279.25 L470.90,275.91 L471.30,271.72 L471.70,266.99 L472.10,262.04 L472.50,257.20 L472.90,252.17 L473.30,246.76 L473.70,241.46 L474.10,236.79 L474.50,233.19 L474.90,230.01 L475.30,227.19 L475.70,225.12 L476.10,224.15 L476.50,223.66 L476.90,223.41 L477.30,223.63 L477.70,224.57 L478.10,226.07 L478.50,227.97 L478.90,230.10 L479.30,233.19 L479.70,237.71 L480.10,243.16 L480.50,248.99 L480.90,254.70 L481.30,260.39 L481.70,266.37 L482.10,272.88 L482.50,280.13 L482.90,288.52 L483.30,300.53 L483.70,313.14 L484.10,321.65 L484.50,328.06 L484.90,333.38 L485.30,336.55 L485.70,336.80 L486.10,335.57 L486.50,333.94 L486.90,332.77 L487.30,331.80 L487.70,330.97 L488.10,330.52 L488.50,330.68 L488.90,331.36 L489.30,332.32 L489.70,333.34 L490.10,334.20 L490.50,335.13 L490.90,336.14 L491.30,337.04 L491.70,337.64 L492.10,337.79 L492.50,337.52 L492.90,337.01 L493.30,336.39 L493.70,335.82 L494.10,335.41 L494.50,335.06 L494.90,334.73 L495.30,334.53 L495.70,334.54 L496.10,334.80 L496.50,335.23 L496.90,335.75 L497.30,336.27 L497.70,336.75 L498.10,337.34 L498.50,337.95 L498.90,338.38 L499.30,338.49 L499.70,338.30 L500.10,337.96 L500.50,337.57 L500.90,337.25 L501.30,337.05 L501.70,336.86 L502.10,336.69 L502.50,336.56 L502.90,336.50 L503.30,336.56 L503.70,336.78 L504.10,337.07 L504.50,337.34 L504.90,337.49 L505.30,337.44 L505.70,337.23 L506.10,336.89 L506.50,336.50 L506.90,336.10 L507.30,335.68 L507.70,335.17 L508.10,334.61 L508.50,334.07 L508.90,333.60 L509.30,333.24 L509.70,332.93 L510.10,332.64 L510.50,332.37 L510.90,332.08 L511.30,331.77 L511.70,331.46 L512.10,331.15 L512.50,330.84 L512.90,330.51 L513.30,330.17 L513.70,329.80 L514.10,329.39 L514.50,328.92 L514.90,328.37 L515.30,327.79 L515.70,327.19 L516.10,326.61 L516.50,326.07 L516.90,325.60 L517.30,325.19 L517.70,324.76 L518.10,324.34 L518.50,323.97 L518.90,323.68 L519.30,323.52 L519.70,323.51 L520.10,323.62 L520.50,323.82 L520.90,324.08 L521.30,324.40 L521.70,324.74 L522.10,325.09 L522.50,325.57 L522.90,326.17 L523.30,326.86 L523.70,327.59 L524.10,328.32 L524.50,329.00 L524.90,329.68 L525.30,330.41 L525.70,331.14 L526.10,331.83 L526.50,332.43 L526.90,332.91 L527.30,333.24 L527.70,333.51 L528.10,333.73 L528.50,333.94 L528.90,334.14 L529.30,334.37 L529.70,334.64 L530.10,334.92 L530.50,335.22 L530.90,335.53 L531.30,335.86 L531.70,336.19 L532.10,336.53 L532.50,336.88 L532.90,337.28 L533.30,337.71 L533.70,338.15 L534.10,338.58 L534.50,338.98 L534.90,339.33 L535.30,339.60 L535.70,339.83 L536.10,340.07 L536.50,340.28 L536.90,340.48 L537.30,340.64 L537.70,340.75 L538.10,340.80 L538.50,340.75 L538.90,340.53 L539.30,340.18 L539.70,339.77 L540.10,339.32 L540.50,338.90 L540.90,338.54 L541.30,338.28 L541.70,338.01 L542.10,337.75 L542.50,337.51 L542.90,337.29 L543.30,337.13 L543.70,337.02 L544.10,337.00 L544.50,337.11 L544.90,337.31 L545.30,337.59 L545.70,337.92 L546.10,338.24 L546.50,338.57 L546.90,339.03 L547.30,339.56 L547.70,340.08 L548.10,340.51 L548.50,340.76 L548.90,340.76 L549.30,340.48 L549.70,340.02 L550.10,339.47 L550.50,338.92 L550.90,338.48 L551.30,338.17 L551.70,337.84 L552.10,337.53 L552.50,337.24 L552.90,337.00 L553.30,336.81 L553.70,336.71 L554.10,336.71 L554.50,336.80 L554.90,336.97 L555.30,337.18 L555.70,337.43 L556.10,337.68 L556.50,337.93 L556.90,338.25 L557.30,338.62 L557.70,339.03 L558.10,339.44 L558.50,339.83 L558.90,340.18 L559.30,340.47 L559.70,340.74 L560.10,341.02 L560.50,341.29 L560.90,341.53 L561.30,341.73 L561.70,341.85 L562.10,341.90 L562.50,341.84 L562.90,341.69 L563.30,341.47 L563.70,341.19 L564.10,340.88 L564.50,340.57 L564.90,340.27 L565.30,339.96 L565.70,339.57 L566.10,339.14 L566.50,338.70 L566.90,338.30 L567.30,338.00 L567.70,337.82 L568.10,337.80 L568.50,337.83 L568.90,337.88 L569.30,337.94 L569.70,338.01 L570.10,338.07 L570.50,338.13 L570.90,338.19 L571.30,338.26 L571.70,338.33 L572.10,338.37 L572.50,338.40 L572.90,338.36 L573.30,338.22 L573.70,338.00 L574.10,337.75 L574.50,337.50 L574.90,337.30 L575.30,337.12 L575.70,336.92 L576.10,336.72 L576.50,336.56 L576.90,336.44 L577.30,336.40 L577.70,336.49 L578.10,336.74 L578.50,337.09 L578.90,337.48 L579.30,337.85 L579.70,338.17 L580.10,338.50 L580.50,338.86 L580.90,339.22 L581.30,339.56 L581.70,339.85 L582.10,340.07 L582.50,340.20 L582.90,340.26 L583.30,340.31 L583.70,340.34 L584.10,340.37 L584.50,340.40 L584.90,340.44 L585.30,340.49 L585.70,340.56 L586.10,340.68 L586.50,340.81 L586.90,340.94 L587.30,341.04 L587.70,341.10 L588.10,341.05 L588.50,340.87 L588.90,340.62 L589.30,340.33 L589.70,340.07 L590.10,339.79 L590.50,339.48 L590.90,339.15 L591.30,338.80" fill="none" stroke="#333333" stroke-width="0.9" stroke-linejoin="round" stroke-opacity="0.8"/>
<text x="492.30" y="226.99" font-size="8.3" font-weight="bold" text-anchor="middle" fill="#111" stroke="#111" stroke-width="0.2">-S-</text>
<line x1="488.00" y1="228.20" x2="484.96" y2="233.04" stroke="#222" stroke-width="0.8"/>
<path d="M483.10,236.00 L483.62,231.60 L486.84,233.62 Z" fill="#222"/>
<text x="509.50" y="313.79" font-size="8.3" font-weight="bold" text-anchor="middle" fill="#111" stroke="#111" stroke-width="0.2">-Zn-</text>
<line x1="510.50" y1="316.50" x2="511.70" y2="321.59" stroke="#222" stroke-width="0.8"/>
<path d="M512.50,325.00 L509.73,321.54 L513.43,320.67 Z" fill="#222"/>
<text x="539.30" y="317.19" font-size="8.3" font-weight="bold" text-anchor="middle" fill="#111" stroke="#111" stroke-width="0.2">-S-</text>
<line x1="534.50" y1="317.50" x2="531.35" y2="322.53" stroke="#222" stroke-width="0.8"/>
<path d="M529.50,325.50 L530.01,321.10 L533.23,323.12 Z" fill="#222"/>
<path d="M27.30,693.40 L27.70,694.10 L28.10,694.68 L28.50,695.12 L28.90,695.40 L29.30,695.50 L29.70,695.39 L30.10,695.11 L30.50,694.72 L30.90,694.29 L31.30,693.88 L31.70,693.56 L32.10,693.34 L32.50,693.12 L32.90,692.91 L33.30,692.72 L33.70,692.59 L34.10,692.51 L34.50,692.54 L34.90,692.79 L35.30,693.23 L35.70,693.78 L36.10,694.36 L36.50,694.88 L36.90,695.39 L37.30,695.98 L37.70,696.50 L38.10,696.79 L38.50,696.66 L38.90,696.13 L39.30,695.36 L39.70,694.51 L40.10,693.73 L40.50,693.20 L40.90,692.84 L41.30,692.50 L41.70,692.22 L42.10,692.04 L42.50,692.01 L42.90,692.23 L43.30,692.65 L43.70,693.19 L44.10,693.75 L44.50,694.27 L44.90,694.96 L45.30,695.70 L45.70,696.35 L46.10,696.74 L46.50,696.70 L46.90,695.99 L47.30,694.88 L47.70,693.67 L48.10,692.68 L48.50,692.00 L48.90,691.33 L49.30,690.79 L49.70,690.51 L50.10,690.71 L50.50,691.48 L50.90,692.54 L51.30,693.58 L51.70,694.40 L52.10,695.28 L52.50,696.06 L52.90,696.48 L53.30,695.69 L53.70,692.85 L54.10,689.28 L54.50,686.35 L54.90,683.54 L55.30,681.07 L55.70,679.81 L56.10,679.14 L56.50,678.67 L56.90,678.50 L57.30,678.60 L57.70,678.80 L58.10,678.97 L58.50,678.86 L58.90,677.91 L59.30,676.35 L59.70,674.55 L60.10,672.54 L60.50,669.88 L60.90,666.84 L61.30,663.75 L61.70,660.68 L62.10,657.43 L62.50,654.26 L62.90,651.41 L63.30,648.73 L63.70,646.23 L64.10,644.00 L64.50,642.12 L64.90,640.46 L65.30,638.80 L65.70,636.91 L66.10,634.98 L66.50,633.02 L66.90,630.89 L67.30,628.43 L67.70,625.50 L68.10,621.67 L68.50,615.73 L68.90,608.55 L69.30,601.29 L69.70,594.78 L70.10,587.87 L70.50,581.00 L70.90,574.95 L71.30,570.48 L71.70,567.63 L72.10,565.07 L72.50,562.96 L72.90,561.53 L73.30,561.00 L73.70,561.53 L74.10,562.95 L74.50,564.99 L74.90,567.38 L75.30,570.33 L75.70,574.71 L76.10,580.25 L76.50,586.60 L76.90,593.45 L77.30,600.50 L77.70,608.67 L78.10,617.93 L78.50,627.76 L78.90,637.60 L79.30,647.39 L79.70,657.61 L80.10,667.47 L80.50,676.75 L80.90,686.96 L81.30,694.27 L81.70,695.14 L82.10,693.34 L82.50,690.49 L82.90,687.34 L83.30,684.68 L83.70,683.27 L84.10,683.36 L84.50,683.99 L84.90,684.97 L85.30,686.18 L85.70,687.47 L86.10,688.71 L86.50,690.01 L86.90,691.69 L87.30,693.45 L87.70,694.96 L88.10,695.87 L88.50,695.92 L88.90,695.37 L89.30,694.55 L89.70,693.73 L90.10,693.18 L90.50,693.14 L90.90,693.39 L91.30,693.78 L91.70,694.22 L92.10,694.59 L92.50,694.79 L92.90,694.67 L93.30,694.19 L93.70,693.47 L94.10,692.65 L94.50,691.88 L94.90,691.30 L95.30,690.84 L95.70,690.37 L96.10,689.91 L96.50,689.50 L96.90,689.16 L97.30,688.92 L97.70,688.81 L98.10,688.81 L98.50,688.84 L98.90,688.90 L99.30,688.98 L99.70,689.08 L100.10,689.20 L100.50,689.32 L100.90,689.46 L101.30,689.60 L101.70,689.77 L102.10,689.98 L102.50,690.25 L102.90,690.55 L103.30,690.91 L103.70,691.30 L104.10,691.91 L104.50,692.83 L104.90,693.92 L105.30,695.04 L105.70,696.05 L106.10,696.81 L106.50,697.18 L106.90,696.99 L107.30,696.22 L107.70,695.15 L108.10,694.06 L108.50,693.23 L108.90,692.76 L109.30,692.34 L109.70,692.02 L110.10,691.90 L110.50,692.23 L110.90,693.04 L111.30,694.08 L111.70,695.09 L112.10,695.81 L112.50,695.97 L112.90,695.29 L113.30,693.93 L113.70,692.20 L114.10,690.36 L114.50,688.73 L114.90,687.55 L115.30,686.50 L115.70,685.44 L116.10,684.42 L116.50,683.50 L116.90,682.72 L117.30,682.15 L117.70,681.84 L118.10,681.84 L118.50,682.10 L118.90,682.56 L119.30,683.18 L119.70,683.88 L120.10,684.62 L120.50,685.33 L120.90,686.07 L121.30,687.00 L121.70,688.01 L122.10,688.97 L122.50,689.74 L122.90,690.20 L123.30,690.43 L123.70,690.59 L124.10,690.72 L124.50,690.83 L124.90,690.94 L125.30,691.07 L125.70,691.25 L126.10,691.50 L126.50,691.85 L126.90,692.28 L127.30,692.76 L127.70,693.25 L128.10,693.73 L128.50,694.17 L128.90,694.54 L129.30,694.80 L129.70,694.99 L130.10,695.15 L130.50,695.30 L130.90,695.43 L131.30,695.55 L131.70,695.66 L132.10,695.78 L132.50,695.90 L132.90,696.03 L133.30,696.18 L133.70,696.33 L134.10,696.48 L134.50,696.63 L134.90,696.78 L135.30,696.92 L135.70,697.04 L136.10,697.15 L136.50,697.25 L136.90,697.34 L137.30,697.44 L137.70,697.53 L138.10,697.61 L138.50,697.68 L138.90,697.74 L139.30,697.78 L139.70,697.80 L140.10,697.78 L140.50,697.71 L140.90,697.60 L141.30,697.46 L141.70,697.30 L142.10,697.14 L142.50,696.97 L142.90,696.83 L143.30,696.71 L143.70,696.63 L144.10,696.60 L144.50,696.61 L144.90,696.63 L145.30,696.67 L145.70,696.72 L146.10,696.77 L146.50,696.83 L146.90,696.90 L147.30,696.97 L147.70,697.04 L148.10,697.11 L148.50,697.17 L148.90,697.23 L149.30,697.28 L149.70,697.32 L150.10,697.36 L150.50,697.40 L150.90,697.44 L151.30,697.49 L151.70,697.53 L152.10,697.57 L152.50,697.61 L152.90,697.64 L153.30,697.68 L153.70,697.71 L154.10,697.74 L154.50,697.76 L154.90,697.78 L155.30,697.79 L155.70,697.80 L156.10,697.80 L156.50,697.80 L156.90,697.80 L157.30,697.80 L157.70,697.80 L158.10,697.80 L158.50,697.80 L158.90,697.80 L159.30,697.80 L159.70,697.80 L160.10,697.80 L160.50,697.80 L160.90,697.80 L161.30,697.80 L161.70,697.80 L162.10,697.80 L162.50,697.80 L162.90,697.80 L163.30,697.80 L163.70,697.80 L164.10,697.80 L164.50,697.80 L164.90,697.80 L165.30,697.80 L165.70,697.80 L166.10,697.80 L166.50,697.80 L166.90,697.80 L167.30,697.80 L167.70,697.80 L168.10,697.80 L168.50,697.80 L168.90,697.80 L169.30,697.80 L169.70,697.80 L170.10,697.80 L170.50,697.80 L170.90,697.80 L171.30,697.80 L171.70,697.80 L172.10,697.80 L172.50,697.80 L172.90,697.80 L173.30,697.80 L173.70,697.80 L174.10,697.80 L174.50,697.80 L174.90,697.80 L175.30,697.80 L175.70,697.80 L176.10,697.80 L176.50,697.80 L176.90,697.80 L177.30,697.80 L177.70,697.80 L178.10,697.80 L178.50,697.80 L178.90,697.80 L179.30,697.80 L179.70,697.80 L180.10,697.80 L180.50,697.80 L180.90,697.80 L181.30,697.80 L181.70,697.80 L182.10,697.80 L182.50,697.80 L182.90,697.80 L183.30,697.80 L183.70,697.80 L184.10,697.80 L184.50,697.80 L184.90,697.80 L185.30,697.80 L185.70,697.80 L186.10,697.80 L186.50,697.80 L186.90,697.80" fill="none" stroke="#f08670" stroke-width="1.0" stroke-linejoin="round" stroke-opacity="1"/>
<path d="M27.30,691.50 L27.70,692.42 L28.10,693.22 L28.50,693.85 L28.90,694.25 L29.30,694.40 L29.70,694.30 L30.10,694.03 L30.50,693.66 L30.90,693.25 L31.30,692.87 L31.70,692.56 L32.10,692.34 L32.50,692.12 L32.90,691.91 L33.30,691.73 L33.70,691.59 L34.10,691.51 L34.50,691.54 L34.90,691.85 L35.30,692.37 L35.70,693.01 L36.10,693.67 L36.50,694.27 L36.90,694.82 L37.30,695.44 L37.70,695.99 L38.10,696.29 L38.50,696.16 L38.90,695.61 L39.30,694.80 L39.70,693.90 L40.10,693.08 L40.50,692.50 L40.90,692.09 L41.30,691.69 L41.70,691.37 L42.10,691.15 L42.50,691.11 L42.90,691.37 L43.30,691.86 L43.70,692.49 L44.10,693.12 L44.50,693.69 L44.90,694.41 L45.30,695.18 L45.70,695.84 L46.10,696.24 L46.50,696.19 L46.90,695.40 L47.30,694.16 L47.70,692.82 L48.10,691.70 L48.50,690.93 L48.90,690.16 L49.30,689.54 L49.70,689.22 L50.10,689.45 L50.50,690.38 L50.90,691.66 L51.30,692.90 L51.70,693.87 L52.10,694.89 L52.50,695.79 L52.90,696.28 L53.30,695.40 L53.70,692.21 L54.10,688.24 L54.50,684.98 L54.90,681.79 L55.30,679.05 L55.70,677.86 L56.10,677.41 L56.50,677.11 L56.90,677.00 L57.30,677.38 L57.70,678.15 L58.10,678.79 L58.50,678.70 L58.90,677.34 L59.30,675.16 L59.70,672.77 L60.10,670.43 L60.50,667.75 L60.90,664.73 L61.30,661.46 L61.70,657.67 L62.10,653.18 L62.50,648.83 L62.90,645.34 L63.30,642.15 L63.70,639.40 L64.10,637.40 L64.50,636.07 L64.90,635.02 L65.30,634.13 L65.70,633.30 L66.10,632.66 L66.50,632.10 L66.90,631.39 L67.30,630.21 L67.70,627.29 L68.10,622.92 L68.50,618.00 L68.90,612.22 L69.30,605.28 L69.70,598.14 L70.10,591.46 L70.50,584.40 L70.90,577.72 L71.30,572.54 L71.70,569.06 L72.10,565.94 L72.50,563.54 L72.90,562.35 L73.30,562.48 L73.70,563.19 L74.10,564.34 L74.50,565.80 L74.90,568.76 L75.30,573.91 L75.70,580.38 L76.10,587.30 L76.50,594.58 L76.90,603.31 L77.30,612.85 L77.70,622.48 L78.10,631.45 L78.50,639.31 L78.90,646.58 L79.30,653.61 L79.70,660.73 L80.10,668.30 L80.50,678.40 L80.90,688.87 L81.30,693.70 L81.70,691.95 L82.10,688.14 L82.50,684.38 L82.90,682.38 L83.30,680.83 L83.70,679.54 L84.10,678.71 L84.50,678.53 L84.90,679.23 L85.30,680.58 L85.70,682.26 L86.10,683.92 L86.50,685.59 L86.90,687.71 L87.30,689.92 L87.70,691.80 L88.10,692.94 L88.50,693.05 L88.90,692.71 L89.30,692.20 L89.70,691.69 L90.10,691.35 L90.50,691.34 L90.90,691.59 L91.30,691.93 L91.70,692.22 L92.10,692.29 L92.50,692.18 L92.90,691.94 L93.30,691.63 L93.70,691.28 L94.10,690.95 L94.50,690.66 L94.90,690.35 L95.30,690.04 L95.70,689.72 L96.10,689.41 L96.50,689.13 L96.90,688.87 L97.30,688.59 L97.70,688.33 L98.10,688.15 L98.50,688.10 L98.90,688.16 L99.30,688.29 L99.70,688.46 L100.10,688.65 L100.50,688.85 L100.90,689.05 L101.30,689.24 L101.70,689.44 L102.10,689.66 L102.50,689.92 L102.90,690.23 L103.30,690.60 L103.70,691.14 L104.10,691.80 L104.50,692.54 L104.90,693.30 L105.30,694.36 L105.70,695.57 L106.10,696.61 L106.50,697.17 L106.90,696.93 L107.30,695.97 L107.70,694.69 L108.10,693.52 L108.50,692.76 L108.90,692.07 L109.30,691.52 L109.70,691.30 L110.10,691.56 L110.50,692.20 L110.90,692.98 L111.30,693.70 L111.70,694.46 L112.10,695.18 L112.50,695.36 L112.90,694.54 L113.30,692.98 L113.70,691.12 L114.10,689.37 L114.50,687.88 L114.90,686.26 L115.30,684.74 L115.70,683.57 L116.10,682.92 L116.50,682.39 L116.90,681.94 L117.30,681.61 L117.70,681.42 L118.10,681.43 L118.50,681.68 L118.90,682.12 L119.30,682.69 L119.70,683.32 L120.10,683.97 L120.50,684.93 L120.90,686.17 L121.30,687.47 L121.70,688.62 L122.10,689.41 L122.50,689.71 L122.90,689.91 L123.30,690.06 L123.70,690.16 L124.10,690.20 L124.50,689.86 L124.90,689.11 L125.30,688.30 L125.70,687.82 L126.10,687.90 L126.50,688.30 L126.90,688.86 L127.30,689.48 L127.70,690.03 L128.10,690.61 L128.50,691.24 L128.90,691.87 L129.30,692.44 L129.70,692.92 L130.10,693.26 L130.50,693.58 L130.90,693.88 L131.30,694.13 L131.70,694.31 L132.10,694.40 L132.50,694.34 L132.90,694.11 L133.30,693.81 L133.70,693.52 L134.10,693.33 L134.50,693.33 L134.90,693.58 L135.30,694.00 L135.70,694.51 L136.10,695.04 L136.50,695.50 L136.90,695.96 L137.30,696.49 L137.70,697.00 L138.10,697.42 L138.50,697.67 L138.90,697.62 L139.30,697.10 L139.70,696.27 L140.10,695.35 L140.50,694.56 L140.90,694.12 L141.30,693.82 L141.70,693.56 L142.10,693.33 L142.50,693.18 L142.90,693.10 L143.30,693.11 L143.70,693.13 L144.10,693.17 L144.50,693.22 L144.90,693.26 L145.30,693.29 L145.70,693.30 L146.10,693.25 L146.50,693.13 L146.90,692.96 L147.30,692.79 L147.70,692.65 L148.10,692.56 L148.50,692.48 L148.90,692.41 L149.30,692.35 L149.70,692.31 L150.10,692.30 L150.50,692.41 L150.90,692.63 L151.30,692.94 L151.70,693.30 L152.10,693.71 L152.50,694.11 L152.90,694.50 L153.30,695.01 L153.70,695.63 L154.10,696.28 L154.50,696.89 L154.90,697.38 L155.30,697.66 L155.70,697.65 L156.10,697.28 L156.50,696.69 L156.90,696.00 L157.30,695.36 L157.70,694.90 L158.10,694.49 L158.50,694.08 L158.90,693.71 L159.30,693.44 L159.70,693.31 L160.10,693.35 L160.50,693.55 L160.90,693.86 L161.30,694.25 L161.70,694.68 L162.10,695.11 L162.50,695.50 L162.90,695.93 L163.30,696.45 L163.70,696.97 L164.10,697.41 L164.50,697.66 L164.90,697.67 L165.30,697.46 L165.70,697.09 L166.10,696.63 L166.50,696.15 L166.90,695.70 L167.30,695.36 L167.70,695.13 L168.10,694.90 L168.50,694.69 L168.90,694.49 L169.30,694.34 L169.70,694.24 L170.10,694.20 L170.50,694.26 L170.90,694.41 L171.30,694.63 L171.70,694.88 L172.10,695.13 L172.50,695.36 L172.90,695.54 L173.30,695.71 L173.70,695.89 L174.10,696.06 L174.50,696.21 L174.90,696.33 L175.30,696.39 L175.70,696.39 L176.10,696.32 L176.50,696.19 L176.90,696.02 L177.30,695.82 L177.70,695.59 L178.10,695.37 L178.50,695.15 L178.90,694.95 L179.30,694.72 L179.70,694.45 L180.10,694.17 L180.50,693.89 L180.90,693.65 L181.30,693.45 L181.70,693.33 L182.10,693.30 L182.50,693.30 L182.90,693.30 L183.30,693.30 L183.70,693.30 L184.10,693.30 L184.50,693.32 L184.90,693.40 L185.30,693.53 L185.70,693.71 L186.10,693.92 L186.50,694.15 L186.90,694.40" fill="none" stroke="#333333" stroke-width="0.9" stroke-linejoin="round" stroke-opacity="0.8"/>
<text x="88.30" y="583.29" font-size="8.3" font-weight="bold" text-anchor="middle" fill="#111" stroke="#111" stroke-width="0.2">-S-</text>
<line x1="84.00" y1="583.50" x2="81.01" y2="588.07" stroke="#222" stroke-width="0.8"/>
<path d="M79.10,591.00 L79.70,586.61 L82.88,588.69 Z" fill="#222"/>
<text x="95.20" y="670.99" font-size="8.3" font-weight="bold" text-anchor="middle" fill="#111" stroke="#111" stroke-width="0.2">-Cu-</text>
<line x1="94.30" y1="675.60" x2="95.83" y2="681.51" stroke="#222" stroke-width="0.8"/>
<path d="M96.70,684.90 L93.86,681.50 L97.54,680.55 Z" fill="#222"/>
<text x="111.50" y="673.89" font-size="8.3" font-weight="bold" text-anchor="middle" fill="#111" stroke="#111" stroke-width="0.2">-In-</text>
<line x1="109.50" y1="677.30" x2="106.50" y2="681.96" stroke="#222" stroke-width="0.8"/>
<path d="M104.60,684.90 L105.17,680.51 L108.36,682.57 Z" fill="#222"/>
<text x="130.80" y="668.09" font-size="8.3" font-weight="bold" text-anchor="middle" fill="#111" stroke="#111" stroke-width="0.2">-Cu-</text>
<line x1="127.00" y1="672.70" x2="124.00" y2="677.36" stroke="#222" stroke-width="0.8"/>
<path d="M122.10,680.30 L122.67,675.91 L125.86,677.97 Z" fill="#222"/>
<text x="142.20" y="676.29" font-size="8.3" font-weight="bold" text-anchor="middle" fill="#111" stroke="#111" stroke-width="0.2">-S-</text>
<line x1="137.60" y1="676.00" x2="134.23" y2="680.75" stroke="#222" stroke-width="0.8"/>
<path d="M132.20,683.60 L132.97,679.24 L136.07,681.44 Z" fill="#222"/>
<path d="M230.90,697.30 L231.30,697.26 L231.70,697.21 L232.10,697.16 L232.50,697.11 L232.90,697.06 L233.30,697.01 L233.70,696.95 L234.10,696.89 L234.50,696.83 L234.90,696.77 L235.30,696.71 L235.70,696.64 L236.10,696.58 L236.50,696.51 L236.90,696.44 L237.30,696.37 L237.70,696.30 L238.10,696.23 L238.50,696.16 L238.90,696.09 L239.30,696.01 L239.70,695.94 L240.10,695.86 L240.50,695.78 L240.90,695.69 L241.30,695.60 L241.70,695.51 L242.10,695.41 L242.50,695.30 L242.90,695.19 L243.30,695.06 L243.70,694.93 L244.10,694.78 L244.50,694.62 L244.90,694.44 L245.30,694.24 L245.70,694.03 L246.10,693.80 L246.50,693.56 L246.90,693.30 L247.30,693.03 L247.70,692.75 L248.10,692.46 L248.50,692.15 L248.90,691.83 L249.30,691.50 L249.70,691.13 L250.10,690.72 L250.50,690.25 L250.90,689.75 L251.30,689.22 L251.70,688.66 L252.10,688.10 L252.50,687.54 L252.90,686.98 L253.30,686.43 L253.70,685.89 L254.10,685.36 L254.50,684.83 L254.90,684.28 L255.30,683.72 L255.70,683.12 L256.10,682.49 L256.50,681.82 L256.90,681.09 L257.30,680.29 L257.70,679.38 L258.10,678.38 L258.50,677.30 L258.90,676.16 L259.30,674.99 L259.70,673.79 L260.10,672.58 L260.50,671.37 L260.90,670.20 L261.30,669.04 L261.70,667.89 L262.10,666.72 L262.50,665.55 L262.90,664.35 L263.30,663.13 L263.70,661.89 L264.10,660.60 L264.50,659.28 L264.90,657.91 L265.30,656.50 L265.70,655.04 L266.10,653.50 L266.50,651.86 L266.90,650.13 L267.30,648.41 L267.70,646.56 L268.10,644.45 L268.50,641.92 L268.90,638.50 L269.30,633.69 L269.70,628.07 L270.10,622.29 L270.50,617.00 L270.90,611.94 L271.30,606.71 L271.70,601.71 L272.10,597.34 L272.50,594.00 L272.90,591.30 L273.30,588.70 L273.70,586.40 L274.10,584.59 L274.50,583.47 L274.90,583.22 L275.30,583.67 L275.70,584.63 L276.10,585.99 L276.50,587.64 L276.90,589.52 L277.30,592.67 L277.70,597.14 L278.10,602.45 L278.50,608.15 L278.90,614.00 L279.30,620.87 L279.70,628.44 L280.10,636.14 L280.50,643.42 L280.90,650.04 L281.30,656.54 L281.70,662.80 L282.10,668.70 L282.50,674.10 L282.90,679.62 L283.30,685.45 L283.70,690.80 L284.10,694.88 L284.50,696.91 L284.90,696.52 L285.30,694.73 L285.70,692.25 L286.10,689.77 L286.50,687.98 L286.90,687.52 L287.30,688.01 L287.70,688.93 L288.10,690.01 L288.50,691.00 L288.90,691.98 L289.30,693.11 L289.70,694.27 L290.10,695.31 L290.50,696.10 L290.90,696.48 L291.30,696.35 L291.70,695.80 L292.10,695.06 L292.50,694.39 L292.90,694.02 L293.30,694.04 L293.70,694.19 L294.10,694.41 L294.50,694.68 L294.90,694.94 L295.30,695.22 L295.70,695.60 L296.10,696.00 L296.50,696.32 L296.90,696.49 L297.30,696.33 L297.70,695.68 L298.10,694.72 L298.50,693.66 L298.90,692.70 L299.30,691.92 L299.70,691.13 L300.10,690.35 L300.50,689.59 L300.90,688.89 L301.30,688.27 L301.70,687.75 L302.10,687.27 L302.50,686.84 L302.90,686.44 L303.30,686.07 L303.70,685.73 L304.10,685.43 L304.50,685.13 L304.90,684.84 L305.30,684.58 L305.70,684.34 L306.10,684.15 L306.50,684.00 L306.90,683.90 L307.30,683.83 L307.70,683.77 L308.10,683.71 L308.50,683.63 L308.90,683.53 L309.30,683.36 L309.70,683.05 L310.10,682.65 L310.50,682.19 L310.90,681.70 L311.30,681.23 L311.70,680.77 L312.10,680.26 L312.50,679.72 L312.90,679.17 L313.30,678.67 L313.70,678.24 L314.10,677.93 L314.50,677.66 L314.90,677.39 L315.30,677.16 L315.70,676.97 L316.10,676.85 L316.50,676.80 L316.90,676.86 L317.30,677.02 L317.70,677.26 L318.10,677.58 L318.50,677.95 L318.90,678.35 L319.30,678.78 L319.70,679.24 L320.10,679.87 L320.50,680.65 L320.90,681.52 L321.30,682.44 L321.70,683.35 L322.10,684.21 L322.50,685.11 L322.90,686.04 L323.30,686.99 L323.70,687.90 L324.10,688.75 L324.50,689.50 L324.90,690.17 L325.30,690.80 L325.70,691.38 L326.10,691.93 L326.50,692.44 L326.90,692.89 L327.30,693.31 L327.70,693.69 L328.10,694.05 L328.50,694.38 L328.90,694.70 L329.30,695.00 L329.70,695.29 L330.10,695.57 L330.50,695.84 L330.90,696.11 L331.30,696.37 L331.70,696.60 L332.10,696.82 L332.50,697.00 L332.90,697.17 L333.30,697.35 L333.70,697.51 L334.10,697.65 L334.50,697.75 L334.90,697.80 L335.30,697.80 L335.70,697.80 L336.10,697.80 L336.50,697.80 L336.90,697.80 L337.30,697.80 L337.70,697.80 L338.10,697.80 L338.50,697.80 L338.90,697.80 L339.30,697.80 L339.70,697.80 L340.10,697.80 L340.50,697.80 L340.90,697.80 L341.30,697.80 L341.70,697.80 L342.10,697.80 L342.50,697.80 L342.90,697.80 L343.30,697.80 L343.70,697.80 L344.10,697.80 L344.50,697.80 L344.90,697.80 L345.30,697.80 L345.70,697.80 L346.10,697.80 L346.50,697.80 L346.90,697.80 L347.30,697.80 L347.70,697.80 L348.10,697.80 L348.50,697.80 L348.90,697.80 L349.30,697.80 L349.70,697.80 L350.10,697.80 L350.50,697.80 L350.90,697.80 L351.30,697.80 L351.70,697.80 L352.10,697.80 L352.50,697.80 L352.90,697.80 L353.30,697.80 L353.70,697.80 L354.10,697.80 L354.50,697.80 L354.90,697.80 L355.30,697.80 L355.70,697.80 L356.10,697.80 L356.50,697.80 L356.90,697.80 L357.30,697.80 L357.70,697.80 L358.10,697.80 L358.50,697.80 L358.90,697.80 L359.30,697.80 L359.70,697.80 L360.10,697.80 L360.50,697.80 L360.90,697.80 L361.30,697.80 L361.70,697.80 L362.10,697.80 L362.50,697.80 L362.90,697.80 L363.30,697.80 L363.70,697.80 L364.10,697.80 L364.50,697.80 L364.90,697.80 L365.30,697.80 L365.70,697.80 L366.10,697.80 L366.50,697.80 L366.90,697.80 L367.30,697.80 L367.70,697.80 L368.10,697.80 L368.50,697.80 L368.90,697.80 L369.30,697.80 L369.70,697.80 L370.10,697.80 L370.50,697.80 L370.90,697.80 L371.30,697.80 L371.70,697.80 L372.10,697.80 L372.50,697.80 L372.90,697.80 L373.30,697.80 L373.70,697.80 L374.10,697.80 L374.50,697.80 L374.90,697.80 L375.30,697.80 L375.70,697.80 L376.10,697.80 L376.50,697.80 L376.90,697.80 L377.30,697.80 L377.70,697.80 L378.10,697.80 L378.50,697.80 L378.90,697.80 L379.30,697.80 L379.70,697.80 L380.10,697.80 L380.50,697.80 L380.90,697.80 L381.30,697.80 L381.70,697.80 L382.10,697.80 L382.50,697.80 L382.90,697.80 L383.30,697.80 L383.70,697.80 L384.10,697.80 L384.50,697.80 L384.90,697.80 L385.30,697.80 L385.70,697.80 L386.10,697.80 L386.50,697.80 L386.90,697.80 L387.30,697.80 L387.70,697.80 L388.10,697.80 L388.50,697.80 L388.90,697.80 L389.30,697.80 L389.70,697.80" fill="none" stroke="#f08670" stroke-width="1.0" stroke-linejoin="round" stroke-opacity="1"/>
<path d="M230.90,696.30 L231.30,696.17 L231.70,696.06 L232.10,695.94 L232.50,695.84 L232.90,695.74 L233.30,695.66 L233.70,695.58 L234.10,695.52 L234.50,695.47 L234.90,695.43 L235.30,695.41 L235.70,695.40 L236.10,695.41 L236.50,695.43 L236.90,695.46 L237.30,695.50 L237.70,695.55 L238.10,695.59 L238.50,695.64 L238.90,695.69 L239.30,695.73 L239.70,695.76 L240.10,695.79 L240.50,695.80 L240.90,695.77 L241.30,695.64 L241.70,695.44 L242.10,695.17 L242.50,694.86 L242.90,694.53 L243.30,694.19 L243.70,693.87 L244.10,693.58 L244.50,693.35 L244.90,693.14 L245.30,692.96 L245.70,692.79 L246.10,692.63 L246.50,692.46 L246.90,692.29 L247.30,692.10 L247.70,691.88 L248.10,691.64 L248.50,691.35 L248.90,691.00 L249.30,690.58 L249.70,690.12 L250.10,689.60 L250.50,689.04 L250.90,688.44 L251.30,687.64 L251.70,686.67 L252.10,685.66 L252.50,684.74 L252.90,684.03 L253.30,683.61 L253.70,683.27 L254.10,682.99 L254.50,682.82 L254.90,682.83 L255.30,683.04 L255.70,683.34 L256.10,683.63 L256.50,683.79 L256.90,683.58 L257.30,682.71 L257.70,681.39 L258.10,679.86 L258.50,678.35 L258.90,676.92 L259.30,675.33 L259.70,673.63 L260.10,671.90 L260.50,670.20 L260.90,668.48 L261.30,666.69 L261.70,664.89 L262.10,663.18 L262.50,661.62 L262.90,660.29 L263.30,659.16 L263.70,658.16 L264.10,657.23 L264.50,656.30 L264.90,655.32 L265.30,654.28 L265.70,653.29 L266.10,652.30 L266.50,651.18 L266.90,649.81 L267.30,648.02 L267.70,645.40 L268.10,642.11 L268.50,638.39 L268.90,634.48 L269.30,630.30 L269.70,625.40 L270.10,620.17 L270.50,615.00 L270.90,610.30 L271.30,605.74 L271.70,601.04 L272.10,596.68 L272.50,593.14 L272.90,590.90 L273.30,589.53 L273.70,588.33 L274.10,587.41 L274.50,586.84 L274.90,586.72 L275.30,587.07 L275.70,587.82 L276.10,588.89 L276.50,590.19 L276.90,591.85 L277.30,594.91 L277.70,599.16 L278.10,604.17 L278.50,609.53 L278.90,615.03 L279.30,621.58 L279.70,628.87 L280.10,636.34 L280.50,643.45 L280.90,650.03 L281.30,656.64 L281.70,663.05 L282.10,668.96 L282.50,674.10 L282.90,679.00 L283.30,684.03 L283.70,688.70 L284.10,692.49 L284.50,694.90 L284.90,695.45 L285.30,694.34 L285.70,692.22 L286.10,689.63 L286.50,687.14 L286.90,685.29 L287.30,684.24 L287.70,683.27 L288.10,682.40 L288.50,681.72 L288.90,681.30 L289.30,681.21 L289.70,681.51 L290.10,682.10 L290.50,682.89 L290.90,683.77 L291.30,684.62 L291.70,685.38 L292.10,686.22 L292.50,687.12 L292.90,688.02 L293.30,688.86 L293.70,689.57 L294.10,690.12 L294.50,690.56 L294.90,690.94 L295.30,691.28 L295.70,691.59 L296.10,691.89 L296.50,692.20 L296.90,692.50 L297.30,692.79 L297.70,693.07 L298.10,693.34 L298.50,693.62 L298.90,693.92 L299.30,694.27 L299.70,694.71 L300.10,695.18 L300.50,695.62 L300.90,695.97 L301.30,696.17 L301.70,696.15 L302.10,695.80 L302.50,695.18 L302.90,694.38 L303.30,693.49 L303.70,692.61 L304.10,691.81 L304.50,690.98 L304.90,690.08 L305.30,689.16 L305.70,688.23 L306.10,687.33 L306.50,686.50 L306.90,685.71 L307.30,684.93 L307.70,684.17 L308.10,683.44 L308.50,682.77 L308.90,682.14 L309.30,681.58 L309.70,681.05 L310.10,680.55 L310.50,680.07 L310.90,679.62 L311.30,679.19 L311.70,678.79 L312.10,678.40 L312.50,678.01 L312.90,677.61 L313.30,677.24 L313.70,676.91 L314.10,676.66 L314.50,676.50 L314.90,676.41 L315.30,676.32 L315.70,676.26 L316.10,676.22 L316.50,676.20 L316.90,676.27 L317.30,676.45 L317.70,676.72 L318.10,677.07 L318.50,677.47 L318.90,677.89 L319.30,678.39 L319.70,679.10 L320.10,679.95 L320.50,680.86 L320.90,681.78 L321.30,682.69 L321.70,683.69 L322.10,684.73 L322.50,685.77 L322.90,686.75 L323.30,687.62 L323.70,688.35 L324.10,689.03 L324.50,689.67 L324.90,690.26 L325.30,690.78 L325.70,691.23 L326.10,691.58 L326.50,691.86 L326.90,692.09 L327.30,692.29 L327.70,692.47 L328.10,692.66 L328.50,692.88 L328.90,693.13 L329.30,693.44 L329.70,693.81 L330.10,694.22 L330.50,694.65 L330.90,695.08 L331.30,695.50 L331.70,695.96 L332.10,696.49 L332.50,696.99 L332.90,697.36 L333.30,697.50 L333.70,697.34 L334.10,696.94 L334.50,696.42 L334.90,695.89 L335.30,695.47 L335.70,695.19 L336.10,694.92 L336.50,694.67 L336.90,694.46 L337.30,694.33 L337.70,694.30 L338.10,694.39 L338.50,694.58 L338.90,694.84 L339.30,695.14 L339.70,695.46 L340.10,695.76 L340.50,696.05 L340.90,696.40 L341.30,696.79 L341.70,697.14 L342.10,697.40 L342.50,697.50 L342.90,697.40 L343.30,697.13 L343.70,696.74 L344.10,696.29 L344.50,695.82 L344.90,695.38 L345.30,695.01 L345.70,694.64 L346.10,694.22 L346.50,693.82 L346.90,693.46 L347.30,693.18 L347.70,693.02 L348.10,693.00 L348.50,693.01 L348.90,693.02 L349.30,693.04 L349.70,693.06 L350.10,693.08 L350.50,693.11 L350.90,693.14 L351.30,693.17 L351.70,693.20 L352.10,693.24 L352.50,693.30 L352.90,693.37 L353.30,693.45 L353.70,693.53 L354.10,693.62 L354.50,693.71 L354.90,693.80 L355.30,693.88 L355.70,693.95 L356.10,694.01 L356.50,694.07 L356.90,694.13 L357.30,694.19 L357.70,694.25 L358.10,694.31 L358.50,694.37 L358.90,694.42 L359.30,694.47 L359.70,694.51 L360.10,694.55 L360.50,694.57 L360.90,694.59 L361.30,694.60 L361.70,694.57 L362.10,694.45 L362.50,694.25 L362.90,694.00 L363.30,693.72 L363.70,693.41 L364.10,693.11 L364.50,692.83 L364.90,692.57 L365.30,692.27 L365.70,691.93 L366.10,691.61 L366.50,691.32 L366.90,691.11 L367.30,691.00 L367.70,691.01 L368.10,691.06 L368.50,691.15 L368.90,691.26 L369.30,691.38 L369.70,691.51 L370.10,691.65 L370.50,691.77 L370.90,691.90 L371.30,692.05 L371.70,692.22 L372.10,692.40 L372.50,692.57 L372.90,692.72 L373.30,692.83 L373.70,692.89 L374.10,692.89 L374.50,692.81 L374.90,692.67 L375.30,692.49 L375.70,692.30 L376.10,692.11 L376.50,691.95 L376.90,691.83 L377.30,691.78 L377.70,691.73 L378.10,691.69 L378.50,691.66 L378.90,691.63 L379.30,691.61 L379.70,691.60 L380.10,691.62 L380.50,691.70 L380.90,691.83 L381.30,691.99 L381.70,692.15 L382.10,692.30 L382.50,692.42 L382.90,692.49 L383.30,692.49 L383.70,692.46 L384.10,692.39 L384.50,692.29 L384.90,692.19 L385.30,692.07 L385.70,691.96 L386.10,691.85 L386.50,691.75 L386.90,691.64 L387.30,691.51 L387.70,691.38 L388.10,691.26 L388.50,691.15 L388.90,691.07 L389.30,691.01 L389.70,691.00 L390.10,691.00" fill="none" stroke="#333333" stroke-width="0.9" stroke-linejoin="round" stroke-opacity="0.8"/>
<text x="291.30" y="583.79" font-size="8.3" font-weight="bold" text-anchor="middle" fill="#111" stroke="#111" stroke-width="0.2">-S-</text>
<line x1="287.00" y1="584.50" x2="284.03" y2="588.98" stroke="#222" stroke-width="0.8"/>
<path d="M282.10,591.90 L282.72,587.52 L285.89,589.61 Z" fill="#222"/>
<text x="305.00" y="666.29" font-size="8.3" font-weight="bold" text-anchor="middle" fill="#111" stroke="#111" stroke-width="0.2">-Zn-</text>
<line x1="306.20" y1="669.00" x2="307.59" y2="674.12" stroke="#222" stroke-width="0.8"/>
<path d="M308.50,677.50 L305.62,674.14 L309.29,673.14 Z" fill="#222"/>
<text x="335.30" y="669.39" font-size="8.3" font-weight="bold" text-anchor="middle" fill="#111" stroke="#111" stroke-width="0.2">-S-</text>
<line x1="330.00" y1="669.80" x2="326.91" y2="674.56" stroke="#222" stroke-width="0.8"/>
<path d="M325.00,677.50 L325.58,673.11 L328.77,675.18 Z" fill="#222"/>
</svg></body></html>
